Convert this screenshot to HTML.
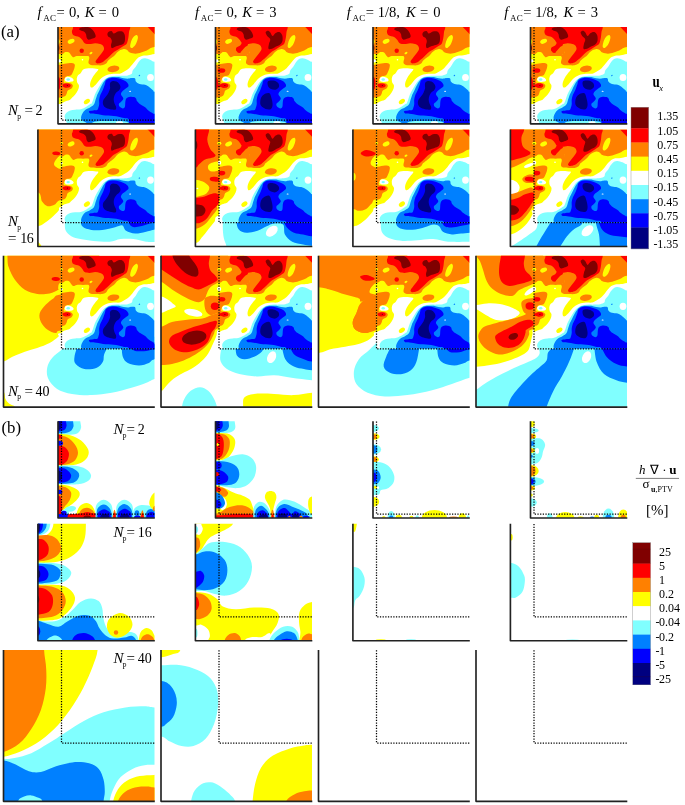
<!DOCTYPE html>
<html><head><meta charset="utf-8"><title>Figure</title>
<style>html,body{margin:0;padding:0;background:#fff}svg{display:block}text{font-family:"Liberation Serif",serif;fill:#000}</style>
</head><body>
<svg width="685" height="805" viewBox="0 0 685 805">
<rect width="685" height="805" fill="#fff"/>
<defs>
<clipPath id="cp0"><rect x="-3.5" y="0" width="96.5" height="96.5"/></clipPath>
<clipPath id="cp1"><rect x="-23.6" y="0" width="116.6" height="116.6"/></clipPath>
<clipPath id="cp2"><rect x="-58.0" y="0" width="151.0" height="151.0"/></clipPath>
<clipPath id="ci"><rect x="0" y="0" width="93.0" height="93.0"/></clipPath>
</defs>
<g transform="translate(61.5,27.0)">
<g clip-path="url(#cp0)">
<rect x="-60" y="0" width="160" height="160" fill="#fff"/>
<path fill="#ffff00" d="M120.0,-20.0L104.5,26.7C104.5,26.7 96.0,26.8 93.0,27.1C90.1,27.4 88.8,28.1 86.9,28.3C84.9,28.6 82.8,28.4 81.2,28.7C79.6,29.1 78.4,29.5 77.2,30.3C76.0,31.1 75.1,32.3 74.0,33.5C72.9,34.7 71.9,36.3 70.8,37.6C69.7,38.8 68.8,40.1 67.6,41.2C66.4,42.2 65.1,43.1 63.6,44.0C62.0,44.9 60.2,46.2 58.3,46.7C56.3,47.1 54.0,46.5 51.9,46.7C49.7,46.9 47.2,47.4 45.4,47.9C43.7,48.4 42.6,49.1 41.4,49.9C40.2,50.7 39.3,51.6 38.2,52.7C37.1,53.8 36.1,55.5 35.0,56.7C33.9,57.9 32.7,59.3 31.8,59.9C30.8,60.5 29.8,60.9 29.2,60.3C28.7,59.8 28.4,58.1 28.6,56.7C28.7,55.3 29.4,53.5 30.2,51.9C31.0,50.3 32.3,48.6 33.4,47.1C34.5,45.6 36.2,43.9 36.6,43.1C37.0,42.2 37.1,42.2 35.8,41.9C34.5,41.6 30.8,41.2 28.6,41.3C26.3,41.4 23.7,41.5 22.1,42.3C20.6,43.0 20.3,44.9 19.3,45.9C18.4,46.9 17.2,47.4 16.5,48.3C15.9,49.2 15.5,50.3 15.3,51.5C15.2,52.7 15.4,54.3 15.7,55.5C16.1,56.7 17.4,57.5 17.5,58.7C17.6,60.0 17.2,61.7 16.5,63.1C15.9,64.6 14.8,66.2 13.7,67.6C12.6,68.9 11.1,70.3 10.1,71.2C9.1,72.1 9.1,72.5 8.0,73.1C6.8,73.7 4.5,74.1 3.1,74.7C1.8,75.3 0.9,76.3 -0.1,76.7C-1.1,77.1 -1.8,77.0 -2.9,77.1C-4.0,77.3 -4.3,77.5 -6.5,77.5C-8.7,77.6 -16.1,77.5 -16.1,77.5L-20.0,-20.0L120.0,-20.0Z"/>
<path fill="#ffffff" d="M3.8,50.5C4.4,50.0 5.8,49.7 6.7,49.7C7.7,49.7 8.8,50.1 9.6,50.5C10.4,50.8 11.1,51.4 11.6,51.9C12.0,52.4 12.3,52.9 12.1,53.4C11.9,53.8 11.2,54.4 10.4,54.6C9.5,54.9 8.2,55.0 7.1,55.0C6.1,55.0 5.0,55.0 4.3,54.6C3.7,54.2 3.2,53.3 3.1,52.6C3.0,51.9 3.2,51.0 3.8,50.5Z"/>
<ellipse fill="#80ffff" cx="6.7" cy="52.5" rx="1.7" ry="1.2"/>
<path fill="#ff8000" d="M120.0,-20.0L104.5,19.5C104.5,19.5 95.6,19.6 93.0,19.9C90.5,20.2 90.6,20.5 89.3,21.1C88.0,21.7 86.9,22.8 85.3,23.5C83.6,24.2 81.5,25.0 79.6,25.5C77.8,26.0 75.9,26.7 74.0,26.7C72.1,26.7 69.9,26.2 68.4,25.5C66.9,24.8 66.2,23.3 65.2,22.7C64.2,22.1 63.4,21.8 62.4,21.9C61.3,22.0 59.9,22.5 58.8,23.1C57.6,23.7 56.4,24.7 55.5,25.5C54.7,26.3 54.3,27.1 53.5,27.9C52.7,28.7 51.9,29.4 50.7,30.3C49.6,31.3 47.7,32.5 46.7,33.5C45.7,34.6 45.6,35.9 44.6,36.6C43.6,37.4 42.2,38.0 40.6,38.3C39.0,38.5 36.9,38.3 35.0,38.3C33.1,38.2 30.7,38.3 29.4,37.9C28.0,37.5 27.2,37.0 27.0,35.8C26.7,34.7 27.8,32.2 27.8,31.0C27.7,29.9 27.6,29.3 26.6,29.0C25.5,28.7 23.5,29.1 21.6,29.1C19.7,29.1 16.8,28.9 15.2,29.1C13.6,29.3 12.8,30.4 12.0,30.3C11.1,30.3 10.7,29.5 10.0,28.7C9.2,27.9 8.6,26.1 7.6,25.5C6.5,24.9 4.9,24.9 3.9,25.1C2.9,25.3 2.7,26.4 1.5,26.7C0.4,27.0 -1.5,26.9 -2.9,27.0C-4.2,27.0 -4.3,27.0 -6.5,27.0C-8.7,27.0 -16.1,27.0 -16.1,27.0L-20.0,-20.0L120.0,-20.0Z"/>
<path fill="#ff8000" d="M-16.1,38.0C-16.1,38.0 -8.7,38.0 -6.5,38.0C-4.3,38.0 -4.5,38.2 -2.9,38.0C-1.3,37.8 0.9,37.1 3.1,36.8C5.3,36.4 8.7,35.8 10.4,35.9C12.0,36.1 12.8,36.6 13.2,37.6C13.6,38.5 13.1,40.2 12.8,41.6C12.4,42.9 11.8,44.4 11.2,45.6C10.6,46.8 10.2,48.0 9.2,48.6C8.1,49.3 5.8,48.8 4.7,49.4C3.7,50.0 3.1,51.2 2.7,52.2C2.3,53.2 1.9,54.8 2.3,55.4C2.8,56.0 4.3,55.6 5.5,55.8C6.7,56.0 8.6,56.2 9.6,56.6C10.5,57.1 11.3,57.8 11.3,58.6C11.4,59.5 10.8,60.7 10.0,61.5C9.1,62.3 7.1,62.6 6.3,63.5C5.5,64.3 5.6,65.7 5.1,66.7C4.7,67.6 4.4,68.5 3.5,69.1C2.7,69.7 1.0,70.0 -0.1,70.3C-1.1,70.6 -1.8,70.6 -2.9,70.7C-4.0,70.8 -4.3,70.7 -6.5,70.7C-8.7,70.7 -16.1,70.7 -16.1,70.7L-16.1,38.0Z"/>
<ellipse fill="#ff8000" cx="51.9" cy="41.9" rx="6.0" ry="3.2" transform="rotate(-8 51.9 41.9)"/>
<path fill="#ff0000" d="M11.6,-0.2C11.4,2.8 10.3,3.2 10.4,4.6C10.4,6.0 10.8,7.4 12.0,8.2C13.2,9.1 16.1,9.1 17.6,9.9C19.1,10.7 19.9,12.0 20.8,13.1C21.7,14.1 22.0,15.6 23.2,16.3C24.4,16.9 26.3,17.1 28.0,17.1C29.8,17.1 31.9,16.3 33.6,16.3C35.4,16.3 37.1,16.6 38.5,17.1C39.8,17.5 41.0,18.2 41.7,19.1C42.3,20.0 42.7,21.1 42.5,22.3C42.2,23.5 41.0,25.0 40.1,26.3C39.1,27.7 37.9,28.9 36.9,30.3C35.9,31.7 34.2,33.7 34.0,34.7C33.9,35.7 35.0,36.2 36.1,36.4C37.1,36.5 39.2,36.1 40.5,35.5C41.7,35.0 42.5,34.2 43.7,33.1C44.9,32.1 46.5,30.7 47.8,29.4C49.2,28.2 50.3,26.6 51.9,25.4C53.4,24.2 55.5,23.4 57.1,22.3C58.8,21.2 60.6,20.0 62.0,19.1C63.3,18.2 64.4,18.0 65.2,16.7C66.0,15.3 66.4,13.1 66.8,11.1C67.2,9.1 67.3,6.5 67.6,4.6C67.9,2.8 68.6,2.8 68.8,-0.2C69.0,-3.1 68.8,-13.0 68.8,-13.0L11.6,-13.0C11.6,-13.0 11.8,-3.1 11.6,-0.2Z"/>
<path fill="#ff0000" d="M85.7,-0.6L94.1,8.2L94.1,-0.6L85.7,-0.6Z"/>
<ellipse fill="#ff0000" cx="20.2" cy="23.7" rx="2.2" ry="2.2"/>
<path fill="#ff0000" d="M1.1,57.8C1.5,57.3 2.8,56.8 3.9,56.6C5.1,56.5 7.1,56.7 8.0,57.0C8.8,57.4 9.2,58.1 9.2,58.6C9.2,59.2 8.7,59.9 8.0,60.3C7.2,60.6 5.7,60.7 4.7,60.7C3.7,60.6 2.5,60.3 1.9,59.9C1.3,59.4 0.8,58.4 1.1,57.8Z"/>
<ellipse fill="#800000" cx="5.9" cy="58.5" rx="0.7" ry="0.6"/>
<path fill="#800000" d="M17.6,2.2C17.7,1.7 18.4,0.8 20.0,0.5C21.6,0.1 25.3,-0.2 27.2,0.2C29.1,0.6 30.2,1.9 31.2,3.0C32.3,4.2 33.2,5.9 33.6,7.0C34.1,8.2 34.4,9.1 34.0,9.9C33.6,10.6 32.4,11.0 31.2,11.5C30.1,11.9 28.2,12.8 27.2,12.7C26.2,12.5 25.7,11.6 25.2,10.7C24.7,9.7 24.9,8.0 24.4,7.0C23.9,6.0 23.3,5.2 22.4,4.6C21.5,4.0 20.0,3.8 19.2,3.4C18.4,3.0 17.5,2.7 17.6,2.2Z"/>
<path fill="#800000" d="M45.9,7.0C46.0,6.2 46.8,5.1 47.5,4.6C48.3,4.2 49.5,3.9 50.3,4.2C51.1,4.6 51.3,6.6 52.3,6.6C53.3,6.7 54.9,5.0 56.3,4.6C57.8,4.3 59.6,4.1 60.8,4.6C61.9,5.2 62.7,6.4 63.2,7.8C63.6,9.3 63.6,12.0 63.4,13.5C63.2,14.9 62.9,15.9 62.0,16.7C61.1,17.5 59.4,17.7 58.0,18.3C56.5,18.8 54.4,19.4 53.1,19.9C51.9,20.4 50.9,21.4 50.3,21.1C49.7,20.8 49.5,19.4 49.5,18.3C49.5,17.1 50.4,15.5 50.3,14.3C50.3,13.1 49.7,11.9 49.1,11.1C48.5,10.3 47.2,10.1 46.7,9.5C46.2,8.8 45.8,7.8 45.9,7.0Z"/>
<ellipse fill="#ffff00" cx="9.6" cy="14.3" rx="3.6" ry="2.2" transform="rotate(-25 9.6 14.3)"/>
<ellipse fill="#ffff00" cx="29.5" cy="26.1" rx="1.6" ry="1.0" transform="rotate(-30 29.5 26.1)"/>
<path fill="#ffff00" d="M75.6,8.2C76.1,8.6 76.6,9.6 76.4,11.1C76.2,12.5 75.3,15.5 74.4,17.1C73.5,18.7 72.1,20.2 71.2,20.7C70.3,21.2 69.1,20.7 68.8,19.9C68.5,19.1 68.8,17.3 69.2,15.9C69.6,14.4 70.5,12.3 71.2,11.1C71.9,9.9 72.9,9.1 73.6,8.6C74.3,8.2 75.1,7.8 75.6,8.2Z"/>
<ellipse fill="#ffff00" cx="25.4" cy="74.5" rx="3.4" ry="2.2" transform="rotate(-35 25.4 74.5)"/>
<ellipse fill="#ffffff" cx="21.0" cy="32.7" rx="0.8" ry="0.8"/>
<path fill="#80ffff" d="M104.5,34.7C104.5,34.7 95.7,35.1 93.0,34.7C90.4,34.4 90.0,33.3 88.5,32.7C86.9,32.2 85.1,31.4 83.6,31.3C82.2,31.2 81.2,31.4 80.0,32.1C78.9,32.8 77.8,34.3 76.8,35.5C75.9,36.8 75.3,38.2 74.4,39.6C73.5,40.9 71.9,42.4 71.2,43.6C70.5,44.8 71.1,46.0 70.3,46.8C69.4,47.6 67.8,48.1 66.2,48.4C64.6,48.8 62.5,48.8 60.6,48.8C58.7,48.9 56.7,48.8 55.0,48.8C53.3,48.9 51.7,49.0 50.2,49.2C48.7,49.5 47.4,49.9 46.2,50.4C45.0,51.0 43.9,51.6 43.0,52.5C42.0,53.3 41.3,54.2 40.5,55.3C39.7,56.3 38.9,57.6 38.1,58.9C37.3,60.1 36.5,61.4 35.7,62.9C34.9,64.4 34.0,66.1 33.3,67.7C32.6,69.3 32.2,71.1 31.7,72.5C31.2,74.0 30.6,75.8 30.1,76.5C29.6,77.3 29.8,76.5 28.8,77.1C27.8,77.7 25.6,79.5 24.0,80.3C22.4,81.2 20.9,81.9 19.2,82.3C17.5,82.7 15.3,82.5 13.6,82.7C11.8,82.9 10.2,83.0 8.8,83.5C7.3,84.1 5.7,85.0 4.7,85.9C3.8,86.9 3.3,88.1 3.1,89.2C3.0,90.2 3.5,91.2 3.9,92.4C4.3,93.6 5.3,94.9 5.5,96.4C5.8,97.9 5.5,101.2 5.5,101.2L120.0,110.0L104.5,34.7Z"/>
<path fill="#0080ff" d="M104.5,65.1C104.5,65.1 95.2,64.9 93.0,64.7C90.9,64.4 92.4,64.1 91.7,63.5C90.9,62.8 89.8,61.6 88.5,60.7C87.1,59.7 85.4,58.4 83.6,57.8C81.9,57.2 79.6,57.6 78.0,57.0C76.5,56.5 75.1,55.6 74.4,54.6C73.7,53.7 74.3,52.0 73.6,51.4C72.9,50.8 71.1,51.0 70.0,51.0C68.9,51.1 68.3,51.6 67.0,51.6C65.7,51.7 63.8,51.5 62.2,51.2C60.6,51.0 59.0,50.3 57.4,50.0C55.8,49.8 54.1,49.9 52.6,49.9C51.1,49.9 49.8,49.9 48.6,50.2C47.4,50.5 46.3,51.0 45.4,51.6C44.4,52.3 43.8,53.0 43.0,54.1C42.1,55.1 41.3,56.6 40.5,58.1C39.7,59.5 38.9,61.3 38.1,62.9C37.3,64.5 36.4,66.1 35.7,67.7C35.1,69.3 34.7,70.9 34.1,72.5C33.6,74.1 33.4,76.0 32.5,77.3C31.6,78.6 30.2,79.4 28.8,80.3C27.4,81.2 25.3,81.8 24.0,82.7C22.7,83.7 21.9,84.7 21.2,85.9C20.5,87.2 19.7,88.8 19.6,90.0C19.5,91.2 19.4,92.1 20.4,93.2C21.4,94.2 24.7,95.0 25.6,96.4C26.5,97.7 25.6,101.2 25.6,101.2L120.0,110.0L104.5,65.1Z"/>
<path fill="#0000ff" d="M44.6,53.3C45.4,52.3 47.2,51.6 48.6,51.2C49.9,50.8 51.1,50.8 52.6,50.8C54.1,50.9 55.8,51.2 57.4,51.6C59.0,52.1 60.8,52.6 62.2,53.3C63.6,53.9 65.0,54.7 65.8,55.7C66.6,56.6 67.2,57.9 67.0,58.9C66.8,59.8 65.6,60.5 64.6,61.3C63.7,62.1 62.3,62.8 61.4,63.7C60.5,64.6 59.5,66.0 59.4,66.9C59.3,67.8 60.2,68.5 60.6,69.3C61.0,70.1 62.0,70.9 61.8,71.7C61.7,72.6 60.5,73.7 59.8,74.5C59.1,75.4 57.7,76.1 57.4,76.9C57.1,77.8 57.5,79.0 58.2,79.8C58.9,80.5 60.5,81.4 61.4,81.4C62.3,81.4 63.0,80.8 63.4,79.8C63.8,78.7 63.6,76.3 63.8,74.9C64.1,73.5 64.2,72.2 65.0,71.3C65.8,70.5 67.4,69.9 68.6,69.7C69.9,69.5 71.7,69.8 72.7,70.1C73.7,70.5 74.2,71.1 74.7,71.7C75.1,72.4 74.8,73.2 75.5,74.1C76.1,75.1 77.3,76.3 78.7,77.3C80.0,78.4 82.3,79.3 83.6,80.3C85.0,81.4 85.7,82.6 86.9,83.5C88.1,84.5 89.8,85.4 90.9,85.9C91.9,86.5 90.8,86.6 93.0,86.8C95.3,87.0 104.5,87.2 104.5,87.2L104.5,101.2L67.1,101.5C67.1,101.5 67.8,94.0 67.1,92.3C66.3,90.6 64.5,91.6 62.5,91.1C60.4,90.6 57.9,89.7 54.8,89.2C51.7,88.8 47.4,88.9 44.1,88.5C40.8,88.1 37.4,87.3 34.9,86.9C32.3,86.6 30.0,86.8 28.8,86.4C27.6,85.9 27.1,84.8 27.6,84.3C28.1,83.8 30.4,83.6 31.7,83.4C33.1,83.1 34.9,83.4 35.7,83.0C36.6,82.5 36.6,81.5 36.9,80.6C37.3,79.6 37.6,78.7 37.7,77.3C37.9,76.0 37.5,74.1 37.7,72.5C37.9,70.9 38.3,69.3 38.9,67.7C39.5,66.1 40.6,64.6 41.3,62.9C42.1,61.2 42.8,58.9 43.4,57.3C43.9,55.7 43.7,54.3 44.6,53.3Z"/>
<path fill="#000080" d="M49.0,55.3C49.5,54.6 50.4,54.0 51.4,53.9C52.4,53.8 53.9,54.0 55.0,54.5C56.1,55.0 57.1,55.9 57.8,56.9C58.5,57.8 59.0,59.1 59.0,60.1C59.0,61.1 58.5,62.0 57.8,62.9C57.1,63.8 55.8,64.4 55.0,65.3C54.2,66.2 53.5,67.3 53.0,68.5C52.5,69.7 52.2,71.2 52.2,72.5C52.2,73.9 52.6,75.3 53.0,76.5C53.4,77.7 54.4,78.7 54.6,79.8C54.8,80.8 54.8,82.1 54.2,82.6C53.6,83.0 52.4,82.8 51.0,82.6C49.6,82.4 47.2,81.9 45.8,81.4C44.4,80.8 43.3,80.3 42.6,79.4C41.8,78.4 41.4,76.9 41.3,75.7C41.3,74.6 41.6,73.6 42.1,72.5C42.7,71.5 43.8,70.5 44.6,69.3C45.4,68.2 46.3,67.0 47.0,65.7C47.6,64.4 48.3,62.6 48.6,61.3C48.8,59.9 48.3,58.7 48.4,57.7C48.5,56.7 48.5,55.9 49.0,55.3Z"/>
<ellipse fill="#ffffff" cx="89.0" cy="50.5" rx="3.4" ry="3.6"/>
<ellipse fill="#0080ff" cx="77.9" cy="48.5" rx="0.8" ry="0.6" transform="rotate(-30 77.9 48.5)"/>
<ellipse fill="#ffffff" cx="68.6" cy="64.3" rx="1.0" ry="0.5"/>
<ellipse fill="#ff0000" cx="-3.6" cy="56.5" rx="2.6" ry="7.0"/>
<ellipse fill="#800000" cx="-3.6" cy="21.0" rx="1.5" ry="3.0"/>
<ellipse fill="#ffff00" cx="-3.3" cy="14.5" rx="1.5" ry="2.5"/>
<ellipse fill="#ffffff" cx="-2.2" cy="33.8" rx="1.8" ry="1.6"/>
<path fill="#80ffff" d="M30.0,98.0C30.0,98.0 30.0,96.1 31.0,95.5C32.0,94.9 32.8,94.5 36.0,94.2C39.2,94.0 45.7,94.0 50.0,94.0C54.3,94.0 59.2,94.0 62.0,94.2C64.8,94.5 66.0,94.9 67.0,95.5C68.0,96.1 68.0,98.0 68.0,98.0L30.0,98.0Z"/>
<ellipse fill="#ffffff" cx="58.0" cy="95.6" rx="3.5" ry="1.4"/>
</g>
<path d="M0,0.3V93.0H93.3" fill="none" stroke="#000" stroke-width="1.25" stroke-dasharray="1.25 1.42"/><path d="M-3.50,0V96.80H93.3" fill="none" stroke="#222" stroke-width="1.65" stroke-linejoin="round"/>
</g>
<g transform="translate(219.0,27.0)">
<g clip-path="url(#cp0)">
<rect x="-60" y="0" width="160" height="160" fill="#fff"/>
<path fill="#ffff00" d="M120.0,-20.0L104.5,26.7C104.5,26.7 96.0,26.8 93.0,27.1C90.1,27.4 88.8,28.1 86.9,28.3C84.9,28.6 82.8,28.4 81.2,28.7C79.6,29.1 78.4,29.5 77.2,30.3C76.0,31.1 75.1,32.3 74.0,33.5C72.9,34.7 71.9,36.3 70.8,37.6C69.7,38.8 68.8,40.1 67.6,41.2C66.4,42.2 65.1,43.1 63.6,44.0C62.0,44.9 60.2,46.2 58.3,46.7C56.3,47.1 54.0,46.5 51.9,46.7C49.7,46.9 47.2,47.4 45.4,47.9C43.7,48.4 42.6,49.1 41.4,49.9C40.2,50.7 39.3,51.6 38.2,52.7C37.1,53.8 36.1,55.5 35.0,56.7C33.9,57.9 32.7,59.3 31.8,59.9C30.8,60.5 29.8,60.9 29.2,60.3C28.7,59.8 28.4,58.1 28.6,56.7C28.7,55.3 29.4,53.5 30.2,51.9C31.0,50.3 32.3,48.6 33.4,47.1C34.5,45.6 36.2,43.9 36.6,43.1C37.0,42.2 37.1,42.2 35.8,41.9C34.5,41.6 30.8,41.2 28.6,41.3C26.3,41.4 23.7,41.5 22.1,42.3C20.6,43.0 20.3,44.9 19.3,45.9C18.4,46.9 17.2,47.4 16.5,48.3C15.9,49.2 15.5,50.3 15.3,51.5C15.2,52.7 15.4,54.3 15.7,55.5C16.1,56.7 17.4,57.5 17.5,58.7C17.6,60.0 17.2,61.7 16.5,63.1C15.9,64.6 14.8,66.2 13.7,67.6C12.6,68.9 11.1,70.3 10.1,71.2C9.1,72.1 9.1,72.5 8.0,73.1C6.8,73.7 4.5,74.1 3.1,74.7C1.8,75.3 0.9,76.3 -0.1,76.7C-1.1,77.1 -1.8,77.0 -2.9,77.1C-4.0,77.3 -4.3,77.5 -6.5,77.5C-8.7,77.6 -16.1,77.5 -16.1,77.5L-20.0,-20.0L120.0,-20.0Z"/>
<path fill="#ffffff" d="M3.8,50.5C4.4,50.0 5.8,49.7 6.7,49.7C7.7,49.7 8.8,50.1 9.6,50.5C10.4,50.8 11.1,51.4 11.6,51.9C12.0,52.4 12.3,52.9 12.1,53.4C11.9,53.8 11.2,54.4 10.4,54.6C9.5,54.9 8.2,55.0 7.1,55.0C6.1,55.0 5.0,55.0 4.3,54.6C3.7,54.2 3.2,53.3 3.1,52.6C3.0,51.9 3.2,51.0 3.8,50.5Z"/>
<ellipse fill="#80ffff" cx="6.7" cy="52.5" rx="1.7" ry="1.2"/>
<path fill="#ff8000" d="M120.0,-20.0L104.5,19.5C104.5,19.5 95.6,19.6 93.0,19.9C90.5,20.2 90.6,20.5 89.3,21.1C88.0,21.7 86.9,22.8 85.3,23.5C83.6,24.2 81.5,25.0 79.6,25.5C77.8,26.0 75.9,26.7 74.0,26.7C72.1,26.7 69.9,26.2 68.4,25.5C66.9,24.8 66.2,23.3 65.2,22.7C64.2,22.1 63.4,21.8 62.4,21.9C61.3,22.0 59.9,22.5 58.8,23.1C57.6,23.7 56.4,24.7 55.5,25.5C54.7,26.3 54.3,27.1 53.5,27.9C52.7,28.7 51.9,29.4 50.7,30.3C49.6,31.3 47.7,32.5 46.7,33.5C45.7,34.6 45.6,35.9 44.6,36.6C43.6,37.4 42.2,38.0 40.6,38.3C39.0,38.5 36.9,38.3 35.0,38.3C33.1,38.2 30.7,38.3 29.4,37.9C28.0,37.5 27.2,37.0 27.0,35.8C26.7,34.7 27.8,32.2 27.8,31.0C27.7,29.9 27.6,29.3 26.6,29.0C25.5,28.7 23.5,29.1 21.6,29.1C19.7,29.1 16.8,28.9 15.2,29.1C13.6,29.3 12.8,30.4 12.0,30.3C11.1,30.3 10.7,29.5 10.0,28.7C9.2,27.9 8.6,26.1 7.6,25.5C6.5,24.9 4.9,24.9 3.9,25.1C2.9,25.3 2.7,26.4 1.5,26.7C0.4,27.0 -1.5,26.9 -2.9,27.0C-4.2,27.0 -4.3,27.0 -6.5,27.0C-8.7,27.0 -16.1,27.0 -16.1,27.0L-20.0,-20.0L120.0,-20.0Z"/>
<path fill="#ff8000" d="M-16.1,38.0C-16.1,38.0 -8.7,38.0 -6.5,38.0C-4.3,38.0 -4.5,38.2 -2.9,38.0C-1.3,37.8 0.9,37.1 3.1,36.8C5.3,36.4 8.7,35.8 10.4,35.9C12.0,36.1 12.8,36.6 13.2,37.6C13.6,38.5 13.1,40.2 12.8,41.6C12.4,42.9 11.8,44.4 11.2,45.6C10.6,46.8 10.2,48.0 9.2,48.6C8.1,49.3 5.8,48.8 4.7,49.4C3.7,50.0 3.1,51.2 2.7,52.2C2.3,53.2 1.9,54.8 2.3,55.4C2.8,56.0 4.3,55.6 5.5,55.8C6.7,56.0 8.6,56.2 9.6,56.6C10.5,57.1 11.3,57.8 11.3,58.6C11.4,59.5 10.8,60.7 10.0,61.5C9.1,62.3 7.1,62.6 6.3,63.5C5.5,64.3 5.6,65.7 5.1,66.7C4.7,67.6 4.4,68.5 3.5,69.1C2.7,69.7 1.0,70.0 -0.1,70.3C-1.1,70.6 -1.8,70.6 -2.9,70.7C-4.0,70.8 -4.3,70.7 -6.5,70.7C-8.7,70.7 -16.1,70.7 -16.1,70.7L-16.1,38.0Z"/>
<ellipse fill="#ff8000" cx="51.9" cy="41.9" rx="6.0" ry="3.2" transform="rotate(-8 51.9 41.9)"/>
<path fill="#ff0000" d="M11.6,-0.2C11.4,2.8 10.3,3.2 10.4,4.6C10.4,6.0 10.8,7.4 12.0,8.2C13.2,9.1 16.1,9.1 17.6,9.9C19.1,10.7 19.9,12.0 20.8,13.1C21.7,14.1 22.0,15.6 23.2,16.3C24.4,16.9 26.3,17.1 28.0,17.1C29.8,17.1 31.9,16.3 33.6,16.3C35.4,16.3 37.1,16.6 38.5,17.1C39.8,17.5 41.0,18.2 41.7,19.1C42.3,20.0 42.7,21.1 42.5,22.3C42.2,23.5 41.0,25.0 40.1,26.3C39.1,27.7 37.9,28.9 36.9,30.3C35.9,31.7 34.2,33.7 34.0,34.7C33.9,35.7 35.0,36.2 36.1,36.4C37.1,36.5 39.2,36.1 40.5,35.5C41.7,35.0 42.5,34.2 43.7,33.1C44.9,32.1 46.5,30.7 47.8,29.4C49.2,28.2 50.3,26.6 51.9,25.4C53.4,24.2 55.5,23.4 57.1,22.3C58.8,21.2 60.6,20.0 62.0,19.1C63.3,18.2 64.4,18.0 65.2,16.7C66.0,15.3 66.4,13.1 66.8,11.1C67.2,9.1 67.3,6.5 67.6,4.6C67.9,2.8 68.6,2.8 68.8,-0.2C69.0,-3.1 68.8,-13.0 68.8,-13.0L11.6,-13.0C11.6,-13.0 11.8,-3.1 11.6,-0.2Z"/>
<path fill="#ff0000" d="M85.7,-0.6L94.1,8.2L94.1,-0.6L85.7,-0.6Z"/>
<ellipse fill="#ff0000" cx="20.2" cy="23.7" rx="2.2" ry="2.2"/>
<path fill="#ff0000" d="M1.1,57.8C1.5,57.3 2.8,56.8 3.9,56.6C5.1,56.5 7.1,56.7 8.0,57.0C8.8,57.4 9.2,58.1 9.2,58.6C9.2,59.2 8.7,59.9 8.0,60.3C7.2,60.6 5.7,60.7 4.7,60.7C3.7,60.6 2.5,60.3 1.9,59.9C1.3,59.4 0.8,58.4 1.1,57.8Z"/>
<ellipse fill="#800000" cx="5.9" cy="58.5" rx="0.7" ry="0.6"/>
<path fill="#800000" d="M17.6,2.2C17.7,1.7 18.4,0.8 20.0,0.5C21.6,0.1 25.3,-0.2 27.2,0.2C29.1,0.6 30.2,1.9 31.2,3.0C32.3,4.2 33.2,5.9 33.6,7.0C34.1,8.2 34.4,9.1 34.0,9.9C33.6,10.6 32.4,11.0 31.2,11.5C30.1,11.9 28.2,12.8 27.2,12.7C26.2,12.5 25.7,11.6 25.2,10.7C24.7,9.7 24.9,8.0 24.4,7.0C23.9,6.0 23.3,5.2 22.4,4.6C21.5,4.0 20.0,3.8 19.2,3.4C18.4,3.0 17.5,2.7 17.6,2.2Z"/>
<path fill="#800000" d="M46.6,5.3C46.8,4.4 48.2,3.7 48.9,3.7C49.7,3.7 50.5,4.4 51.2,5.3C52.0,6.2 52.7,9.0 53.5,9.1C54.4,9.2 55.5,6.7 56.6,6.0C57.8,5.3 59.3,4.6 60.4,5.0C61.5,5.3 62.7,6.9 63.2,8.3C63.7,9.8 63.8,12.2 63.5,13.7C63.2,15.2 62.4,16.5 61.2,17.5C60.1,18.5 58.1,19.1 56.6,19.8C55.1,20.6 53.2,21.9 52.0,22.1C50.8,22.4 49.7,22.3 49.4,21.4C49.1,20.5 49.7,18.3 50.0,16.8C50.3,15.2 51.6,13.4 51.2,12.2C50.9,10.9 48.9,10.2 48.2,9.1C47.4,7.9 46.5,6.2 46.6,5.3Z"/>
<ellipse fill="#ffff00" cx="9.6" cy="14.3" rx="3.6" ry="2.2" transform="rotate(-25 9.6 14.3)"/>
<ellipse fill="#ffff00" cx="29.5" cy="26.1" rx="1.6" ry="1.0" transform="rotate(-30 29.5 26.1)"/>
<path fill="#ffff00" d="M75.6,8.2C76.1,8.6 76.6,9.6 76.4,11.1C76.2,12.5 75.3,15.5 74.4,17.1C73.5,18.7 72.1,20.2 71.2,20.7C70.3,21.2 69.1,20.7 68.8,19.9C68.5,19.1 68.8,17.3 69.2,15.9C69.6,14.4 70.5,12.3 71.2,11.1C71.9,9.9 72.9,9.1 73.6,8.6C74.3,8.2 75.1,7.8 75.6,8.2Z"/>
<ellipse fill="#ffff00" cx="25.4" cy="74.5" rx="3.4" ry="2.2" transform="rotate(-35 25.4 74.5)"/>
<ellipse fill="#ffffff" cx="21.0" cy="32.7" rx="0.8" ry="0.8"/>
<path fill="#80ffff" d="M104.5,34.7C104.5,34.7 95.7,35.1 93.0,34.7C90.4,34.4 90.0,33.3 88.5,32.7C86.9,32.2 85.1,31.4 83.6,31.3C82.2,31.2 81.2,31.4 80.0,32.1C78.9,32.8 77.8,34.3 76.8,35.5C75.9,36.8 75.3,38.2 74.4,39.6C73.5,40.9 71.9,42.4 71.2,43.6C70.5,44.8 71.1,46.0 70.3,46.8C69.4,47.6 67.8,48.1 66.2,48.4C64.6,48.8 62.5,48.8 60.6,48.8C58.7,48.9 56.7,48.8 55.0,48.8C53.3,48.9 51.7,49.0 50.2,49.2C48.7,49.5 47.4,49.9 46.2,50.4C45.0,51.0 43.9,51.6 43.0,52.5C42.0,53.3 41.3,54.2 40.5,55.3C39.7,56.3 38.9,57.6 38.1,58.9C37.3,60.1 36.5,61.4 35.7,62.9C34.9,64.4 34.0,66.1 33.3,67.7C32.6,69.3 32.2,71.1 31.7,72.5C31.2,74.0 30.6,75.8 30.1,76.5C29.6,77.3 29.8,76.5 28.8,77.1C27.8,77.7 25.6,79.5 24.0,80.3C22.4,81.2 20.9,81.9 19.2,82.3C17.5,82.7 15.3,82.5 13.6,82.7C11.8,82.9 10.2,83.0 8.8,83.5C7.3,84.1 5.7,85.0 4.7,85.9C3.8,86.9 3.3,88.1 3.1,89.2C3.0,90.2 3.5,91.2 3.9,92.4C4.3,93.6 5.3,94.9 5.5,96.4C5.8,97.9 5.5,101.2 5.5,101.2L120.0,110.0L104.5,34.7Z"/>
<path fill="#0080ff" d="M104.5,65.1C104.5,65.1 95.2,64.9 93.0,64.7C90.9,64.4 92.4,64.1 91.7,63.5C90.9,62.8 89.8,61.6 88.5,60.7C87.1,59.7 85.4,58.4 83.6,57.8C81.9,57.2 79.6,57.6 78.0,57.0C76.5,56.5 75.1,55.6 74.4,54.6C73.7,53.7 74.3,52.0 73.6,51.4C72.9,50.8 71.1,51.0 70.0,51.0C68.9,51.1 68.3,51.6 67.0,51.6C65.7,51.7 63.8,51.5 62.2,51.2C60.6,51.0 59.0,50.3 57.4,50.0C55.8,49.8 54.1,49.9 52.6,49.9C51.1,49.9 49.8,49.9 48.6,50.2C47.4,50.5 46.3,51.0 45.4,51.6C44.4,52.3 43.8,53.0 43.0,54.1C42.1,55.1 41.3,56.6 40.5,58.1C39.7,59.5 38.9,61.3 38.1,62.9C37.3,64.5 36.4,66.1 35.7,67.7C35.1,69.3 34.7,70.9 34.1,72.5C33.6,74.1 33.4,76.0 32.5,77.3C31.6,78.6 30.2,79.4 28.8,80.3C27.4,81.2 25.3,81.8 24.0,82.7C22.7,83.7 21.9,84.7 21.2,85.9C20.5,87.2 19.7,88.8 19.6,90.0C19.5,91.2 19.4,92.1 20.4,93.2C21.4,94.2 24.7,95.0 25.6,96.4C26.5,97.7 25.6,101.2 25.6,101.2L120.0,110.0L104.5,65.1Z"/>
<path fill="#0000ff" d="M44.6,53.3C45.4,52.3 47.2,51.6 48.6,51.2C49.9,50.8 51.1,50.8 52.6,50.8C54.1,50.9 55.8,51.2 57.4,51.6C59.0,52.1 60.8,52.6 62.2,53.3C63.6,53.9 65.0,54.7 65.8,55.7C66.6,56.6 67.2,57.9 67.0,58.9C66.8,59.8 65.6,60.5 64.6,61.3C63.7,62.1 62.3,62.8 61.4,63.7C60.5,64.6 59.5,66.0 59.4,66.9C59.3,67.8 60.2,68.5 60.6,69.3C61.0,70.1 62.0,70.9 61.8,71.7C61.7,72.6 60.5,73.7 59.8,74.5C59.1,75.4 57.7,76.1 57.4,76.9C57.1,77.8 57.5,79.0 58.2,79.8C58.9,80.5 60.5,81.4 61.4,81.4C62.3,81.4 63.0,80.8 63.4,79.8C63.8,78.7 63.6,76.3 63.8,74.9C64.1,73.5 64.2,72.2 65.0,71.3C65.8,70.5 67.4,69.9 68.6,69.7C69.9,69.5 71.7,69.8 72.7,70.1C73.7,70.5 74.2,71.1 74.7,71.7C75.1,72.4 74.8,73.2 75.5,74.1C76.1,75.1 77.3,76.3 78.7,77.3C80.0,78.4 82.3,79.3 83.6,80.3C85.0,81.4 85.7,82.6 86.9,83.5C88.1,84.5 89.8,85.4 90.9,85.9C91.9,86.5 90.8,86.6 93.0,86.8C95.3,87.0 104.5,87.2 104.5,87.2L104.5,101.2L67.1,101.5C67.1,101.5 67.8,94.0 67.1,92.3C66.3,90.6 64.5,91.6 62.5,91.1C60.4,90.6 57.9,89.7 54.8,89.2C51.7,88.8 47.4,88.9 44.1,88.5C40.8,88.1 37.4,87.3 34.9,86.9C32.3,86.6 30.0,86.8 28.8,86.4C27.6,85.9 27.1,84.8 27.6,84.3C28.1,83.8 30.4,83.6 31.7,83.4C33.1,83.1 34.9,83.4 35.7,83.0C36.6,82.5 36.6,81.5 36.9,80.6C37.3,79.6 37.6,78.7 37.7,77.3C37.9,76.0 37.5,74.1 37.7,72.5C37.9,70.9 38.3,69.3 38.9,67.7C39.5,66.1 40.6,64.6 41.3,62.9C42.1,61.2 42.8,58.9 43.4,57.3C43.9,55.7 43.7,54.3 44.6,53.3Z"/>
<path fill="#000080" d="M49.0,54.3C49.9,53.4 52.6,53.3 54.3,53.6C55.9,53.8 58.0,54.8 58.9,55.8C59.9,56.8 60.4,58.5 60.0,59.7C59.6,60.8 57.9,62.3 56.6,62.7C55.3,63.1 53.3,62.6 52.0,62.0C50.8,61.4 49.5,60.2 49.0,58.9C48.5,57.6 48.1,55.2 49.0,54.3Z"/>
<path fill="#000080" d="M46.6,66.6C47.9,66.0 49.5,65.5 50.5,66.3C51.5,67.0 52.0,69.3 52.5,71.2C53.0,73.0 53.6,75.5 53.6,77.3C53.5,79.1 53.2,81.2 52.0,81.9C50.9,82.7 48.3,82.4 46.6,81.9C45.0,81.4 43.0,80.1 42.1,78.8C41.2,77.5 41.1,75.7 41.3,74.2C41.4,72.7 41.9,70.9 42.8,69.6C43.7,68.4 45.4,67.1 46.6,66.6Z"/>
<path fill="#ff0000" d="M24.4,13.7C23.1,13.8 22.5,17.1 21.4,18.3C20.2,19.4 18.2,19.7 17.5,20.6C16.8,21.5 16.8,22.9 17.2,23.7C17.6,24.4 18.9,25.2 19.8,25.2C20.8,25.2 21.9,24.5 22.9,23.7C23.9,22.8 24.9,21.3 26.0,20.3C27.0,19.3 29.3,18.6 29.0,17.5C28.8,16.4 25.7,13.6 24.4,13.7Z"/>
<path fill="#ff8000" d="M27.5,24.4C27.8,23.9 28.9,23.4 29.5,23.7C30.1,23.9 31.0,25.2 31.0,26.0C31.1,26.7 30.4,27.8 29.8,27.9C29.2,28.1 28.0,27.6 27.6,27.0C27.3,26.4 27.2,25.0 27.5,24.4Z"/>
<ellipse fill="#ff0000" cx="2.5" cy="43.5" rx="3.8" ry="2.3"/>
<path fill="#ff0000" d="M-6.5,57.0C-5.2,56.6 -0.6,57.9 1.1,57.8C2.9,57.8 2.8,56.8 3.9,56.6C5.1,56.5 7.1,56.7 8.0,57.0C8.8,57.4 9.2,58.1 9.2,58.6C9.2,59.2 8.7,59.9 8.0,60.3C7.2,60.6 5.7,60.7 4.7,60.7C3.7,60.6 3.8,59.9 1.9,59.9C0.1,59.8 -5.1,60.7 -6.5,60.3C-7.9,59.8 -7.8,57.4 -6.5,57.0Z"/>
<ellipse fill="#800000" cx="5.9" cy="58.5" rx="0.7" ry="0.6"/>
<ellipse fill="#ffffff" cx="89.0" cy="50.5" rx="3.4" ry="3.6"/>
<ellipse fill="#0080ff" cx="77.9" cy="48.5" rx="0.8" ry="0.6" transform="rotate(-30 77.9 48.5)"/>
<ellipse fill="#ffffff" cx="68.6" cy="64.3" rx="1.0" ry="0.5"/>
<ellipse fill="#ff0000" cx="-3.6" cy="56.5" rx="2.6" ry="7.0"/>
<ellipse fill="#800000" cx="-3.6" cy="21.0" rx="1.5" ry="3.0"/>
<ellipse fill="#ffff00" cx="-3.3" cy="14.5" rx="1.5" ry="2.5"/>
<ellipse fill="#ffffff" cx="-2.2" cy="33.8" rx="1.8" ry="1.6"/>
<path fill="#80ffff" d="M30.0,98.0C30.0,98.0 30.0,96.1 31.0,95.5C32.0,94.9 32.8,94.5 36.0,94.2C39.2,94.0 45.7,94.0 50.0,94.0C54.3,94.0 59.2,94.0 62.0,94.2C64.8,94.5 66.0,94.9 67.0,95.5C68.0,96.1 68.0,98.0 68.0,98.0L30.0,98.0Z"/>
<ellipse fill="#ffffff" cx="58.0" cy="95.6" rx="3.5" ry="1.4"/>
</g>
<path d="M0,0.3V93.0H93.3" fill="none" stroke="#000" stroke-width="1.25" stroke-dasharray="1.25 1.42"/><path d="M-3.50,0V96.80H93.3" fill="none" stroke="#222" stroke-width="1.65" stroke-linejoin="round"/>
</g>
<g transform="translate(376.5,27.0)">
<g clip-path="url(#cp0)">
<rect x="-60" y="0" width="160" height="160" fill="#fff"/>
<path fill="#ffff00" d="M120.0,-20.0L104.5,26.7C104.5,26.7 96.0,26.8 93.0,27.1C90.1,27.4 88.8,28.1 86.9,28.3C84.9,28.6 82.8,28.4 81.2,28.7C79.6,29.1 78.4,29.5 77.2,30.3C76.0,31.1 75.1,32.3 74.0,33.5C72.9,34.7 71.9,36.3 70.8,37.6C69.7,38.8 68.8,40.1 67.6,41.2C66.4,42.2 65.1,43.1 63.6,44.0C62.0,44.9 60.2,46.2 58.3,46.7C56.3,47.1 54.0,46.5 51.9,46.7C49.7,46.9 47.2,47.4 45.4,47.9C43.7,48.4 42.6,49.1 41.4,49.9C40.2,50.7 39.3,51.6 38.2,52.7C37.1,53.8 36.1,55.5 35.0,56.7C33.9,57.9 32.7,59.3 31.8,59.9C30.8,60.5 29.8,60.9 29.2,60.3C28.7,59.8 28.4,58.1 28.6,56.7C28.7,55.3 29.4,53.5 30.2,51.9C31.0,50.3 32.3,48.6 33.4,47.1C34.5,45.6 36.2,43.9 36.6,43.1C37.0,42.2 37.1,42.2 35.8,41.9C34.5,41.6 30.8,41.2 28.6,41.3C26.3,41.4 23.7,41.5 22.1,42.3C20.6,43.0 20.3,44.9 19.3,45.9C18.4,46.9 17.2,47.4 16.5,48.3C15.9,49.2 15.5,50.3 15.3,51.5C15.2,52.7 15.4,54.3 15.7,55.5C16.1,56.7 17.4,57.5 17.5,58.7C17.6,60.0 17.2,61.7 16.5,63.1C15.9,64.6 14.8,66.2 13.7,67.6C12.6,68.9 11.1,70.3 10.1,71.2C9.1,72.1 9.1,72.5 8.0,73.1C6.8,73.7 4.5,74.1 3.1,74.7C1.8,75.3 0.9,76.3 -0.1,76.7C-1.1,77.1 -1.8,77.0 -2.9,77.1C-4.0,77.3 -4.3,77.5 -6.5,77.5C-8.7,77.6 -16.1,77.5 -16.1,77.5L-20.0,-20.0L120.0,-20.0Z"/>
<path fill="#ffffff" d="M3.8,50.5C4.4,50.0 5.8,49.7 6.7,49.7C7.7,49.7 8.8,50.1 9.6,50.5C10.4,50.8 11.1,51.4 11.6,51.9C12.0,52.4 12.3,52.9 12.1,53.4C11.9,53.8 11.2,54.4 10.4,54.6C9.5,54.9 8.2,55.0 7.1,55.0C6.1,55.0 5.0,55.0 4.3,54.6C3.7,54.2 3.2,53.3 3.1,52.6C3.0,51.9 3.2,51.0 3.8,50.5Z"/>
<ellipse fill="#80ffff" cx="6.7" cy="52.5" rx="1.7" ry="1.2"/>
<path fill="#ff8000" d="M120.0,-20.0L104.5,19.5C104.5,19.5 95.6,19.6 93.0,19.9C90.5,20.2 90.6,20.5 89.3,21.1C88.0,21.7 86.9,22.8 85.3,23.5C83.6,24.2 81.5,25.0 79.6,25.5C77.8,26.0 75.9,26.7 74.0,26.7C72.1,26.7 69.9,26.2 68.4,25.5C66.9,24.8 66.2,23.3 65.2,22.7C64.2,22.1 63.4,21.8 62.4,21.9C61.3,22.0 59.9,22.5 58.8,23.1C57.6,23.7 56.4,24.7 55.5,25.5C54.7,26.3 54.3,27.1 53.5,27.9C52.7,28.7 51.9,29.4 50.7,30.3C49.6,31.3 47.7,32.5 46.7,33.5C45.7,34.6 45.6,35.9 44.6,36.6C43.6,37.4 42.2,38.0 40.6,38.3C39.0,38.5 36.9,38.3 35.0,38.3C33.1,38.2 30.7,38.3 29.4,37.9C28.0,37.5 27.2,37.0 27.0,35.8C26.7,34.7 27.8,32.2 27.8,31.0C27.7,29.9 27.6,29.3 26.6,29.0C25.5,28.7 23.5,29.1 21.6,29.1C19.7,29.1 16.8,28.9 15.2,29.1C13.6,29.3 12.8,30.4 12.0,30.3C11.1,30.3 10.7,29.5 10.0,28.7C9.2,27.9 8.6,26.1 7.6,25.5C6.5,24.9 4.9,24.9 3.9,25.1C2.9,25.3 2.7,26.4 1.5,26.7C0.4,27.0 -1.5,26.9 -2.9,27.0C-4.2,27.0 -4.3,27.0 -6.5,27.0C-8.7,27.0 -16.1,27.0 -16.1,27.0L-20.0,-20.0L120.0,-20.0Z"/>
<path fill="#ff8000" d="M-16.1,38.0C-16.1,38.0 -8.7,38.0 -6.5,38.0C-4.3,38.0 -4.5,38.2 -2.9,38.0C-1.3,37.8 0.9,37.1 3.1,36.8C5.3,36.4 8.7,35.8 10.4,35.9C12.0,36.1 12.8,36.6 13.2,37.6C13.6,38.5 13.1,40.2 12.8,41.6C12.4,42.9 11.8,44.4 11.2,45.6C10.6,46.8 10.2,48.0 9.2,48.6C8.1,49.3 5.8,48.8 4.7,49.4C3.7,50.0 3.1,51.2 2.7,52.2C2.3,53.2 1.9,54.8 2.3,55.4C2.8,56.0 4.3,55.6 5.5,55.8C6.7,56.0 8.6,56.2 9.6,56.6C10.5,57.1 11.3,57.8 11.3,58.6C11.4,59.5 10.8,60.7 10.0,61.5C9.1,62.3 7.1,62.6 6.3,63.5C5.5,64.3 5.6,65.7 5.1,66.7C4.7,67.6 4.4,68.5 3.5,69.1C2.7,69.7 1.0,70.0 -0.1,70.3C-1.1,70.6 -1.8,70.6 -2.9,70.7C-4.0,70.8 -4.3,70.7 -6.5,70.7C-8.7,70.7 -16.1,70.7 -16.1,70.7L-16.1,38.0Z"/>
<ellipse fill="#ff8000" cx="51.9" cy="41.9" rx="6.0" ry="3.2" transform="rotate(-8 51.9 41.9)"/>
<path fill="#ff0000" d="M11.6,-0.2C11.4,2.8 10.3,3.2 10.4,4.6C10.4,6.0 10.8,7.4 12.0,8.2C13.2,9.1 16.1,9.1 17.6,9.9C19.1,10.7 19.9,12.0 20.8,13.1C21.7,14.1 22.0,15.6 23.2,16.3C24.4,16.9 26.3,17.1 28.0,17.1C29.8,17.1 31.9,16.3 33.6,16.3C35.4,16.3 37.1,16.6 38.5,17.1C39.8,17.5 41.0,18.2 41.7,19.1C42.3,20.0 42.7,21.1 42.5,22.3C42.2,23.5 41.0,25.0 40.1,26.3C39.1,27.7 37.9,28.9 36.9,30.3C35.9,31.7 34.2,33.7 34.0,34.7C33.9,35.7 35.0,36.2 36.1,36.4C37.1,36.5 39.2,36.1 40.5,35.5C41.7,35.0 42.5,34.2 43.7,33.1C44.9,32.1 46.5,30.7 47.8,29.4C49.2,28.2 50.3,26.6 51.9,25.4C53.4,24.2 55.5,23.4 57.1,22.3C58.8,21.2 60.6,20.0 62.0,19.1C63.3,18.2 64.4,18.0 65.2,16.7C66.0,15.3 66.4,13.1 66.8,11.1C67.2,9.1 67.3,6.5 67.6,4.6C67.9,2.8 68.6,2.8 68.8,-0.2C69.0,-3.1 68.8,-13.0 68.8,-13.0L11.6,-13.0C11.6,-13.0 11.8,-3.1 11.6,-0.2Z"/>
<path fill="#ff0000" d="M85.7,-0.6L94.1,8.2L94.1,-0.6L85.7,-0.6Z"/>
<ellipse fill="#ff0000" cx="20.2" cy="23.7" rx="2.2" ry="2.2"/>
<path fill="#ff0000" d="M1.1,57.8C1.5,57.3 2.8,56.8 3.9,56.6C5.1,56.5 7.1,56.7 8.0,57.0C8.8,57.4 9.2,58.1 9.2,58.6C9.2,59.2 8.7,59.9 8.0,60.3C7.2,60.6 5.7,60.7 4.7,60.7C3.7,60.6 2.5,60.3 1.9,59.9C1.3,59.4 0.8,58.4 1.1,57.8Z"/>
<ellipse fill="#800000" cx="5.9" cy="58.5" rx="0.7" ry="0.6"/>
<path fill="#800000" d="M17.6,2.2C17.7,1.7 18.4,0.8 20.0,0.5C21.6,0.1 25.3,-0.2 27.2,0.2C29.1,0.6 30.2,1.9 31.2,3.0C32.3,4.2 33.2,5.9 33.6,7.0C34.1,8.2 34.4,9.1 34.0,9.9C33.6,10.6 32.4,11.0 31.2,11.5C30.1,11.9 28.2,12.8 27.2,12.7C26.2,12.5 25.7,11.6 25.2,10.7C24.7,9.7 24.9,8.0 24.4,7.0C23.9,6.0 23.3,5.2 22.4,4.6C21.5,4.0 20.0,3.8 19.2,3.4C18.4,3.0 17.5,2.7 17.6,2.2Z"/>
<path fill="#800000" d="M45.9,7.0C46.0,6.2 46.8,5.1 47.5,4.6C48.3,4.2 49.5,3.9 50.3,4.2C51.1,4.6 51.3,6.6 52.3,6.6C53.3,6.7 54.9,5.0 56.3,4.6C57.8,4.3 59.6,4.1 60.8,4.6C61.9,5.2 62.7,6.4 63.2,7.8C63.6,9.3 63.6,12.0 63.4,13.5C63.2,14.9 62.9,15.9 62.0,16.7C61.1,17.5 59.4,17.7 58.0,18.3C56.5,18.8 54.4,19.4 53.1,19.9C51.9,20.4 50.9,21.4 50.3,21.1C49.7,20.8 49.5,19.4 49.5,18.3C49.5,17.1 50.4,15.5 50.3,14.3C50.3,13.1 49.7,11.9 49.1,11.1C48.5,10.3 47.2,10.1 46.7,9.5C46.2,8.8 45.8,7.8 45.9,7.0Z"/>
<ellipse fill="#ffff00" cx="9.6" cy="14.3" rx="3.6" ry="2.2" transform="rotate(-25 9.6 14.3)"/>
<ellipse fill="#ffff00" cx="29.5" cy="26.1" rx="1.6" ry="1.0" transform="rotate(-30 29.5 26.1)"/>
<path fill="#ffff00" d="M75.6,8.2C76.1,8.6 76.6,9.6 76.4,11.1C76.2,12.5 75.3,15.5 74.4,17.1C73.5,18.7 72.1,20.2 71.2,20.7C70.3,21.2 69.1,20.7 68.8,19.9C68.5,19.1 68.8,17.3 69.2,15.9C69.6,14.4 70.5,12.3 71.2,11.1C71.9,9.9 72.9,9.1 73.6,8.6C74.3,8.2 75.1,7.8 75.6,8.2Z"/>
<ellipse fill="#ffff00" cx="25.4" cy="74.5" rx="3.4" ry="2.2" transform="rotate(-35 25.4 74.5)"/>
<ellipse fill="#ffffff" cx="21.0" cy="32.7" rx="0.8" ry="0.8"/>
<path fill="#80ffff" d="M104.5,34.7C104.5,34.7 95.7,35.1 93.0,34.7C90.4,34.4 90.0,33.3 88.5,32.7C86.9,32.2 85.1,31.4 83.6,31.3C82.2,31.2 81.2,31.4 80.0,32.1C78.9,32.8 77.8,34.3 76.8,35.5C75.9,36.8 75.3,38.2 74.4,39.6C73.5,40.9 71.9,42.4 71.2,43.6C70.5,44.8 71.1,46.0 70.3,46.8C69.4,47.6 67.8,48.1 66.2,48.4C64.6,48.8 62.5,48.8 60.6,48.8C58.7,48.9 56.7,48.8 55.0,48.8C53.3,48.9 51.7,49.0 50.2,49.2C48.7,49.5 47.4,49.9 46.2,50.4C45.0,51.0 43.9,51.6 43.0,52.5C42.0,53.3 41.3,54.2 40.5,55.3C39.7,56.3 38.9,57.6 38.1,58.9C37.3,60.1 36.5,61.4 35.7,62.9C34.9,64.4 34.0,66.1 33.3,67.7C32.6,69.3 32.2,71.1 31.7,72.5C31.2,74.0 30.6,75.8 30.1,76.5C29.6,77.3 29.8,76.5 28.8,77.1C27.8,77.7 25.6,79.5 24.0,80.3C22.4,81.2 20.9,81.9 19.2,82.3C17.5,82.7 15.3,82.5 13.6,82.7C11.8,82.9 10.2,83.0 8.8,83.5C7.3,84.1 5.7,85.0 4.7,85.9C3.8,86.9 3.3,88.1 3.1,89.2C3.0,90.2 3.5,91.2 3.9,92.4C4.3,93.6 5.3,94.9 5.5,96.4C5.8,97.9 5.5,101.2 5.5,101.2L120.0,110.0L104.5,34.7Z"/>
<path fill="#0080ff" d="M104.5,65.1C104.5,65.1 95.2,64.9 93.0,64.7C90.9,64.4 92.4,64.1 91.7,63.5C90.9,62.8 89.8,61.6 88.5,60.7C87.1,59.7 85.4,58.4 83.6,57.8C81.9,57.2 79.6,57.6 78.0,57.0C76.5,56.5 75.1,55.6 74.4,54.6C73.7,53.7 74.3,52.0 73.6,51.4C72.9,50.8 71.1,51.0 70.0,51.0C68.9,51.1 68.3,51.6 67.0,51.6C65.7,51.7 63.8,51.5 62.2,51.2C60.6,51.0 59.0,50.3 57.4,50.0C55.8,49.8 54.1,49.9 52.6,49.9C51.1,49.9 49.8,49.9 48.6,50.2C47.4,50.5 46.3,51.0 45.4,51.6C44.4,52.3 43.8,53.0 43.0,54.1C42.1,55.1 41.3,56.6 40.5,58.1C39.7,59.5 38.9,61.3 38.1,62.9C37.3,64.5 36.4,66.1 35.7,67.7C35.1,69.3 34.7,70.9 34.1,72.5C33.6,74.1 33.4,76.0 32.5,77.3C31.6,78.6 30.2,79.4 28.8,80.3C27.4,81.2 25.3,81.8 24.0,82.7C22.7,83.7 21.9,84.7 21.2,85.9C20.5,87.2 19.7,88.8 19.6,90.0C19.5,91.2 19.4,92.1 20.4,93.2C21.4,94.2 24.7,95.0 25.6,96.4C26.5,97.7 25.6,101.2 25.6,101.2L120.0,110.0L104.5,65.1Z"/>
<path fill="#0000ff" d="M44.6,53.3C45.4,52.3 47.2,51.6 48.6,51.2C49.9,50.8 51.1,50.8 52.6,50.8C54.1,50.9 55.8,51.2 57.4,51.6C59.0,52.1 60.8,52.6 62.2,53.3C63.6,53.9 65.0,54.7 65.8,55.7C66.6,56.6 67.2,57.9 67.0,58.9C66.8,59.8 65.6,60.5 64.6,61.3C63.7,62.1 62.3,62.8 61.4,63.7C60.5,64.6 59.5,66.0 59.4,66.9C59.3,67.8 60.2,68.5 60.6,69.3C61.0,70.1 62.0,70.9 61.8,71.7C61.7,72.6 60.5,73.7 59.8,74.5C59.1,75.4 57.7,76.1 57.4,76.9C57.1,77.8 57.5,79.0 58.2,79.8C58.9,80.5 60.5,81.4 61.4,81.4C62.3,81.4 63.0,80.8 63.4,79.8C63.8,78.7 63.6,76.3 63.8,74.9C64.1,73.5 64.2,72.2 65.0,71.3C65.8,70.5 67.4,69.9 68.6,69.7C69.9,69.5 71.7,69.8 72.7,70.1C73.7,70.5 74.2,71.1 74.7,71.7C75.1,72.4 74.8,73.2 75.5,74.1C76.1,75.1 77.3,76.3 78.7,77.3C80.0,78.4 82.3,79.3 83.6,80.3C85.0,81.4 85.7,82.6 86.9,83.5C88.1,84.5 89.8,85.4 90.9,85.9C91.9,86.5 90.8,86.6 93.0,86.8C95.3,87.0 104.5,87.2 104.5,87.2L104.5,101.2L67.1,101.5C67.1,101.5 67.8,94.0 67.1,92.3C66.3,90.6 64.5,91.6 62.5,91.1C60.4,90.6 57.9,89.7 54.8,89.2C51.7,88.8 47.4,88.9 44.1,88.5C40.8,88.1 37.4,87.3 34.9,86.9C32.3,86.6 30.0,86.8 28.8,86.4C27.6,85.9 27.1,84.8 27.6,84.3C28.1,83.8 30.4,83.6 31.7,83.4C33.1,83.1 34.9,83.4 35.7,83.0C36.6,82.5 36.6,81.5 36.9,80.6C37.3,79.6 37.6,78.7 37.7,77.3C37.9,76.0 37.5,74.1 37.7,72.5C37.9,70.9 38.3,69.3 38.9,67.7C39.5,66.1 40.6,64.6 41.3,62.9C42.1,61.2 42.8,58.9 43.4,57.3C43.9,55.7 43.7,54.3 44.6,53.3Z"/>
<path fill="#000080" d="M49.0,55.3C49.5,54.6 50.4,54.0 51.4,53.9C52.4,53.8 53.9,54.0 55.0,54.5C56.1,55.0 57.1,55.9 57.8,56.9C58.5,57.8 59.0,59.1 59.0,60.1C59.0,61.1 58.5,62.0 57.8,62.9C57.1,63.8 55.8,64.4 55.0,65.3C54.2,66.2 53.5,67.3 53.0,68.5C52.5,69.7 52.2,71.2 52.2,72.5C52.2,73.9 52.6,75.3 53.0,76.5C53.4,77.7 54.4,78.7 54.6,79.8C54.8,80.8 54.8,82.1 54.2,82.6C53.6,83.0 52.4,82.8 51.0,82.6C49.6,82.4 47.2,81.9 45.8,81.4C44.4,80.8 43.3,80.3 42.6,79.4C41.8,78.4 41.4,76.9 41.3,75.7C41.3,74.6 41.6,73.6 42.1,72.5C42.7,71.5 43.8,70.5 44.6,69.3C45.4,68.2 46.3,67.0 47.0,65.7C47.6,64.4 48.3,62.6 48.6,61.3C48.8,59.9 48.3,58.7 48.4,57.7C48.5,56.7 48.5,55.9 49.0,55.3Z"/>
<ellipse fill="#ffffff" cx="89.0" cy="50.5" rx="3.4" ry="3.6"/>
<ellipse fill="#0080ff" cx="77.9" cy="48.5" rx="0.8" ry="0.6" transform="rotate(-30 77.9 48.5)"/>
<ellipse fill="#ffffff" cx="68.6" cy="64.3" rx="1.0" ry="0.5"/>
<ellipse fill="#ff0000" cx="-3.6" cy="56.5" rx="2.6" ry="7.0"/>
<ellipse fill="#800000" cx="-3.6" cy="21.0" rx="1.5" ry="3.0"/>
<ellipse fill="#ffff00" cx="-3.3" cy="14.5" rx="1.5" ry="2.5"/>
<ellipse fill="#ffffff" cx="-2.2" cy="33.8" rx="1.8" ry="1.6"/>
<path fill="#80ffff" d="M30.0,98.0C30.0,98.0 30.0,96.1 31.0,95.5C32.0,94.9 32.8,94.5 36.0,94.2C39.2,94.0 45.7,94.0 50.0,94.0C54.3,94.0 59.2,94.0 62.0,94.2C64.8,94.5 66.0,94.9 67.0,95.5C68.0,96.1 68.0,98.0 68.0,98.0L30.0,98.0Z"/>
<ellipse fill="#ffffff" cx="58.0" cy="95.6" rx="3.5" ry="1.4"/>
</g>
<path d="M0,0.3V93.0H93.3" fill="none" stroke="#000" stroke-width="1.25" stroke-dasharray="1.25 1.42"/><path d="M-3.50,0V96.80H93.3" fill="none" stroke="#222" stroke-width="1.65" stroke-linejoin="round"/>
</g>
<g transform="translate(534.0,27.0)">
<g clip-path="url(#cp0)">
<rect x="-60" y="0" width="160" height="160" fill="#fff"/>
<path fill="#ffff00" d="M120.0,-20.0L104.5,26.7C104.5,26.7 96.0,26.8 93.0,27.1C90.1,27.4 88.8,28.1 86.9,28.3C84.9,28.6 82.8,28.4 81.2,28.7C79.6,29.1 78.4,29.5 77.2,30.3C76.0,31.1 75.1,32.3 74.0,33.5C72.9,34.7 71.9,36.3 70.8,37.6C69.7,38.8 68.8,40.1 67.6,41.2C66.4,42.2 65.1,43.1 63.6,44.0C62.0,44.9 60.2,46.2 58.3,46.7C56.3,47.1 54.0,46.5 51.9,46.7C49.7,46.9 47.2,47.4 45.4,47.9C43.7,48.4 42.6,49.1 41.4,49.9C40.2,50.7 39.3,51.6 38.2,52.7C37.1,53.8 36.1,55.5 35.0,56.7C33.9,57.9 32.7,59.3 31.8,59.9C30.8,60.5 29.8,60.9 29.2,60.3C28.7,59.8 28.4,58.1 28.6,56.7C28.7,55.3 29.4,53.5 30.2,51.9C31.0,50.3 32.3,48.6 33.4,47.1C34.5,45.6 36.2,43.9 36.6,43.1C37.0,42.2 37.1,42.2 35.8,41.9C34.5,41.6 30.8,41.2 28.6,41.3C26.3,41.4 23.7,41.5 22.1,42.3C20.6,43.0 20.3,44.9 19.3,45.9C18.4,46.9 17.2,47.4 16.5,48.3C15.9,49.2 15.5,50.3 15.3,51.5C15.2,52.7 15.4,54.3 15.7,55.5C16.1,56.7 17.4,57.5 17.5,58.7C17.6,60.0 17.2,61.7 16.5,63.1C15.9,64.6 14.8,66.2 13.7,67.6C12.6,68.9 11.1,70.3 10.1,71.2C9.1,72.1 9.1,72.5 8.0,73.1C6.8,73.7 4.5,74.1 3.1,74.7C1.8,75.3 0.9,76.3 -0.1,76.7C-1.1,77.1 -1.8,77.0 -2.9,77.1C-4.0,77.3 -4.3,77.5 -6.5,77.5C-8.7,77.6 -16.1,77.5 -16.1,77.5L-20.0,-20.0L120.0,-20.0Z"/>
<path fill="#ffffff" d="M3.8,50.5C4.4,50.0 5.8,49.7 6.7,49.7C7.7,49.7 8.8,50.1 9.6,50.5C10.4,50.8 11.1,51.4 11.6,51.9C12.0,52.4 12.3,52.9 12.1,53.4C11.9,53.8 11.2,54.4 10.4,54.6C9.5,54.9 8.2,55.0 7.1,55.0C6.1,55.0 5.0,55.0 4.3,54.6C3.7,54.2 3.2,53.3 3.1,52.6C3.0,51.9 3.2,51.0 3.8,50.5Z"/>
<ellipse fill="#80ffff" cx="6.7" cy="52.5" rx="1.7" ry="1.2"/>
<path fill="#ff8000" d="M120.0,-20.0L104.5,19.5C104.5,19.5 95.6,19.6 93.0,19.9C90.5,20.2 90.6,20.5 89.3,21.1C88.0,21.7 86.9,22.8 85.3,23.5C83.6,24.2 81.5,25.0 79.6,25.5C77.8,26.0 75.9,26.7 74.0,26.7C72.1,26.7 69.9,26.2 68.4,25.5C66.9,24.8 66.2,23.3 65.2,22.7C64.2,22.1 63.4,21.8 62.4,21.9C61.3,22.0 59.9,22.5 58.8,23.1C57.6,23.7 56.4,24.7 55.5,25.5C54.7,26.3 54.3,27.1 53.5,27.9C52.7,28.7 51.9,29.4 50.7,30.3C49.6,31.3 47.7,32.5 46.7,33.5C45.7,34.6 45.6,35.9 44.6,36.6C43.6,37.4 42.2,38.0 40.6,38.3C39.0,38.5 36.9,38.3 35.0,38.3C33.1,38.2 30.7,38.3 29.4,37.9C28.0,37.5 27.2,37.0 27.0,35.8C26.7,34.7 27.8,32.2 27.8,31.0C27.7,29.9 27.6,29.3 26.6,29.0C25.5,28.7 23.5,29.1 21.6,29.1C19.7,29.1 16.8,28.9 15.2,29.1C13.6,29.3 12.8,30.4 12.0,30.3C11.1,30.3 10.7,29.5 10.0,28.7C9.2,27.9 8.6,26.1 7.6,25.5C6.5,24.9 4.9,24.9 3.9,25.1C2.9,25.3 2.7,26.4 1.5,26.7C0.4,27.0 -1.5,26.9 -2.9,27.0C-4.2,27.0 -4.3,27.0 -6.5,27.0C-8.7,27.0 -16.1,27.0 -16.1,27.0L-20.0,-20.0L120.0,-20.0Z"/>
<path fill="#ff8000" d="M-16.1,38.0C-16.1,38.0 -8.7,38.0 -6.5,38.0C-4.3,38.0 -4.5,38.2 -2.9,38.0C-1.3,37.8 0.9,37.1 3.1,36.8C5.3,36.4 8.7,35.8 10.4,35.9C12.0,36.1 12.8,36.6 13.2,37.6C13.6,38.5 13.1,40.2 12.8,41.6C12.4,42.9 11.8,44.4 11.2,45.6C10.6,46.8 10.2,48.0 9.2,48.6C8.1,49.3 5.8,48.8 4.7,49.4C3.7,50.0 3.1,51.2 2.7,52.2C2.3,53.2 1.9,54.8 2.3,55.4C2.8,56.0 4.3,55.6 5.5,55.8C6.7,56.0 8.6,56.2 9.6,56.6C10.5,57.1 11.3,57.8 11.3,58.6C11.4,59.5 10.8,60.7 10.0,61.5C9.1,62.3 7.1,62.6 6.3,63.5C5.5,64.3 5.6,65.7 5.1,66.7C4.7,67.6 4.4,68.5 3.5,69.1C2.7,69.7 1.0,70.0 -0.1,70.3C-1.1,70.6 -1.8,70.6 -2.9,70.7C-4.0,70.8 -4.3,70.7 -6.5,70.7C-8.7,70.7 -16.1,70.7 -16.1,70.7L-16.1,38.0Z"/>
<ellipse fill="#ff8000" cx="51.9" cy="41.9" rx="6.0" ry="3.2" transform="rotate(-8 51.9 41.9)"/>
<path fill="#ff0000" d="M11.6,-0.2C11.4,2.8 10.3,3.2 10.4,4.6C10.4,6.0 10.8,7.4 12.0,8.2C13.2,9.1 16.1,9.1 17.6,9.9C19.1,10.7 19.9,12.0 20.8,13.1C21.7,14.1 22.0,15.6 23.2,16.3C24.4,16.9 26.3,17.1 28.0,17.1C29.8,17.1 31.9,16.3 33.6,16.3C35.4,16.3 37.1,16.6 38.5,17.1C39.8,17.5 41.0,18.2 41.7,19.1C42.3,20.0 42.7,21.1 42.5,22.3C42.2,23.5 41.0,25.0 40.1,26.3C39.1,27.7 37.9,28.9 36.9,30.3C35.9,31.7 34.2,33.7 34.0,34.7C33.9,35.7 35.0,36.2 36.1,36.4C37.1,36.5 39.2,36.1 40.5,35.5C41.7,35.0 42.5,34.2 43.7,33.1C44.9,32.1 46.5,30.7 47.8,29.4C49.2,28.2 50.3,26.6 51.9,25.4C53.4,24.2 55.5,23.4 57.1,22.3C58.8,21.2 60.6,20.0 62.0,19.1C63.3,18.2 64.4,18.0 65.2,16.7C66.0,15.3 66.4,13.1 66.8,11.1C67.2,9.1 67.3,6.5 67.6,4.6C67.9,2.8 68.6,2.8 68.8,-0.2C69.0,-3.1 68.8,-13.0 68.8,-13.0L11.6,-13.0C11.6,-13.0 11.8,-3.1 11.6,-0.2Z"/>
<path fill="#ff0000" d="M85.7,-0.6L94.1,8.2L94.1,-0.6L85.7,-0.6Z"/>
<ellipse fill="#ff0000" cx="20.2" cy="23.7" rx="2.2" ry="2.2"/>
<path fill="#ff0000" d="M1.1,57.8C1.5,57.3 2.8,56.8 3.9,56.6C5.1,56.5 7.1,56.7 8.0,57.0C8.8,57.4 9.2,58.1 9.2,58.6C9.2,59.2 8.7,59.9 8.0,60.3C7.2,60.6 5.7,60.7 4.7,60.7C3.7,60.6 2.5,60.3 1.9,59.9C1.3,59.4 0.8,58.4 1.1,57.8Z"/>
<ellipse fill="#800000" cx="5.9" cy="58.5" rx="0.7" ry="0.6"/>
<path fill="#800000" d="M17.6,2.2C17.7,1.7 18.4,0.8 20.0,0.5C21.6,0.1 25.3,-0.2 27.2,0.2C29.1,0.6 30.2,1.9 31.2,3.0C32.3,4.2 33.2,5.9 33.6,7.0C34.1,8.2 34.4,9.1 34.0,9.9C33.6,10.6 32.4,11.0 31.2,11.5C30.1,11.9 28.2,12.8 27.2,12.7C26.2,12.5 25.7,11.6 25.2,10.7C24.7,9.7 24.9,8.0 24.4,7.0C23.9,6.0 23.3,5.2 22.4,4.6C21.5,4.0 20.0,3.8 19.2,3.4C18.4,3.0 17.5,2.7 17.6,2.2Z"/>
<path fill="#800000" d="M46.6,5.3C46.8,4.4 48.2,3.7 48.9,3.7C49.7,3.7 50.5,4.4 51.2,5.3C52.0,6.2 52.7,9.0 53.5,9.1C54.4,9.2 55.5,6.7 56.6,6.0C57.8,5.3 59.3,4.6 60.4,5.0C61.5,5.3 62.7,6.9 63.2,8.3C63.7,9.8 63.8,12.2 63.5,13.7C63.2,15.2 62.4,16.5 61.2,17.5C60.1,18.5 58.1,19.1 56.6,19.8C55.1,20.6 53.2,21.9 52.0,22.1C50.8,22.4 49.7,22.3 49.4,21.4C49.1,20.5 49.7,18.3 50.0,16.8C50.3,15.2 51.6,13.4 51.2,12.2C50.9,10.9 48.9,10.2 48.2,9.1C47.4,7.9 46.5,6.2 46.6,5.3Z"/>
<ellipse fill="#ffff00" cx="9.6" cy="14.3" rx="3.6" ry="2.2" transform="rotate(-25 9.6 14.3)"/>
<ellipse fill="#ffff00" cx="29.5" cy="26.1" rx="1.6" ry="1.0" transform="rotate(-30 29.5 26.1)"/>
<path fill="#ffff00" d="M75.6,8.2C76.1,8.6 76.6,9.6 76.4,11.1C76.2,12.5 75.3,15.5 74.4,17.1C73.5,18.7 72.1,20.2 71.2,20.7C70.3,21.2 69.1,20.7 68.8,19.9C68.5,19.1 68.8,17.3 69.2,15.9C69.6,14.4 70.5,12.3 71.2,11.1C71.9,9.9 72.9,9.1 73.6,8.6C74.3,8.2 75.1,7.8 75.6,8.2Z"/>
<ellipse fill="#ffff00" cx="25.4" cy="74.5" rx="3.4" ry="2.2" transform="rotate(-35 25.4 74.5)"/>
<ellipse fill="#ffffff" cx="21.0" cy="32.7" rx="0.8" ry="0.8"/>
<path fill="#80ffff" d="M104.5,34.7C104.5,34.7 95.7,35.1 93.0,34.7C90.4,34.4 90.0,33.3 88.5,32.7C86.9,32.2 85.1,31.4 83.6,31.3C82.2,31.2 81.2,31.4 80.0,32.1C78.9,32.8 77.8,34.3 76.8,35.5C75.9,36.8 75.3,38.2 74.4,39.6C73.5,40.9 71.9,42.4 71.2,43.6C70.5,44.8 71.1,46.0 70.3,46.8C69.4,47.6 67.8,48.1 66.2,48.4C64.6,48.8 62.5,48.8 60.6,48.8C58.7,48.9 56.7,48.8 55.0,48.8C53.3,48.9 51.7,49.0 50.2,49.2C48.7,49.5 47.4,49.9 46.2,50.4C45.0,51.0 43.9,51.6 43.0,52.5C42.0,53.3 41.3,54.2 40.5,55.3C39.7,56.3 38.9,57.6 38.1,58.9C37.3,60.1 36.5,61.4 35.7,62.9C34.9,64.4 34.0,66.1 33.3,67.7C32.6,69.3 32.2,71.1 31.7,72.5C31.2,74.0 30.6,75.8 30.1,76.5C29.6,77.3 29.8,76.5 28.8,77.1C27.8,77.7 25.6,79.5 24.0,80.3C22.4,81.2 20.9,81.9 19.2,82.3C17.5,82.7 15.3,82.5 13.6,82.7C11.8,82.9 10.2,83.0 8.8,83.5C7.3,84.1 5.7,85.0 4.7,85.9C3.8,86.9 3.3,88.1 3.1,89.2C3.0,90.2 3.5,91.2 3.9,92.4C4.3,93.6 5.3,94.9 5.5,96.4C5.8,97.9 5.5,101.2 5.5,101.2L120.0,110.0L104.5,34.7Z"/>
<path fill="#0080ff" d="M104.5,65.1C104.5,65.1 95.2,64.9 93.0,64.7C90.9,64.4 92.4,64.1 91.7,63.5C90.9,62.8 89.8,61.6 88.5,60.7C87.1,59.7 85.4,58.4 83.6,57.8C81.9,57.2 79.6,57.6 78.0,57.0C76.5,56.5 75.1,55.6 74.4,54.6C73.7,53.7 74.3,52.0 73.6,51.4C72.9,50.8 71.1,51.0 70.0,51.0C68.9,51.1 68.3,51.6 67.0,51.6C65.7,51.7 63.8,51.5 62.2,51.2C60.6,51.0 59.0,50.3 57.4,50.0C55.8,49.8 54.1,49.9 52.6,49.9C51.1,49.9 49.8,49.9 48.6,50.2C47.4,50.5 46.3,51.0 45.4,51.6C44.4,52.3 43.8,53.0 43.0,54.1C42.1,55.1 41.3,56.6 40.5,58.1C39.7,59.5 38.9,61.3 38.1,62.9C37.3,64.5 36.4,66.1 35.7,67.7C35.1,69.3 34.7,70.9 34.1,72.5C33.6,74.1 33.4,76.0 32.5,77.3C31.6,78.6 30.2,79.4 28.8,80.3C27.4,81.2 25.3,81.8 24.0,82.7C22.7,83.7 21.9,84.7 21.2,85.9C20.5,87.2 19.7,88.8 19.6,90.0C19.5,91.2 19.4,92.1 20.4,93.2C21.4,94.2 24.7,95.0 25.6,96.4C26.5,97.7 25.6,101.2 25.6,101.2L120.0,110.0L104.5,65.1Z"/>
<path fill="#0000ff" d="M44.6,53.3C45.4,52.3 47.2,51.6 48.6,51.2C49.9,50.8 51.1,50.8 52.6,50.8C54.1,50.9 55.8,51.2 57.4,51.6C59.0,52.1 60.8,52.6 62.2,53.3C63.6,53.9 65.0,54.7 65.8,55.7C66.6,56.6 67.2,57.9 67.0,58.9C66.8,59.8 65.6,60.5 64.6,61.3C63.7,62.1 62.3,62.8 61.4,63.7C60.5,64.6 59.5,66.0 59.4,66.9C59.3,67.8 60.2,68.5 60.6,69.3C61.0,70.1 62.0,70.9 61.8,71.7C61.7,72.6 60.5,73.7 59.8,74.5C59.1,75.4 57.7,76.1 57.4,76.9C57.1,77.8 57.5,79.0 58.2,79.8C58.9,80.5 60.5,81.4 61.4,81.4C62.3,81.4 63.0,80.8 63.4,79.8C63.8,78.7 63.6,76.3 63.8,74.9C64.1,73.5 64.2,72.2 65.0,71.3C65.8,70.5 67.4,69.9 68.6,69.7C69.9,69.5 71.7,69.8 72.7,70.1C73.7,70.5 74.2,71.1 74.7,71.7C75.1,72.4 74.8,73.2 75.5,74.1C76.1,75.1 77.3,76.3 78.7,77.3C80.0,78.4 82.3,79.3 83.6,80.3C85.0,81.4 85.7,82.6 86.9,83.5C88.1,84.5 89.8,85.4 90.9,85.9C91.9,86.5 90.8,86.6 93.0,86.8C95.3,87.0 104.5,87.2 104.5,87.2L104.5,101.2L67.1,101.5C67.1,101.5 67.8,94.0 67.1,92.3C66.3,90.6 64.5,91.6 62.5,91.1C60.4,90.6 57.9,89.7 54.8,89.2C51.7,88.8 47.4,88.9 44.1,88.5C40.8,88.1 37.4,87.3 34.9,86.9C32.3,86.6 30.0,86.8 28.8,86.4C27.6,85.9 27.1,84.8 27.6,84.3C28.1,83.8 30.4,83.6 31.7,83.4C33.1,83.1 34.9,83.4 35.7,83.0C36.6,82.5 36.6,81.5 36.9,80.6C37.3,79.6 37.6,78.7 37.7,77.3C37.9,76.0 37.5,74.1 37.7,72.5C37.9,70.9 38.3,69.3 38.9,67.7C39.5,66.1 40.6,64.6 41.3,62.9C42.1,61.2 42.8,58.9 43.4,57.3C43.9,55.7 43.7,54.3 44.6,53.3Z"/>
<path fill="#000080" d="M49.0,54.3C49.9,53.4 52.6,53.3 54.3,53.6C55.9,53.8 58.0,54.8 58.9,55.8C59.9,56.8 60.4,58.5 60.0,59.7C59.6,60.8 57.9,62.3 56.6,62.7C55.3,63.1 53.3,62.6 52.0,62.0C50.8,61.4 49.5,60.2 49.0,58.9C48.5,57.6 48.1,55.2 49.0,54.3Z"/>
<path fill="#000080" d="M46.6,66.6C47.9,66.0 49.5,65.5 50.5,66.3C51.5,67.0 52.0,69.3 52.5,71.2C53.0,73.0 53.6,75.5 53.6,77.3C53.5,79.1 53.2,81.2 52.0,81.9C50.9,82.7 48.3,82.4 46.6,81.9C45.0,81.4 43.0,80.1 42.1,78.8C41.2,77.5 41.1,75.7 41.3,74.2C41.4,72.7 41.9,70.9 42.8,69.6C43.7,68.4 45.4,67.1 46.6,66.6Z"/>
<path fill="#ff0000" d="M24.4,13.7C23.1,13.8 22.5,17.1 21.4,18.3C20.2,19.4 18.2,19.7 17.5,20.6C16.8,21.5 16.8,22.9 17.2,23.7C17.6,24.4 18.9,25.2 19.8,25.2C20.8,25.2 21.9,24.5 22.9,23.7C23.9,22.8 24.9,21.3 26.0,20.3C27.0,19.3 29.3,18.6 29.0,17.5C28.8,16.4 25.7,13.6 24.4,13.7Z"/>
<path fill="#ff8000" d="M27.5,24.4C27.8,23.9 28.9,23.4 29.5,23.7C30.1,23.9 31.0,25.2 31.0,26.0C31.1,26.7 30.4,27.8 29.8,27.9C29.2,28.1 28.0,27.6 27.6,27.0C27.3,26.4 27.2,25.0 27.5,24.4Z"/>
<ellipse fill="#ff0000" cx="2.5" cy="43.5" rx="3.8" ry="2.3"/>
<path fill="#ff0000" d="M-6.5,57.0C-5.2,56.6 -0.6,57.9 1.1,57.8C2.9,57.8 2.8,56.8 3.9,56.6C5.1,56.5 7.1,56.7 8.0,57.0C8.8,57.4 9.2,58.1 9.2,58.6C9.2,59.2 8.7,59.9 8.0,60.3C7.2,60.6 5.7,60.7 4.7,60.7C3.7,60.6 3.8,59.9 1.9,59.9C0.1,59.8 -5.1,60.7 -6.5,60.3C-7.9,59.8 -7.8,57.4 -6.5,57.0Z"/>
<ellipse fill="#800000" cx="5.9" cy="58.5" rx="0.7" ry="0.6"/>
<ellipse fill="#ffffff" cx="89.0" cy="50.5" rx="3.4" ry="3.6"/>
<ellipse fill="#0080ff" cx="77.9" cy="48.5" rx="0.8" ry="0.6" transform="rotate(-30 77.9 48.5)"/>
<ellipse fill="#ffffff" cx="68.6" cy="64.3" rx="1.0" ry="0.5"/>
<ellipse fill="#ff0000" cx="-3.6" cy="56.5" rx="2.6" ry="7.0"/>
<ellipse fill="#800000" cx="-3.6" cy="21.0" rx="1.5" ry="3.0"/>
<ellipse fill="#ffff00" cx="-3.3" cy="14.5" rx="1.5" ry="2.5"/>
<ellipse fill="#ffffff" cx="-2.2" cy="33.8" rx="1.8" ry="1.6"/>
<path fill="#80ffff" d="M30.0,98.0C30.0,98.0 30.0,96.1 31.0,95.5C32.0,94.9 32.8,94.5 36.0,94.2C39.2,94.0 45.7,94.0 50.0,94.0C54.3,94.0 59.2,94.0 62.0,94.2C64.8,94.5 66.0,94.9 67.0,95.5C68.0,96.1 68.0,98.0 68.0,98.0L30.0,98.0Z"/>
<ellipse fill="#ffffff" cx="58.0" cy="95.6" rx="3.5" ry="1.4"/>
</g>
<path d="M0,0.3V93.0H93.3" fill="none" stroke="#000" stroke-width="1.25" stroke-dasharray="1.25 1.42"/><path d="M-3.50,0V96.80H93.3" fill="none" stroke="#222" stroke-width="1.65" stroke-linejoin="round"/>
</g>
<g transform="translate(61.5,129.6)">
<g clip-path="url(#cp1)">
<rect x="-60" y="0" width="160" height="160" fill="#fff"/>
<path fill="#ffff00" d="M-37.6,-13.7L26.2,-13.7L26.2,75.7C26.2,75.7 5.0,76.2 0.1,77.2C-4.7,78.1 -1.2,79.3 -3.0,81.2C-4.7,83.1 -7.8,86.3 -10.3,88.5C-12.7,90.6 -15.3,92.6 -17.6,93.9C-19.8,95.3 -20.6,96.1 -23.9,96.7C-27.3,97.3 -37.6,97.6 -37.6,97.6L-37.6,-13.7Z"/>
<path fill="#ff8000" d="M-37.6,-13.7L26.2,-13.7L26.2,68.4C26.2,68.4 5.6,69.2 0.1,70.2C-5.3,71.3 -4.3,73.7 -6.6,74.8C-8.9,75.8 -11.8,77.1 -13.9,76.6C-16.0,76.1 -17.9,74.3 -19.4,72.0C-20.9,69.8 -20.0,64.6 -23.0,62.9C-26.1,61.2 -37.6,62.0 -37.6,62.0L-37.6,-13.7Z"/>
<path fill="#ffff00" d="M8.0,25.5C8.0,25.5 2.3,24.9 0.1,25.5C-2.0,26.1 -3.5,27.6 -4.8,29.2C-6.1,30.7 -7.7,33.1 -7.5,34.6C-7.4,36.2 -5.1,37.5 -3.9,38.3C-2.6,39.0 -1.8,39.0 0.1,39.2C2.1,39.3 8.0,39.2 8.0,39.2L8.0,25.5Z"/>
<ellipse fill="#ff0000" cx="-5.3" cy="23.7" rx="4.0" ry="1.8" transform="rotate(5 -5.3 23.7)"/>
<path fill="#ffff00" d="M-28.5,111.3C-27.7,109.4 -25.4,110.9 -23.9,111.8C-22.5,112.7 -20.6,114.9 -19.9,116.8C-19.3,118.6 -19.9,123.1 -19.9,123.1L-28.5,123.1C-28.5,123.1 -29.3,113.2 -28.5,111.3Z"/>
<path fill="#80ffff" d="M5.3,83.0C5.3,83.0 3.6,90.9 3.4,93.9C3.3,97.0 3.3,99.1 4.3,101.2C5.4,103.4 7.4,105.3 9.8,106.7C12.3,108.1 15.3,108.7 18.9,109.5C22.6,110.2 26.9,110.8 31.7,111.3C36.6,111.7 43.6,112.5 48.1,112.2C52.7,111.9 55.1,109.9 59.1,109.5C63.0,109.0 67.6,109.0 71.9,109.5C76.1,109.9 80.1,111.7 84.6,112.2C89.2,112.6 99.2,112.2 99.2,112.2L99.2,83.0L5.3,83.0Z"/>
<path fill="#0080ff" d="M18.0,86.6C18.0,86.6 18.8,94.4 20.8,96.7C22.7,99.0 26.5,99.7 29.9,100.3C33.2,100.9 36.9,100.8 40.8,100.3C44.8,99.9 50.3,98.4 53.6,97.6C57.0,96.8 59.1,95.2 60.9,95.8C62.7,96.4 62.4,99.9 64.6,101.2C66.7,102.6 70.3,103.8 73.7,104.0C77.0,104.1 80.4,103.1 84.6,102.2C88.9,101.2 99.2,98.5 99.2,98.5L99.2,86.6L18.0,86.6Z"/>
<path fill="#0000ff" d="M63.7,86.6C63.7,86.6 67.5,95.0 70.0,96.7C72.6,98.4 76.1,97.1 79.2,96.7C82.2,96.2 84.9,94.7 88.3,93.9C91.6,93.2 99.2,92.1 99.2,92.1L99.2,86.6L63.7,86.6Z"/>
<g clip-path="url(#ci)"><rect width="93" height="93" fill="#fff"/><path fill="#ffff00" d="M120.0,-20.0L104.5,26.7C104.5,26.7 96.0,26.8 93.0,27.1C90.1,27.4 88.8,28.1 86.9,28.3C84.9,28.6 82.8,28.4 81.2,28.7C79.6,29.1 78.4,29.5 77.2,30.3C76.0,31.1 75.1,32.3 74.0,33.5C72.9,34.7 71.9,36.3 70.8,37.6C69.7,38.8 68.8,40.1 67.6,41.2C66.4,42.2 65.1,43.1 63.6,44.0C62.0,44.9 60.2,46.2 58.3,46.7C56.3,47.1 54.0,46.5 51.9,46.7C49.7,46.9 47.2,47.4 45.4,47.9C43.7,48.4 42.6,49.1 41.4,49.9C40.2,50.7 39.3,51.6 38.2,52.7C37.1,53.8 36.1,55.5 35.0,56.7C33.9,57.9 32.7,59.3 31.8,59.9C30.8,60.5 29.8,60.9 29.2,60.3C28.7,59.8 28.4,58.1 28.6,56.7C28.7,55.3 29.4,53.5 30.2,51.9C31.0,50.3 32.3,48.6 33.4,47.1C34.5,45.6 36.2,43.9 36.6,43.1C37.0,42.2 37.1,42.2 35.8,41.9C34.5,41.6 30.8,41.2 28.6,41.3C26.3,41.4 23.7,41.5 22.1,42.3C20.6,43.0 20.3,44.9 19.3,45.9C18.4,46.9 17.2,47.4 16.5,48.3C15.9,49.2 15.5,50.3 15.3,51.5C15.2,52.7 15.4,54.3 15.7,55.5C16.1,56.7 17.4,57.5 17.5,58.7C17.6,60.0 17.2,61.7 16.5,63.1C15.9,64.6 14.8,66.2 13.7,67.6C12.6,68.9 11.1,70.3 10.1,71.2C9.1,72.1 9.1,72.5 8.0,73.1C6.8,73.7 4.5,74.1 3.1,74.7C1.8,75.3 0.9,76.3 -0.1,76.7C-1.1,77.1 -1.8,77.0 -2.9,77.1C-4.0,77.3 -4.3,77.5 -6.5,77.5C-8.7,77.6 -16.1,77.5 -16.1,77.5L-20.0,-20.0L120.0,-20.0Z"/>
<path fill="#ffffff" d="M3.8,50.5C4.4,50.0 5.8,49.7 6.7,49.7C7.7,49.7 8.8,50.1 9.6,50.5C10.4,50.8 11.1,51.4 11.6,51.9C12.0,52.4 12.3,52.9 12.1,53.4C11.9,53.8 11.2,54.4 10.4,54.6C9.5,54.9 8.2,55.0 7.1,55.0C6.1,55.0 5.0,55.0 4.3,54.6C3.7,54.2 3.2,53.3 3.1,52.6C3.0,51.9 3.2,51.0 3.8,50.5Z"/>
<ellipse fill="#80ffff" cx="6.7" cy="52.5" rx="1.7" ry="1.2"/>
<path fill="#ff8000" d="M120.0,-20.0L104.5,19.5C104.5,19.5 95.6,19.6 93.0,19.9C90.5,20.2 90.6,20.5 89.3,21.1C88.0,21.7 86.9,22.8 85.3,23.5C83.6,24.2 81.5,25.0 79.6,25.5C77.8,26.0 75.9,26.7 74.0,26.7C72.1,26.7 69.9,26.2 68.4,25.5C66.9,24.8 66.2,23.3 65.2,22.7C64.2,22.1 63.4,21.8 62.4,21.9C61.3,22.0 59.9,22.5 58.8,23.1C57.6,23.7 56.4,24.7 55.5,25.5C54.7,26.3 54.3,27.1 53.5,27.9C52.7,28.7 51.9,29.4 50.7,30.3C49.6,31.3 47.7,32.5 46.7,33.5C45.7,34.6 45.6,35.9 44.6,36.6C43.6,37.4 42.2,38.0 40.6,38.3C39.0,38.5 36.9,38.3 35.0,38.3C33.1,38.2 30.7,38.3 29.4,37.9C28.0,37.5 27.2,37.0 27.0,35.8C26.7,34.7 27.8,32.2 27.8,31.0C27.7,29.9 27.6,29.3 26.6,29.0C25.5,28.7 23.5,29.1 21.6,29.1C19.7,29.1 16.8,28.9 15.2,29.1C13.6,29.3 12.8,30.4 12.0,30.3C11.1,30.3 10.7,29.5 10.0,28.7C9.2,27.9 8.6,26.1 7.6,25.5C6.5,24.9 4.9,24.9 3.9,25.1C2.9,25.3 2.7,26.4 1.5,26.7C0.4,27.0 -1.5,26.9 -2.9,27.0C-4.2,27.0 -4.3,27.0 -6.5,27.0C-8.7,27.0 -16.1,27.0 -16.1,27.0L-20.0,-20.0L120.0,-20.0Z"/>
<path fill="#ff8000" d="M-16.1,38.0C-16.1,38.0 -8.7,38.0 -6.5,38.0C-4.3,38.0 -4.5,38.2 -2.9,38.0C-1.3,37.8 0.9,37.1 3.1,36.8C5.3,36.4 8.7,35.8 10.4,35.9C12.0,36.1 12.8,36.6 13.2,37.6C13.6,38.5 13.1,40.2 12.8,41.6C12.4,42.9 11.8,44.4 11.2,45.6C10.6,46.8 10.2,48.0 9.2,48.6C8.1,49.3 5.8,48.8 4.7,49.4C3.7,50.0 3.1,51.2 2.7,52.2C2.3,53.2 1.9,54.8 2.3,55.4C2.8,56.0 4.3,55.6 5.5,55.8C6.7,56.0 8.6,56.2 9.6,56.6C10.5,57.1 11.3,57.8 11.3,58.6C11.4,59.5 10.8,60.7 10.0,61.5C9.1,62.3 7.1,62.6 6.3,63.5C5.5,64.3 5.6,65.7 5.1,66.7C4.7,67.6 4.4,68.5 3.5,69.1C2.7,69.7 1.0,70.0 -0.1,70.3C-1.1,70.6 -1.8,70.6 -2.9,70.7C-4.0,70.8 -4.3,70.7 -6.5,70.7C-8.7,70.7 -16.1,70.7 -16.1,70.7L-16.1,38.0Z"/>
<ellipse fill="#ff8000" cx="51.9" cy="41.9" rx="6.0" ry="3.2" transform="rotate(-8 51.9 41.9)"/>
<path fill="#ff0000" d="M11.6,-0.2C11.4,2.8 10.3,3.2 10.4,4.6C10.4,6.0 10.8,7.4 12.0,8.2C13.2,9.1 16.1,9.1 17.6,9.9C19.1,10.7 19.9,12.0 20.8,13.1C21.7,14.1 22.0,15.6 23.2,16.3C24.4,16.9 26.3,17.1 28.0,17.1C29.8,17.1 31.9,16.3 33.6,16.3C35.4,16.3 37.1,16.6 38.5,17.1C39.8,17.5 41.0,18.2 41.7,19.1C42.3,20.0 42.7,21.1 42.5,22.3C42.2,23.5 41.0,25.0 40.1,26.3C39.1,27.7 37.9,28.9 36.9,30.3C35.9,31.7 34.2,33.7 34.0,34.7C33.9,35.7 35.0,36.2 36.1,36.4C37.1,36.5 39.2,36.1 40.5,35.5C41.7,35.0 42.5,34.2 43.7,33.1C44.9,32.1 46.5,30.7 47.8,29.4C49.2,28.2 50.3,26.6 51.9,25.4C53.4,24.2 55.5,23.4 57.1,22.3C58.8,21.2 60.6,20.0 62.0,19.1C63.3,18.2 64.4,18.0 65.2,16.7C66.0,15.3 66.4,13.1 66.8,11.1C67.2,9.1 67.3,6.5 67.6,4.6C67.9,2.8 68.6,2.8 68.8,-0.2C69.0,-3.1 68.8,-13.0 68.8,-13.0L11.6,-13.0C11.6,-13.0 11.8,-3.1 11.6,-0.2Z"/>
<path fill="#ff0000" d="M85.7,-0.6L94.1,8.2L94.1,-0.6L85.7,-0.6Z"/>
<ellipse fill="#ff0000" cx="20.2" cy="23.7" rx="2.2" ry="2.2"/>
<path fill="#ff0000" d="M1.1,57.8C1.5,57.3 2.8,56.8 3.9,56.6C5.1,56.5 7.1,56.7 8.0,57.0C8.8,57.4 9.2,58.1 9.2,58.6C9.2,59.2 8.7,59.9 8.0,60.3C7.2,60.6 5.7,60.7 4.7,60.7C3.7,60.6 2.5,60.3 1.9,59.9C1.3,59.4 0.8,58.4 1.1,57.8Z"/>
<ellipse fill="#800000" cx="5.9" cy="58.5" rx="0.7" ry="0.6"/>
<path fill="#800000" d="M17.6,2.2C17.7,1.7 18.4,0.8 20.0,0.5C21.6,0.1 25.3,-0.2 27.2,0.2C29.1,0.6 30.2,1.9 31.2,3.0C32.3,4.2 33.2,5.9 33.6,7.0C34.1,8.2 34.4,9.1 34.0,9.9C33.6,10.6 32.4,11.0 31.2,11.5C30.1,11.9 28.2,12.8 27.2,12.7C26.2,12.5 25.7,11.6 25.2,10.7C24.7,9.7 24.9,8.0 24.4,7.0C23.9,6.0 23.3,5.2 22.4,4.6C21.5,4.0 20.0,3.8 19.2,3.4C18.4,3.0 17.5,2.7 17.6,2.2Z"/>
<path fill="#800000" d="M45.9,7.0C46.0,6.2 46.8,5.1 47.5,4.6C48.3,4.2 49.5,3.9 50.3,4.2C51.1,4.6 51.3,6.6 52.3,6.6C53.3,6.7 54.9,5.0 56.3,4.6C57.8,4.3 59.6,4.1 60.8,4.6C61.9,5.2 62.7,6.4 63.2,7.8C63.6,9.3 63.6,12.0 63.4,13.5C63.2,14.9 62.9,15.9 62.0,16.7C61.1,17.5 59.4,17.7 58.0,18.3C56.5,18.8 54.4,19.4 53.1,19.9C51.9,20.4 50.9,21.4 50.3,21.1C49.7,20.8 49.5,19.4 49.5,18.3C49.5,17.1 50.4,15.5 50.3,14.3C50.3,13.1 49.7,11.9 49.1,11.1C48.5,10.3 47.2,10.1 46.7,9.5C46.2,8.8 45.8,7.8 45.9,7.0Z"/>
<ellipse fill="#ffff00" cx="9.6" cy="14.3" rx="3.6" ry="2.2" transform="rotate(-25 9.6 14.3)"/>
<ellipse fill="#ffff00" cx="29.5" cy="26.1" rx="1.6" ry="1.0" transform="rotate(-30 29.5 26.1)"/>
<path fill="#ffff00" d="M75.6,8.2C76.1,8.6 76.6,9.6 76.4,11.1C76.2,12.5 75.3,15.5 74.4,17.1C73.5,18.7 72.1,20.2 71.2,20.7C70.3,21.2 69.1,20.7 68.8,19.9C68.5,19.1 68.8,17.3 69.2,15.9C69.6,14.4 70.5,12.3 71.2,11.1C71.9,9.9 72.9,9.1 73.6,8.6C74.3,8.2 75.1,7.8 75.6,8.2Z"/>
<ellipse fill="#ffff00" cx="25.4" cy="74.5" rx="3.4" ry="2.2" transform="rotate(-35 25.4 74.5)"/>
<ellipse fill="#ffffff" cx="21.0" cy="32.7" rx="0.8" ry="0.8"/>
<path fill="#80ffff" d="M104.5,34.7C104.5,34.7 95.7,35.1 93.0,34.7C90.4,34.4 90.0,33.3 88.5,32.7C86.9,32.2 85.1,31.4 83.6,31.3C82.2,31.2 81.2,31.4 80.0,32.1C78.9,32.8 77.8,34.3 76.8,35.5C75.9,36.8 75.3,38.2 74.4,39.6C73.5,40.9 71.9,42.4 71.2,43.6C70.5,44.8 71.1,46.0 70.3,46.8C69.4,47.6 67.8,48.1 66.2,48.4C64.6,48.8 62.5,48.8 60.6,48.8C58.7,48.9 56.7,48.8 55.0,48.8C53.3,48.9 51.7,49.0 50.2,49.2C48.7,49.5 47.4,49.9 46.2,50.4C45.0,51.0 43.9,51.6 43.0,52.5C42.0,53.3 41.3,54.2 40.5,55.3C39.7,56.3 38.9,57.6 38.1,58.9C37.3,60.1 36.5,61.4 35.7,62.9C34.9,64.4 34.0,66.1 33.3,67.7C32.6,69.3 32.2,71.1 31.7,72.5C31.2,74.0 30.6,75.8 30.1,76.5C29.6,77.3 29.8,76.5 28.8,77.1C27.8,77.7 25.6,79.5 24.0,80.3C22.4,81.2 20.9,81.9 19.2,82.3C17.5,82.7 15.3,82.5 13.6,82.7C11.8,82.9 10.2,83.0 8.8,83.5C7.3,84.1 5.7,85.0 4.7,85.9C3.8,86.9 3.3,88.1 3.1,89.2C3.0,90.2 3.5,91.2 3.9,92.4C4.3,93.6 5.3,94.9 5.5,96.4C5.8,97.9 5.5,101.2 5.5,101.2L120.0,110.0L104.5,34.7Z"/>
<path fill="#0080ff" d="M104.5,65.1C104.5,65.1 95.2,64.9 93.0,64.7C90.9,64.4 92.4,64.1 91.7,63.5C90.9,62.8 89.8,61.6 88.5,60.7C87.1,59.7 85.4,58.4 83.6,57.8C81.9,57.2 79.6,57.6 78.0,57.0C76.5,56.5 75.1,55.6 74.4,54.6C73.7,53.7 74.3,52.0 73.6,51.4C72.9,50.8 71.1,51.0 70.0,51.0C68.9,51.1 68.3,51.6 67.0,51.6C65.7,51.7 63.8,51.5 62.2,51.2C60.6,51.0 59.0,50.3 57.4,50.0C55.8,49.8 54.1,49.9 52.6,49.9C51.1,49.9 49.8,49.9 48.6,50.2C47.4,50.5 46.3,51.0 45.4,51.6C44.4,52.3 43.8,53.0 43.0,54.1C42.1,55.1 41.3,56.6 40.5,58.1C39.7,59.5 38.9,61.3 38.1,62.9C37.3,64.5 36.4,66.1 35.7,67.7C35.1,69.3 34.7,70.9 34.1,72.5C33.6,74.1 33.4,76.0 32.5,77.3C31.6,78.6 30.2,79.4 28.8,80.3C27.4,81.2 25.3,81.8 24.0,82.7C22.7,83.7 21.9,84.7 21.2,85.9C20.5,87.2 19.7,88.8 19.6,90.0C19.5,91.2 19.4,92.1 20.4,93.2C21.4,94.2 24.7,95.0 25.6,96.4C26.5,97.7 25.6,101.2 25.6,101.2L120.0,110.0L104.5,65.1Z"/>
<path fill="#0000ff" d="M44.6,53.3C45.4,52.3 47.2,51.6 48.6,51.2C49.9,50.8 51.1,50.8 52.6,50.8C54.1,50.9 55.8,51.2 57.4,51.6C59.0,52.1 60.8,52.6 62.2,53.3C63.6,53.9 65.0,54.7 65.8,55.7C66.6,56.6 67.2,57.9 67.0,58.9C66.8,59.8 65.6,60.5 64.6,61.3C63.7,62.1 62.3,62.8 61.4,63.7C60.5,64.6 59.5,66.0 59.4,66.9C59.3,67.8 60.2,68.5 60.6,69.3C61.0,70.1 62.0,70.9 61.8,71.7C61.7,72.6 60.5,73.7 59.8,74.5C59.1,75.4 57.7,76.1 57.4,76.9C57.1,77.8 57.5,79.0 58.2,79.8C58.9,80.5 60.5,81.4 61.4,81.4C62.3,81.4 63.0,80.8 63.4,79.8C63.8,78.7 63.6,76.3 63.8,74.9C64.1,73.5 64.2,72.2 65.0,71.3C65.8,70.5 67.4,69.9 68.6,69.7C69.9,69.5 71.7,69.8 72.7,70.1C73.7,70.5 74.2,71.1 74.7,71.7C75.1,72.4 74.8,73.2 75.5,74.1C76.1,75.1 77.3,76.3 78.7,77.3C80.0,78.4 82.3,79.3 83.6,80.3C85.0,81.4 85.7,82.6 86.9,83.5C88.1,84.5 89.8,85.4 90.9,85.9C91.9,86.5 90.8,86.6 93.0,86.8C95.3,87.0 104.5,87.2 104.5,87.2L104.5,101.2L67.1,101.5C67.1,101.5 67.8,94.0 67.1,92.3C66.3,90.6 64.5,91.6 62.5,91.1C60.4,90.6 57.9,89.7 54.8,89.2C51.7,88.8 47.4,88.9 44.1,88.5C40.8,88.1 37.4,87.3 34.9,86.9C32.3,86.6 30.0,86.8 28.8,86.4C27.6,85.9 27.1,84.8 27.6,84.3C28.1,83.8 30.4,83.6 31.7,83.4C33.1,83.1 34.9,83.4 35.7,83.0C36.6,82.5 36.6,81.5 36.9,80.6C37.3,79.6 37.6,78.7 37.7,77.3C37.9,76.0 37.5,74.1 37.7,72.5C37.9,70.9 38.3,69.3 38.9,67.7C39.5,66.1 40.6,64.6 41.3,62.9C42.1,61.2 42.8,58.9 43.4,57.3C43.9,55.7 43.7,54.3 44.6,53.3Z"/>
<path fill="#000080" d="M49.0,55.3C49.5,54.6 50.4,54.0 51.4,53.9C52.4,53.8 53.9,54.0 55.0,54.5C56.1,55.0 57.1,55.9 57.8,56.9C58.5,57.8 59.0,59.1 59.0,60.1C59.0,61.1 58.5,62.0 57.8,62.9C57.1,63.8 55.8,64.4 55.0,65.3C54.2,66.2 53.5,67.3 53.0,68.5C52.5,69.7 52.2,71.2 52.2,72.5C52.2,73.9 52.6,75.3 53.0,76.5C53.4,77.7 54.4,78.7 54.6,79.8C54.8,80.8 54.8,82.1 54.2,82.6C53.6,83.0 52.4,82.8 51.0,82.6C49.6,82.4 47.2,81.9 45.8,81.4C44.4,80.8 43.3,80.3 42.6,79.4C41.8,78.4 41.4,76.9 41.3,75.7C41.3,74.6 41.6,73.6 42.1,72.5C42.7,71.5 43.8,70.5 44.6,69.3C45.4,68.2 46.3,67.0 47.0,65.7C47.6,64.4 48.3,62.6 48.6,61.3C48.8,59.9 48.3,58.7 48.4,57.7C48.5,56.7 48.5,55.9 49.0,55.3Z"/>
<ellipse fill="#ffffff" cx="89.0" cy="50.5" rx="3.4" ry="3.6"/>
<ellipse fill="#0080ff" cx="77.9" cy="48.5" rx="0.8" ry="0.6" transform="rotate(-30 77.9 48.5)"/>
<ellipse fill="#ffffff" cx="68.6" cy="64.3" rx="1.0" ry="0.5"/></g>
<ellipse fill="#ffff00" cx="0.2" cy="13.7" rx="1.2" ry="1.2"/>
<ellipse fill="#ffffff" cx="0.2" cy="33.5" rx="1.0" ry="1.2"/>
</g>
<path d="M0,0.3V93.0H93.3" fill="none" stroke="#000" stroke-width="1.25" stroke-dasharray="1.25 1.42"/><path d="M-23.60,0V116.90H93.3" fill="none" stroke="#222" stroke-width="1.65" stroke-linejoin="round"/>
</g>
<g transform="translate(219.0,129.6)">
<g clip-path="url(#cp1)">
<rect x="-60" y="0" width="160" height="160" fill="#fff"/>
<path fill="#ffff00" d="M-38.1,-13.7L25.7,-13.7L25.7,84.8C25.7,84.8 4.7,84.9 -0.4,86.1C-5.4,87.3 -2.8,89.8 -4.5,92.1C-6.3,94.4 -8.7,97.2 -10.8,99.8C-12.8,102.3 -14.7,105.2 -16.8,107.4C-18.8,109.7 -19.4,112.1 -23.0,113.5C-26.5,114.9 -38.1,115.8 -38.1,115.8L-38.1,-13.7Z"/>
<path fill="#ff8000" d="M-38.1,-13.7L25.7,-13.7L25.7,74.8C25.7,74.8 4.2,74.9 -0.4,75.7C-4.9,76.5 -0.5,77.5 -1.6,79.3C-2.8,81.2 -5.0,84.1 -7.1,86.6C-9.2,89.2 -11.6,92.7 -14.4,94.9C-17.2,97.0 -19.9,98.5 -23.9,99.4C-27.8,100.3 -38.1,100.3 -38.1,100.3L-38.1,-13.7Z"/>
<path fill="#ff0000" d="M-38.1,-13.7L-9.8,-13.7C-9.8,-13.7 -9.5,-4.0 -9.8,-0.0C-10.1,3.9 -11.8,6.8 -11.7,10.0C-11.5,13.2 -10.3,16.5 -8.9,19.1C-7.6,21.7 -3.8,24.0 -3.5,25.5C-3.1,27.0 -5.3,27.5 -7.1,28.2C-8.9,29.0 -12.3,29.0 -14.4,30.1C-16.5,31.1 -18.3,33.3 -19.9,34.6C-21.5,36.0 -20.8,37.5 -23.9,38.3C-26.9,39.0 -38.1,39.2 -38.1,39.2L-38.1,-13.7Z"/>
<ellipse fill="#800000" cx="-23.9" cy="15.5" rx="2.2" ry="4.4"/>
<path fill="#ffff00" d="M-9.8,34.6C-8.3,33.4 -3.8,31.9 -1.6,31.9C0.5,31.9 2.5,33.3 2.9,34.6C3.4,36.0 2.8,38.9 1.1,40.1C-0.6,41.3 -5.1,42.1 -7.1,41.9C-9.1,41.8 -10.3,40.4 -10.8,39.2C-11.2,38.0 -11.4,35.9 -9.8,34.6Z"/>
<path fill="#ffff00" d="M-32.6,50.1C-32.6,50.1 -26.6,49.8 -23.9,50.1C-21.2,50.4 -18.6,50.8 -16.2,52.0C-13.9,53.2 -10.4,55.5 -9.8,57.4C-9.2,59.4 -10.9,62.3 -12.6,63.8C-14.2,65.4 -18.0,66.0 -19.9,66.6C-21.8,67.2 -21.8,67.3 -23.9,67.5C-26.0,67.6 -32.6,67.5 -32.6,67.5L-32.6,50.1Z"/>
<ellipse fill="#ffffff" cx="-21.7" cy="58.9" rx="1.1" ry="0.7"/>
<ellipse fill="#ff0000" cx="-4.4" cy="49.6" rx="4.9" ry="2.4" transform="rotate(5 -4.4 49.6)"/>
<path fill="#ff0000" d="M-38.1,68.4C-38.1,68.4 -27.5,68.5 -23.9,68.4C-20.2,68.2 -18.7,68.1 -16.2,67.5C-13.7,66.9 -11.2,65.4 -8.9,64.7C-6.6,64.1 -4.2,63.4 -2.5,63.8C-0.9,64.3 1.0,65.5 1.1,67.5C1.3,69.5 -0.3,73.4 -1.6,75.7C-3.0,78.0 -5.4,79.0 -7.1,81.2C-8.8,83.3 -9.8,86.5 -11.7,88.5C-13.5,90.4 -16.0,92.1 -18.1,93.0C-20.1,93.9 -20.5,93.8 -23.9,93.9C-27.2,94.1 -38.1,93.9 -38.1,93.9L-38.1,68.4Z"/>
<path fill="#800000" d="M-38.1,74.8C-38.1,74.8 -27.4,74.6 -23.9,74.8C-20.4,74.9 -18.9,74.8 -17.1,75.7C-15.4,76.6 -13.6,78.6 -13.5,80.3C-13.3,81.9 -14.5,84.6 -16.2,85.7C-18.0,86.9 -20.2,86.8 -23.9,87.0C-27.5,87.2 -38.1,87.0 -38.1,87.0L-38.1,74.8Z"/>
<path fill="#80ffff" d="M4.8,83.0C4.8,83.0 3.8,93.3 3.8,97.6C3.8,101.8 4.2,105.3 4.8,108.5C5.4,111.7 7.0,113.7 7.5,116.8C8.0,119.8 7.5,126.8 7.5,126.8L102.4,126.8L102.4,83.0L4.8,83.0Z"/>
<path fill="#0080ff" d="M16.6,86.6C16.6,86.6 17.5,96.7 19.4,99.4C21.2,102.2 24.4,102.8 27.6,103.1C30.8,103.4 35.2,102.3 38.5,101.2C41.9,100.2 44.9,97.9 47.6,96.7C50.4,95.5 52.2,94.2 54.9,93.9C57.7,93.6 62.2,93.0 64.1,94.9C65.9,96.7 64.4,102.0 65.9,104.9C67.4,107.8 70.1,110.5 73.2,112.2C76.2,113.9 80.9,114.3 84.1,114.9C87.3,115.6 89.3,115.9 92.4,116.2C95.4,116.5 102.4,116.8 102.4,116.8L102.4,86.6L16.6,86.6Z"/>
<path fill="#0000ff" d="M63.2,86.6C63.2,86.6 65.7,94.9 67.7,97.6C69.7,100.3 72.3,101.8 75.0,103.1C77.8,104.3 81.2,104.3 84.1,104.9C87.0,105.5 89.3,106.3 92.4,106.7C95.4,107.1 102.4,107.1 102.4,107.1L102.4,86.6L63.2,86.6Z"/>
<ellipse fill="#ffffff" cx="52.8" cy="101.6" rx="6.8" ry="4.4" transform="rotate(-40 52.8 101.6)"/>
<g clip-path="url(#ci)"><rect width="93" height="93" fill="#fff"/><path fill="#ffff00" d="M120.0,-20.0L104.5,26.7C104.5,26.7 96.0,26.8 93.0,27.1C90.1,27.4 88.8,28.1 86.9,28.3C84.9,28.6 82.8,28.4 81.2,28.7C79.6,29.1 78.4,29.5 77.2,30.3C76.0,31.1 75.1,32.3 74.0,33.5C72.9,34.7 71.9,36.3 70.8,37.6C69.7,38.8 68.8,40.1 67.6,41.2C66.4,42.2 65.1,43.1 63.6,44.0C62.0,44.9 60.2,46.2 58.3,46.7C56.3,47.1 54.0,46.5 51.9,46.7C49.7,46.9 47.2,47.4 45.4,47.9C43.7,48.4 42.6,49.1 41.4,49.9C40.2,50.7 39.3,51.6 38.2,52.7C37.1,53.8 36.1,55.5 35.0,56.7C33.9,57.9 32.7,59.3 31.8,59.9C30.8,60.5 29.8,60.9 29.2,60.3C28.7,59.8 28.4,58.1 28.6,56.7C28.7,55.3 29.4,53.5 30.2,51.9C31.0,50.3 32.3,48.6 33.4,47.1C34.5,45.6 36.2,43.9 36.6,43.1C37.0,42.2 37.1,42.2 35.8,41.9C34.5,41.6 30.8,41.2 28.6,41.3C26.3,41.4 23.7,41.5 22.1,42.3C20.6,43.0 20.3,44.9 19.3,45.9C18.4,46.9 17.2,47.4 16.5,48.3C15.9,49.2 15.5,50.3 15.3,51.5C15.2,52.7 15.4,54.3 15.7,55.5C16.1,56.7 17.4,57.5 17.5,58.7C17.6,60.0 17.2,61.7 16.5,63.1C15.9,64.6 14.8,66.2 13.7,67.6C12.6,68.9 11.1,70.3 10.1,71.2C9.1,72.1 9.1,72.5 8.0,73.1C6.8,73.7 4.5,74.1 3.1,74.7C1.8,75.3 0.9,76.3 -0.1,76.7C-1.1,77.1 -1.8,77.0 -2.9,77.1C-4.0,77.3 -4.3,77.5 -6.5,77.5C-8.7,77.6 -16.1,77.5 -16.1,77.5L-20.0,-20.0L120.0,-20.0Z"/>
<path fill="#ffffff" d="M3.8,50.5C4.4,50.0 5.8,49.7 6.7,49.7C7.7,49.7 8.8,50.1 9.6,50.5C10.4,50.8 11.1,51.4 11.6,51.9C12.0,52.4 12.3,52.9 12.1,53.4C11.9,53.8 11.2,54.4 10.4,54.6C9.5,54.9 8.2,55.0 7.1,55.0C6.1,55.0 5.0,55.0 4.3,54.6C3.7,54.2 3.2,53.3 3.1,52.6C3.0,51.9 3.2,51.0 3.8,50.5Z"/>
<ellipse fill="#80ffff" cx="6.7" cy="52.5" rx="1.7" ry="1.2"/>
<path fill="#ff8000" d="M120.0,-20.0L104.5,19.5C104.5,19.5 95.6,19.6 93.0,19.9C90.5,20.2 90.6,20.5 89.3,21.1C88.0,21.7 86.9,22.8 85.3,23.5C83.6,24.2 81.5,25.0 79.6,25.5C77.8,26.0 75.9,26.7 74.0,26.7C72.1,26.7 69.9,26.2 68.4,25.5C66.9,24.8 66.2,23.3 65.2,22.7C64.2,22.1 63.4,21.8 62.4,21.9C61.3,22.0 59.9,22.5 58.8,23.1C57.6,23.7 56.4,24.7 55.5,25.5C54.7,26.3 54.3,27.1 53.5,27.9C52.7,28.7 51.9,29.4 50.7,30.3C49.6,31.3 47.7,32.5 46.7,33.5C45.7,34.6 45.6,35.9 44.6,36.6C43.6,37.4 42.2,38.0 40.6,38.3C39.0,38.5 36.9,38.3 35.0,38.3C33.1,38.2 30.7,38.3 29.4,37.9C28.0,37.5 27.2,37.0 27.0,35.8C26.7,34.7 27.8,32.2 27.8,31.0C27.7,29.9 27.6,29.3 26.6,29.0C25.5,28.7 23.5,29.1 21.6,29.1C19.7,29.1 16.8,28.9 15.2,29.1C13.6,29.3 12.8,30.4 12.0,30.3C11.1,30.3 10.7,29.5 10.0,28.7C9.2,27.9 8.6,26.1 7.6,25.5C6.5,24.9 4.9,24.9 3.9,25.1C2.9,25.3 2.7,26.4 1.5,26.7C0.4,27.0 -1.5,26.9 -2.9,27.0C-4.2,27.0 -4.3,27.0 -6.5,27.0C-8.7,27.0 -16.1,27.0 -16.1,27.0L-20.0,-20.0L120.0,-20.0Z"/>
<path fill="#ff8000" d="M-16.1,38.0C-16.1,38.0 -8.7,38.0 -6.5,38.0C-4.3,38.0 -4.5,38.2 -2.9,38.0C-1.3,37.8 0.9,37.1 3.1,36.8C5.3,36.4 8.7,35.8 10.4,35.9C12.0,36.1 12.8,36.6 13.2,37.6C13.6,38.5 13.1,40.2 12.8,41.6C12.4,42.9 11.8,44.4 11.2,45.6C10.6,46.8 10.2,48.0 9.2,48.6C8.1,49.3 5.8,48.8 4.7,49.4C3.7,50.0 3.1,51.2 2.7,52.2C2.3,53.2 1.9,54.8 2.3,55.4C2.8,56.0 4.3,55.6 5.5,55.8C6.7,56.0 8.6,56.2 9.6,56.6C10.5,57.1 11.3,57.8 11.3,58.6C11.4,59.5 10.8,60.7 10.0,61.5C9.1,62.3 7.1,62.6 6.3,63.5C5.5,64.3 5.6,65.7 5.1,66.7C4.7,67.6 4.4,68.5 3.5,69.1C2.7,69.7 1.0,70.0 -0.1,70.3C-1.1,70.6 -1.8,70.6 -2.9,70.7C-4.0,70.8 -4.3,70.7 -6.5,70.7C-8.7,70.7 -16.1,70.7 -16.1,70.7L-16.1,38.0Z"/>
<ellipse fill="#ff8000" cx="51.9" cy="41.9" rx="6.0" ry="3.2" transform="rotate(-8 51.9 41.9)"/>
<path fill="#ff0000" d="M11.6,-0.2C11.4,2.8 10.3,3.2 10.4,4.6C10.4,6.0 10.8,7.4 12.0,8.2C13.2,9.1 16.1,9.1 17.6,9.9C19.1,10.7 19.9,12.0 20.8,13.1C21.7,14.1 22.0,15.6 23.2,16.3C24.4,16.9 26.3,17.1 28.0,17.1C29.8,17.1 31.9,16.3 33.6,16.3C35.4,16.3 37.1,16.6 38.5,17.1C39.8,17.5 41.0,18.2 41.7,19.1C42.3,20.0 42.7,21.1 42.5,22.3C42.2,23.5 41.0,25.0 40.1,26.3C39.1,27.7 37.9,28.9 36.9,30.3C35.9,31.7 34.2,33.7 34.0,34.7C33.9,35.7 35.0,36.2 36.1,36.4C37.1,36.5 39.2,36.1 40.5,35.5C41.7,35.0 42.5,34.2 43.7,33.1C44.9,32.1 46.5,30.7 47.8,29.4C49.2,28.2 50.3,26.6 51.9,25.4C53.4,24.2 55.5,23.4 57.1,22.3C58.8,21.2 60.6,20.0 62.0,19.1C63.3,18.2 64.4,18.0 65.2,16.7C66.0,15.3 66.4,13.1 66.8,11.1C67.2,9.1 67.3,6.5 67.6,4.6C67.9,2.8 68.6,2.8 68.8,-0.2C69.0,-3.1 68.8,-13.0 68.8,-13.0L11.6,-13.0C11.6,-13.0 11.8,-3.1 11.6,-0.2Z"/>
<path fill="#ff0000" d="M85.7,-0.6L94.1,8.2L94.1,-0.6L85.7,-0.6Z"/>
<ellipse fill="#ff0000" cx="20.2" cy="23.7" rx="2.2" ry="2.2"/>
<path fill="#ff0000" d="M1.1,57.8C1.5,57.3 2.8,56.8 3.9,56.6C5.1,56.5 7.1,56.7 8.0,57.0C8.8,57.4 9.2,58.1 9.2,58.6C9.2,59.2 8.7,59.9 8.0,60.3C7.2,60.6 5.7,60.7 4.7,60.7C3.7,60.6 2.5,60.3 1.9,59.9C1.3,59.4 0.8,58.4 1.1,57.8Z"/>
<ellipse fill="#800000" cx="5.9" cy="58.5" rx="0.7" ry="0.6"/>
<path fill="#800000" d="M17.6,2.2C17.7,1.7 18.4,0.8 20.0,0.5C21.6,0.1 25.3,-0.2 27.2,0.2C29.1,0.6 30.2,1.9 31.2,3.0C32.3,4.2 33.2,5.9 33.6,7.0C34.1,8.2 34.4,9.1 34.0,9.9C33.6,10.6 32.4,11.0 31.2,11.5C30.1,11.9 28.2,12.8 27.2,12.7C26.2,12.5 25.7,11.6 25.2,10.7C24.7,9.7 24.9,8.0 24.4,7.0C23.9,6.0 23.3,5.2 22.4,4.6C21.5,4.0 20.0,3.8 19.2,3.4C18.4,3.0 17.5,2.7 17.6,2.2Z"/>
<path fill="#800000" d="M46.6,5.3C46.8,4.4 48.2,3.7 48.9,3.7C49.7,3.7 50.5,4.4 51.2,5.3C52.0,6.2 52.7,9.0 53.5,9.1C54.4,9.2 55.5,6.7 56.6,6.0C57.8,5.3 59.3,4.6 60.4,5.0C61.5,5.3 62.7,6.9 63.2,8.3C63.7,9.8 63.8,12.2 63.5,13.7C63.2,15.2 62.4,16.5 61.2,17.5C60.1,18.5 58.1,19.1 56.6,19.8C55.1,20.6 53.2,21.9 52.0,22.1C50.8,22.4 49.7,22.3 49.4,21.4C49.1,20.5 49.7,18.3 50.0,16.8C50.3,15.2 51.6,13.4 51.2,12.2C50.9,10.9 48.9,10.2 48.2,9.1C47.4,7.9 46.5,6.2 46.6,5.3Z"/>
<ellipse fill="#ffff00" cx="9.6" cy="14.3" rx="3.6" ry="2.2" transform="rotate(-25 9.6 14.3)"/>
<ellipse fill="#ffff00" cx="29.5" cy="26.1" rx="1.6" ry="1.0" transform="rotate(-30 29.5 26.1)"/>
<path fill="#ffff00" d="M75.6,8.2C76.1,8.6 76.6,9.6 76.4,11.1C76.2,12.5 75.3,15.5 74.4,17.1C73.5,18.7 72.1,20.2 71.2,20.7C70.3,21.2 69.1,20.7 68.8,19.9C68.5,19.1 68.8,17.3 69.2,15.9C69.6,14.4 70.5,12.3 71.2,11.1C71.9,9.9 72.9,9.1 73.6,8.6C74.3,8.2 75.1,7.8 75.6,8.2Z"/>
<ellipse fill="#ffff00" cx="25.4" cy="74.5" rx="3.4" ry="2.2" transform="rotate(-35 25.4 74.5)"/>
<ellipse fill="#ffffff" cx="21.0" cy="32.7" rx="0.8" ry="0.8"/>
<path fill="#80ffff" d="M104.5,34.7C104.5,34.7 95.7,35.1 93.0,34.7C90.4,34.4 90.0,33.3 88.5,32.7C86.9,32.2 85.1,31.4 83.6,31.3C82.2,31.2 81.2,31.4 80.0,32.1C78.9,32.8 77.8,34.3 76.8,35.5C75.9,36.8 75.3,38.2 74.4,39.6C73.5,40.9 71.9,42.4 71.2,43.6C70.5,44.8 71.1,46.0 70.3,46.8C69.4,47.6 67.8,48.1 66.2,48.4C64.6,48.8 62.5,48.8 60.6,48.8C58.7,48.9 56.7,48.8 55.0,48.8C53.3,48.9 51.7,49.0 50.2,49.2C48.7,49.5 47.4,49.9 46.2,50.4C45.0,51.0 43.9,51.6 43.0,52.5C42.0,53.3 41.3,54.2 40.5,55.3C39.7,56.3 38.9,57.6 38.1,58.9C37.3,60.1 36.5,61.4 35.7,62.9C34.9,64.4 34.0,66.1 33.3,67.7C32.6,69.3 32.2,71.1 31.7,72.5C31.2,74.0 30.6,75.8 30.1,76.5C29.6,77.3 29.8,76.5 28.8,77.1C27.8,77.7 25.6,79.5 24.0,80.3C22.4,81.2 20.9,81.9 19.2,82.3C17.5,82.7 15.3,82.5 13.6,82.7C11.8,82.9 10.2,83.0 8.8,83.5C7.3,84.1 5.7,85.0 4.7,85.9C3.8,86.9 3.3,88.1 3.1,89.2C3.0,90.2 3.5,91.2 3.9,92.4C4.3,93.6 5.3,94.9 5.5,96.4C5.8,97.9 5.5,101.2 5.5,101.2L120.0,110.0L104.5,34.7Z"/>
<path fill="#0080ff" d="M104.5,65.1C104.5,65.1 95.2,64.9 93.0,64.7C90.9,64.4 92.4,64.1 91.7,63.5C90.9,62.8 89.8,61.6 88.5,60.7C87.1,59.7 85.4,58.4 83.6,57.8C81.9,57.2 79.6,57.6 78.0,57.0C76.5,56.5 75.1,55.6 74.4,54.6C73.7,53.7 74.3,52.0 73.6,51.4C72.9,50.8 71.1,51.0 70.0,51.0C68.9,51.1 68.3,51.6 67.0,51.6C65.7,51.7 63.8,51.5 62.2,51.2C60.6,51.0 59.0,50.3 57.4,50.0C55.8,49.8 54.1,49.9 52.6,49.9C51.1,49.9 49.8,49.9 48.6,50.2C47.4,50.5 46.3,51.0 45.4,51.6C44.4,52.3 43.8,53.0 43.0,54.1C42.1,55.1 41.3,56.6 40.5,58.1C39.7,59.5 38.9,61.3 38.1,62.9C37.3,64.5 36.4,66.1 35.7,67.7C35.1,69.3 34.7,70.9 34.1,72.5C33.6,74.1 33.4,76.0 32.5,77.3C31.6,78.6 30.2,79.4 28.8,80.3C27.4,81.2 25.3,81.8 24.0,82.7C22.7,83.7 21.9,84.7 21.2,85.9C20.5,87.2 19.7,88.8 19.6,90.0C19.5,91.2 19.4,92.1 20.4,93.2C21.4,94.2 24.7,95.0 25.6,96.4C26.5,97.7 25.6,101.2 25.6,101.2L120.0,110.0L104.5,65.1Z"/>
<path fill="#0000ff" d="M44.6,53.3C45.4,52.3 47.2,51.6 48.6,51.2C49.9,50.8 51.1,50.8 52.6,50.8C54.1,50.9 55.8,51.2 57.4,51.6C59.0,52.1 60.8,52.6 62.2,53.3C63.6,53.9 65.0,54.7 65.8,55.7C66.6,56.6 67.2,57.9 67.0,58.9C66.8,59.8 65.6,60.5 64.6,61.3C63.7,62.1 62.3,62.8 61.4,63.7C60.5,64.6 59.5,66.0 59.4,66.9C59.3,67.8 60.2,68.5 60.6,69.3C61.0,70.1 62.0,70.9 61.8,71.7C61.7,72.6 60.5,73.7 59.8,74.5C59.1,75.4 57.7,76.1 57.4,76.9C57.1,77.8 57.5,79.0 58.2,79.8C58.9,80.5 60.5,81.4 61.4,81.4C62.3,81.4 63.0,80.8 63.4,79.8C63.8,78.7 63.6,76.3 63.8,74.9C64.1,73.5 64.2,72.2 65.0,71.3C65.8,70.5 67.4,69.9 68.6,69.7C69.9,69.5 71.7,69.8 72.7,70.1C73.7,70.5 74.2,71.1 74.7,71.7C75.1,72.4 74.8,73.2 75.5,74.1C76.1,75.1 77.3,76.3 78.7,77.3C80.0,78.4 82.3,79.3 83.6,80.3C85.0,81.4 85.7,82.6 86.9,83.5C88.1,84.5 89.8,85.4 90.9,85.9C91.9,86.5 90.8,86.6 93.0,86.8C95.3,87.0 104.5,87.2 104.5,87.2L104.5,101.2L67.1,101.5C67.1,101.5 67.8,94.0 67.1,92.3C66.3,90.6 64.5,91.6 62.5,91.1C60.4,90.6 57.9,89.7 54.8,89.2C51.7,88.8 47.4,88.9 44.1,88.5C40.8,88.1 37.4,87.3 34.9,86.9C32.3,86.6 30.0,86.8 28.8,86.4C27.6,85.9 27.1,84.8 27.6,84.3C28.1,83.8 30.4,83.6 31.7,83.4C33.1,83.1 34.9,83.4 35.7,83.0C36.6,82.5 36.6,81.5 36.9,80.6C37.3,79.6 37.6,78.7 37.7,77.3C37.9,76.0 37.5,74.1 37.7,72.5C37.9,70.9 38.3,69.3 38.9,67.7C39.5,66.1 40.6,64.6 41.3,62.9C42.1,61.2 42.8,58.9 43.4,57.3C43.9,55.7 43.7,54.3 44.6,53.3Z"/>
<path fill="#000080" d="M49.0,54.3C49.9,53.4 52.6,53.3 54.3,53.6C55.9,53.8 58.0,54.8 58.9,55.8C59.9,56.8 60.4,58.5 60.0,59.7C59.6,60.8 57.9,62.3 56.6,62.7C55.3,63.1 53.3,62.6 52.0,62.0C50.8,61.4 49.5,60.2 49.0,58.9C48.5,57.6 48.1,55.2 49.0,54.3Z"/>
<path fill="#000080" d="M46.6,66.6C47.9,66.0 49.5,65.5 50.5,66.3C51.5,67.0 52.0,69.3 52.5,71.2C53.0,73.0 53.6,75.5 53.6,77.3C53.5,79.1 53.2,81.2 52.0,81.9C50.9,82.7 48.3,82.4 46.6,81.9C45.0,81.4 43.0,80.1 42.1,78.8C41.2,77.5 41.1,75.7 41.3,74.2C41.4,72.7 41.9,70.9 42.8,69.6C43.7,68.4 45.4,67.1 46.6,66.6Z"/>
<path fill="#ff0000" d="M24.4,13.7C23.1,13.8 22.5,17.1 21.4,18.3C20.2,19.4 18.2,19.7 17.5,20.6C16.8,21.5 16.8,22.9 17.2,23.7C17.6,24.4 18.9,25.2 19.8,25.2C20.8,25.2 21.9,24.5 22.9,23.7C23.9,22.8 24.9,21.3 26.0,20.3C27.0,19.3 29.3,18.6 29.0,17.5C28.8,16.4 25.7,13.6 24.4,13.7Z"/>
<path fill="#ff8000" d="M27.5,24.4C27.8,23.9 28.9,23.4 29.5,23.7C30.1,23.9 31.0,25.2 31.0,26.0C31.1,26.7 30.4,27.8 29.8,27.9C29.2,28.1 28.0,27.6 27.6,27.0C27.3,26.4 27.2,25.0 27.5,24.4Z"/>
<ellipse fill="#ff0000" cx="2.5" cy="43.5" rx="3.8" ry="2.3"/>
<path fill="#ff0000" d="M-6.5,57.0C-5.2,56.6 -0.6,57.9 1.1,57.8C2.9,57.8 2.8,56.8 3.9,56.6C5.1,56.5 7.1,56.7 8.0,57.0C8.8,57.4 9.2,58.1 9.2,58.6C9.2,59.2 8.7,59.9 8.0,60.3C7.2,60.6 5.7,60.7 4.7,60.7C3.7,60.6 3.8,59.9 1.9,59.9C0.1,59.8 -5.1,60.7 -6.5,60.3C-7.9,59.8 -7.8,57.4 -6.5,57.0Z"/>
<ellipse fill="#800000" cx="5.9" cy="58.5" rx="0.7" ry="0.6"/>
<ellipse fill="#ffffff" cx="89.0" cy="50.5" rx="3.4" ry="3.6"/>
<ellipse fill="#0080ff" cx="77.9" cy="48.5" rx="0.8" ry="0.6" transform="rotate(-30 77.9 48.5)"/>
<ellipse fill="#ffffff" cx="68.6" cy="64.3" rx="1.0" ry="0.5"/></g>
<ellipse fill="#ffff00" cx="0.3" cy="13.7" rx="2.0" ry="1.8"/>
<ellipse fill="#ffffff" cx="0.5" cy="33.2" rx="1.7" ry="2.0"/>
</g>
<path d="M0,0.3V93.0H93.3" fill="none" stroke="#000" stroke-width="1.25" stroke-dasharray="1.25 1.42"/><path d="M-23.60,0V116.90H93.3" fill="none" stroke="#222" stroke-width="1.65" stroke-linejoin="round"/>
</g>
<g transform="translate(376.5,129.6)">
<g clip-path="url(#cp1)">
<rect x="-60" y="0" width="160" height="160" fill="#fff"/>
<path fill="#ffff00" d="M-37.6,-13.7L26.2,-13.7L26.2,75.7C26.2,75.7 5.2,76.5 0.1,77.5C-4.9,78.6 -2.1,80.1 -3.9,82.1C-5.6,84.1 -8.0,87.2 -10.3,89.4C-12.5,91.5 -15.4,93.6 -17.6,94.9C-19.7,96.1 -20.0,96.2 -23.4,96.7C-26.7,97.1 -37.6,97.6 -37.6,97.6L-37.6,-13.7Z"/>
<path fill="#ff8000" d="M-37.6,-13.7L26.2,-13.7L26.2,68.4C26.2,68.4 5.3,68.4 0.1,69.3C-5.0,70.2 -3.0,72.2 -4.8,73.9C-6.5,75.5 -8.1,78.1 -10.3,79.3C-12.4,80.6 -15.4,81.2 -17.6,81.2C-19.7,81.2 -20.0,79.8 -23.4,79.3C-26.7,78.9 -37.6,78.4 -37.6,78.4L-37.6,-13.7Z"/>
<path fill="#ffff00" d="M8.0,25.5C8.0,25.5 2.3,24.7 0.1,25.5C-2.0,26.3 -3.8,28.6 -4.8,30.1C-5.8,31.6 -6.1,33.4 -5.7,34.6C-5.2,35.9 -3.0,36.8 -2.0,37.4C-1.1,38.0 -1.5,38.0 0.1,38.3C1.8,38.6 8.0,39.2 8.0,39.2L8.0,25.5Z"/>
<path fill="#ff0000" d="M-15.4,22.8C-14.6,22.0 -12.2,20.6 -10.3,20.4C-8.3,20.2 -5.4,21.3 -3.9,21.9C-2.3,22.5 -0.8,23.4 -0.8,24.0C-0.8,24.7 -2.3,25.6 -3.9,26.1C-5.4,26.5 -8.4,26.9 -10.3,26.8C-12.1,26.6 -14.0,25.8 -14.8,25.1C-15.7,24.5 -16.1,23.6 -15.4,22.8Z"/>
<ellipse fill="#ffff00" cx="-23.4" cy="47.2" rx="2.6" ry="4.0"/>
<path fill="#80ffff" d="M5.3,83.0C5.3,83.0 4.0,93.9 4.3,97.6C4.7,101.2 5.3,102.9 7.1,104.9C8.9,106.9 12.1,108.4 15.3,109.5C18.5,110.5 22.0,111.1 26.2,111.3C30.5,111.5 36.3,111.0 40.8,110.7C45.4,110.4 50.0,109.5 53.6,109.5C57.3,109.4 59.4,109.9 62.7,110.4C66.1,110.8 67.6,111.9 73.7,112.2C79.8,112.5 99.2,112.2 99.2,112.2L99.2,83.0L5.3,83.0Z"/>
<path fill="#0080ff" d="M18.0,86.6C18.0,86.6 19.1,94.5 20.8,96.7C22.4,98.9 25.0,99.3 28.1,99.8C31.1,100.3 35.7,100.1 39.0,99.8C42.4,99.4 45.1,98.4 48.1,97.6C51.2,96.8 54.8,95.0 57.3,94.9C59.7,94.7 61.2,95.5 62.7,96.7C64.3,97.9 64.3,100.8 66.4,102.2C68.5,103.5 72.5,104.6 75.5,104.9C78.6,105.2 80.7,104.3 84.6,104.0C88.6,103.6 99.2,102.7 99.2,102.7L99.2,86.6L18.0,86.6Z"/>
<path fill="#0000ff" d="M62.7,86.6C62.7,86.6 65.8,94.9 68.2,96.7C70.6,98.5 74.3,97.7 77.3,97.6C80.4,97.4 82.8,96.4 86.5,95.8C90.1,95.1 99.2,93.6 99.2,93.6L99.2,86.6L62.7,86.6Z"/>
<g clip-path="url(#ci)"><rect width="93" height="93" fill="#fff"/><path fill="#ffff00" d="M120.0,-20.0L104.5,26.7C104.5,26.7 96.0,26.8 93.0,27.1C90.1,27.4 88.8,28.1 86.9,28.3C84.9,28.6 82.8,28.4 81.2,28.7C79.6,29.1 78.4,29.5 77.2,30.3C76.0,31.1 75.1,32.3 74.0,33.5C72.9,34.7 71.9,36.3 70.8,37.6C69.7,38.8 68.8,40.1 67.6,41.2C66.4,42.2 65.1,43.1 63.6,44.0C62.0,44.9 60.2,46.2 58.3,46.7C56.3,47.1 54.0,46.5 51.9,46.7C49.7,46.9 47.2,47.4 45.4,47.9C43.7,48.4 42.6,49.1 41.4,49.9C40.2,50.7 39.3,51.6 38.2,52.7C37.1,53.8 36.1,55.5 35.0,56.7C33.9,57.9 32.7,59.3 31.8,59.9C30.8,60.5 29.8,60.9 29.2,60.3C28.7,59.8 28.4,58.1 28.6,56.7C28.7,55.3 29.4,53.5 30.2,51.9C31.0,50.3 32.3,48.6 33.4,47.1C34.5,45.6 36.2,43.9 36.6,43.1C37.0,42.2 37.1,42.2 35.8,41.9C34.5,41.6 30.8,41.2 28.6,41.3C26.3,41.4 23.7,41.5 22.1,42.3C20.6,43.0 20.3,44.9 19.3,45.9C18.4,46.9 17.2,47.4 16.5,48.3C15.9,49.2 15.5,50.3 15.3,51.5C15.2,52.7 15.4,54.3 15.7,55.5C16.1,56.7 17.4,57.5 17.5,58.7C17.6,60.0 17.2,61.7 16.5,63.1C15.9,64.6 14.8,66.2 13.7,67.6C12.6,68.9 11.1,70.3 10.1,71.2C9.1,72.1 9.1,72.5 8.0,73.1C6.8,73.7 4.5,74.1 3.1,74.7C1.8,75.3 0.9,76.3 -0.1,76.7C-1.1,77.1 -1.8,77.0 -2.9,77.1C-4.0,77.3 -4.3,77.5 -6.5,77.5C-8.7,77.6 -16.1,77.5 -16.1,77.5L-20.0,-20.0L120.0,-20.0Z"/>
<path fill="#ffffff" d="M3.8,50.5C4.4,50.0 5.8,49.7 6.7,49.7C7.7,49.7 8.8,50.1 9.6,50.5C10.4,50.8 11.1,51.4 11.6,51.9C12.0,52.4 12.3,52.9 12.1,53.4C11.9,53.8 11.2,54.4 10.4,54.6C9.5,54.9 8.2,55.0 7.1,55.0C6.1,55.0 5.0,55.0 4.3,54.6C3.7,54.2 3.2,53.3 3.1,52.6C3.0,51.9 3.2,51.0 3.8,50.5Z"/>
<ellipse fill="#80ffff" cx="6.7" cy="52.5" rx="1.7" ry="1.2"/>
<path fill="#ff8000" d="M120.0,-20.0L104.5,19.5C104.5,19.5 95.6,19.6 93.0,19.9C90.5,20.2 90.6,20.5 89.3,21.1C88.0,21.7 86.9,22.8 85.3,23.5C83.6,24.2 81.5,25.0 79.6,25.5C77.8,26.0 75.9,26.7 74.0,26.7C72.1,26.7 69.9,26.2 68.4,25.5C66.9,24.8 66.2,23.3 65.2,22.7C64.2,22.1 63.4,21.8 62.4,21.9C61.3,22.0 59.9,22.5 58.8,23.1C57.6,23.7 56.4,24.7 55.5,25.5C54.7,26.3 54.3,27.1 53.5,27.9C52.7,28.7 51.9,29.4 50.7,30.3C49.6,31.3 47.7,32.5 46.7,33.5C45.7,34.6 45.6,35.9 44.6,36.6C43.6,37.4 42.2,38.0 40.6,38.3C39.0,38.5 36.9,38.3 35.0,38.3C33.1,38.2 30.7,38.3 29.4,37.9C28.0,37.5 27.2,37.0 27.0,35.8C26.7,34.7 27.8,32.2 27.8,31.0C27.7,29.9 27.6,29.3 26.6,29.0C25.5,28.7 23.5,29.1 21.6,29.1C19.7,29.1 16.8,28.9 15.2,29.1C13.6,29.3 12.8,30.4 12.0,30.3C11.1,30.3 10.7,29.5 10.0,28.7C9.2,27.9 8.6,26.1 7.6,25.5C6.5,24.9 4.9,24.9 3.9,25.1C2.9,25.3 2.7,26.4 1.5,26.7C0.4,27.0 -1.5,26.9 -2.9,27.0C-4.2,27.0 -4.3,27.0 -6.5,27.0C-8.7,27.0 -16.1,27.0 -16.1,27.0L-20.0,-20.0L120.0,-20.0Z"/>
<path fill="#ff8000" d="M-16.1,38.0C-16.1,38.0 -8.7,38.0 -6.5,38.0C-4.3,38.0 -4.5,38.2 -2.9,38.0C-1.3,37.8 0.9,37.1 3.1,36.8C5.3,36.4 8.7,35.8 10.4,35.9C12.0,36.1 12.8,36.6 13.2,37.6C13.6,38.5 13.1,40.2 12.8,41.6C12.4,42.9 11.8,44.4 11.2,45.6C10.6,46.8 10.2,48.0 9.2,48.6C8.1,49.3 5.8,48.8 4.7,49.4C3.7,50.0 3.1,51.2 2.7,52.2C2.3,53.2 1.9,54.8 2.3,55.4C2.8,56.0 4.3,55.6 5.5,55.8C6.7,56.0 8.6,56.2 9.6,56.6C10.5,57.1 11.3,57.8 11.3,58.6C11.4,59.5 10.8,60.7 10.0,61.5C9.1,62.3 7.1,62.6 6.3,63.5C5.5,64.3 5.6,65.7 5.1,66.7C4.7,67.6 4.4,68.5 3.5,69.1C2.7,69.7 1.0,70.0 -0.1,70.3C-1.1,70.6 -1.8,70.6 -2.9,70.7C-4.0,70.8 -4.3,70.7 -6.5,70.7C-8.7,70.7 -16.1,70.7 -16.1,70.7L-16.1,38.0Z"/>
<ellipse fill="#ff8000" cx="51.9" cy="41.9" rx="6.0" ry="3.2" transform="rotate(-8 51.9 41.9)"/>
<path fill="#ff0000" d="M11.6,-0.2C11.4,2.8 10.3,3.2 10.4,4.6C10.4,6.0 10.8,7.4 12.0,8.2C13.2,9.1 16.1,9.1 17.6,9.9C19.1,10.7 19.9,12.0 20.8,13.1C21.7,14.1 22.0,15.6 23.2,16.3C24.4,16.9 26.3,17.1 28.0,17.1C29.8,17.1 31.9,16.3 33.6,16.3C35.4,16.3 37.1,16.6 38.5,17.1C39.8,17.5 41.0,18.2 41.7,19.1C42.3,20.0 42.7,21.1 42.5,22.3C42.2,23.5 41.0,25.0 40.1,26.3C39.1,27.7 37.9,28.9 36.9,30.3C35.9,31.7 34.2,33.7 34.0,34.7C33.9,35.7 35.0,36.2 36.1,36.4C37.1,36.5 39.2,36.1 40.5,35.5C41.7,35.0 42.5,34.2 43.7,33.1C44.9,32.1 46.5,30.7 47.8,29.4C49.2,28.2 50.3,26.6 51.9,25.4C53.4,24.2 55.5,23.4 57.1,22.3C58.8,21.2 60.6,20.0 62.0,19.1C63.3,18.2 64.4,18.0 65.2,16.7C66.0,15.3 66.4,13.1 66.8,11.1C67.2,9.1 67.3,6.5 67.6,4.6C67.9,2.8 68.6,2.8 68.8,-0.2C69.0,-3.1 68.8,-13.0 68.8,-13.0L11.6,-13.0C11.6,-13.0 11.8,-3.1 11.6,-0.2Z"/>
<path fill="#ff0000" d="M85.7,-0.6L94.1,8.2L94.1,-0.6L85.7,-0.6Z"/>
<ellipse fill="#ff0000" cx="20.2" cy="23.7" rx="2.2" ry="2.2"/>
<path fill="#ff0000" d="M1.1,57.8C1.5,57.3 2.8,56.8 3.9,56.6C5.1,56.5 7.1,56.7 8.0,57.0C8.8,57.4 9.2,58.1 9.2,58.6C9.2,59.2 8.7,59.9 8.0,60.3C7.2,60.6 5.7,60.7 4.7,60.7C3.7,60.6 2.5,60.3 1.9,59.9C1.3,59.4 0.8,58.4 1.1,57.8Z"/>
<ellipse fill="#800000" cx="5.9" cy="58.5" rx="0.7" ry="0.6"/>
<path fill="#800000" d="M17.6,2.2C17.7,1.7 18.4,0.8 20.0,0.5C21.6,0.1 25.3,-0.2 27.2,0.2C29.1,0.6 30.2,1.9 31.2,3.0C32.3,4.2 33.2,5.9 33.6,7.0C34.1,8.2 34.4,9.1 34.0,9.9C33.6,10.6 32.4,11.0 31.2,11.5C30.1,11.9 28.2,12.8 27.2,12.7C26.2,12.5 25.7,11.6 25.2,10.7C24.7,9.7 24.9,8.0 24.4,7.0C23.9,6.0 23.3,5.2 22.4,4.6C21.5,4.0 20.0,3.8 19.2,3.4C18.4,3.0 17.5,2.7 17.6,2.2Z"/>
<path fill="#800000" d="M45.9,7.0C46.0,6.2 46.8,5.1 47.5,4.6C48.3,4.2 49.5,3.9 50.3,4.2C51.1,4.6 51.3,6.6 52.3,6.6C53.3,6.7 54.9,5.0 56.3,4.6C57.8,4.3 59.6,4.1 60.8,4.6C61.9,5.2 62.7,6.4 63.2,7.8C63.6,9.3 63.6,12.0 63.4,13.5C63.2,14.9 62.9,15.9 62.0,16.7C61.1,17.5 59.4,17.7 58.0,18.3C56.5,18.8 54.4,19.4 53.1,19.9C51.9,20.4 50.9,21.4 50.3,21.1C49.7,20.8 49.5,19.4 49.5,18.3C49.5,17.1 50.4,15.5 50.3,14.3C50.3,13.1 49.7,11.9 49.1,11.1C48.5,10.3 47.2,10.1 46.7,9.5C46.2,8.8 45.8,7.8 45.9,7.0Z"/>
<ellipse fill="#ffff00" cx="9.6" cy="14.3" rx="3.6" ry="2.2" transform="rotate(-25 9.6 14.3)"/>
<ellipse fill="#ffff00" cx="29.5" cy="26.1" rx="1.6" ry="1.0" transform="rotate(-30 29.5 26.1)"/>
<path fill="#ffff00" d="M75.6,8.2C76.1,8.6 76.6,9.6 76.4,11.1C76.2,12.5 75.3,15.5 74.4,17.1C73.5,18.7 72.1,20.2 71.2,20.7C70.3,21.2 69.1,20.7 68.8,19.9C68.5,19.1 68.8,17.3 69.2,15.9C69.6,14.4 70.5,12.3 71.2,11.1C71.9,9.9 72.9,9.1 73.6,8.6C74.3,8.2 75.1,7.8 75.6,8.2Z"/>
<ellipse fill="#ffff00" cx="25.4" cy="74.5" rx="3.4" ry="2.2" transform="rotate(-35 25.4 74.5)"/>
<ellipse fill="#ffffff" cx="21.0" cy="32.7" rx="0.8" ry="0.8"/>
<path fill="#80ffff" d="M104.5,34.7C104.5,34.7 95.7,35.1 93.0,34.7C90.4,34.4 90.0,33.3 88.5,32.7C86.9,32.2 85.1,31.4 83.6,31.3C82.2,31.2 81.2,31.4 80.0,32.1C78.9,32.8 77.8,34.3 76.8,35.5C75.9,36.8 75.3,38.2 74.4,39.6C73.5,40.9 71.9,42.4 71.2,43.6C70.5,44.8 71.1,46.0 70.3,46.8C69.4,47.6 67.8,48.1 66.2,48.4C64.6,48.8 62.5,48.8 60.6,48.8C58.7,48.9 56.7,48.8 55.0,48.8C53.3,48.9 51.7,49.0 50.2,49.2C48.7,49.5 47.4,49.9 46.2,50.4C45.0,51.0 43.9,51.6 43.0,52.5C42.0,53.3 41.3,54.2 40.5,55.3C39.7,56.3 38.9,57.6 38.1,58.9C37.3,60.1 36.5,61.4 35.7,62.9C34.9,64.4 34.0,66.1 33.3,67.7C32.6,69.3 32.2,71.1 31.7,72.5C31.2,74.0 30.6,75.8 30.1,76.5C29.6,77.3 29.8,76.5 28.8,77.1C27.8,77.7 25.6,79.5 24.0,80.3C22.4,81.2 20.9,81.9 19.2,82.3C17.5,82.7 15.3,82.5 13.6,82.7C11.8,82.9 10.2,83.0 8.8,83.5C7.3,84.1 5.7,85.0 4.7,85.9C3.8,86.9 3.3,88.1 3.1,89.2C3.0,90.2 3.5,91.2 3.9,92.4C4.3,93.6 5.3,94.9 5.5,96.4C5.8,97.9 5.5,101.2 5.5,101.2L120.0,110.0L104.5,34.7Z"/>
<path fill="#0080ff" d="M104.5,65.1C104.5,65.1 95.2,64.9 93.0,64.7C90.9,64.4 92.4,64.1 91.7,63.5C90.9,62.8 89.8,61.6 88.5,60.7C87.1,59.7 85.4,58.4 83.6,57.8C81.9,57.2 79.6,57.6 78.0,57.0C76.5,56.5 75.1,55.6 74.4,54.6C73.7,53.7 74.3,52.0 73.6,51.4C72.9,50.8 71.1,51.0 70.0,51.0C68.9,51.1 68.3,51.6 67.0,51.6C65.7,51.7 63.8,51.5 62.2,51.2C60.6,51.0 59.0,50.3 57.4,50.0C55.8,49.8 54.1,49.9 52.6,49.9C51.1,49.9 49.8,49.9 48.6,50.2C47.4,50.5 46.3,51.0 45.4,51.6C44.4,52.3 43.8,53.0 43.0,54.1C42.1,55.1 41.3,56.6 40.5,58.1C39.7,59.5 38.9,61.3 38.1,62.9C37.3,64.5 36.4,66.1 35.7,67.7C35.1,69.3 34.7,70.9 34.1,72.5C33.6,74.1 33.4,76.0 32.5,77.3C31.6,78.6 30.2,79.4 28.8,80.3C27.4,81.2 25.3,81.8 24.0,82.7C22.7,83.7 21.9,84.7 21.2,85.9C20.5,87.2 19.7,88.8 19.6,90.0C19.5,91.2 19.4,92.1 20.4,93.2C21.4,94.2 24.7,95.0 25.6,96.4C26.5,97.7 25.6,101.2 25.6,101.2L120.0,110.0L104.5,65.1Z"/>
<path fill="#0000ff" d="M44.6,53.3C45.4,52.3 47.2,51.6 48.6,51.2C49.9,50.8 51.1,50.8 52.6,50.8C54.1,50.9 55.8,51.2 57.4,51.6C59.0,52.1 60.8,52.6 62.2,53.3C63.6,53.9 65.0,54.7 65.8,55.7C66.6,56.6 67.2,57.9 67.0,58.9C66.8,59.8 65.6,60.5 64.6,61.3C63.7,62.1 62.3,62.8 61.4,63.7C60.5,64.6 59.5,66.0 59.4,66.9C59.3,67.8 60.2,68.5 60.6,69.3C61.0,70.1 62.0,70.9 61.8,71.7C61.7,72.6 60.5,73.7 59.8,74.5C59.1,75.4 57.7,76.1 57.4,76.9C57.1,77.8 57.5,79.0 58.2,79.8C58.9,80.5 60.5,81.4 61.4,81.4C62.3,81.4 63.0,80.8 63.4,79.8C63.8,78.7 63.6,76.3 63.8,74.9C64.1,73.5 64.2,72.2 65.0,71.3C65.8,70.5 67.4,69.9 68.6,69.7C69.9,69.5 71.7,69.8 72.7,70.1C73.7,70.5 74.2,71.1 74.7,71.7C75.1,72.4 74.8,73.2 75.5,74.1C76.1,75.1 77.3,76.3 78.7,77.3C80.0,78.4 82.3,79.3 83.6,80.3C85.0,81.4 85.7,82.6 86.9,83.5C88.1,84.5 89.8,85.4 90.9,85.9C91.9,86.5 90.8,86.6 93.0,86.8C95.3,87.0 104.5,87.2 104.5,87.2L104.5,101.2L67.1,101.5C67.1,101.5 67.8,94.0 67.1,92.3C66.3,90.6 64.5,91.6 62.5,91.1C60.4,90.6 57.9,89.7 54.8,89.2C51.7,88.8 47.4,88.9 44.1,88.5C40.8,88.1 37.4,87.3 34.9,86.9C32.3,86.6 30.0,86.8 28.8,86.4C27.6,85.9 27.1,84.8 27.6,84.3C28.1,83.8 30.4,83.6 31.7,83.4C33.1,83.1 34.9,83.4 35.7,83.0C36.6,82.5 36.6,81.5 36.9,80.6C37.3,79.6 37.6,78.7 37.7,77.3C37.9,76.0 37.5,74.1 37.7,72.5C37.9,70.9 38.3,69.3 38.9,67.7C39.5,66.1 40.6,64.6 41.3,62.9C42.1,61.2 42.8,58.9 43.4,57.3C43.9,55.7 43.7,54.3 44.6,53.3Z"/>
<path fill="#000080" d="M49.0,55.3C49.5,54.6 50.4,54.0 51.4,53.9C52.4,53.8 53.9,54.0 55.0,54.5C56.1,55.0 57.1,55.9 57.8,56.9C58.5,57.8 59.0,59.1 59.0,60.1C59.0,61.1 58.5,62.0 57.8,62.9C57.1,63.8 55.8,64.4 55.0,65.3C54.2,66.2 53.5,67.3 53.0,68.5C52.5,69.7 52.2,71.2 52.2,72.5C52.2,73.9 52.6,75.3 53.0,76.5C53.4,77.7 54.4,78.7 54.6,79.8C54.8,80.8 54.8,82.1 54.2,82.6C53.6,83.0 52.4,82.8 51.0,82.6C49.6,82.4 47.2,81.9 45.8,81.4C44.4,80.8 43.3,80.3 42.6,79.4C41.8,78.4 41.4,76.9 41.3,75.7C41.3,74.6 41.6,73.6 42.1,72.5C42.7,71.5 43.8,70.5 44.6,69.3C45.4,68.2 46.3,67.0 47.0,65.7C47.6,64.4 48.3,62.6 48.6,61.3C48.8,59.9 48.3,58.7 48.4,57.7C48.5,56.7 48.5,55.9 49.0,55.3Z"/>
<ellipse fill="#ffffff" cx="89.0" cy="50.5" rx="3.4" ry="3.6"/>
<ellipse fill="#0080ff" cx="77.9" cy="48.5" rx="0.8" ry="0.6" transform="rotate(-30 77.9 48.5)"/>
<ellipse fill="#ffffff" cx="68.6" cy="64.3" rx="1.0" ry="0.5"/></g>
<ellipse fill="#ffff00" cx="0.2" cy="13.7" rx="1.2" ry="1.2"/>
<ellipse fill="#ffffff" cx="0.2" cy="33.5" rx="1.0" ry="1.2"/>
</g>
<path d="M0,0.3V93.0H93.3" fill="none" stroke="#000" stroke-width="1.25" stroke-dasharray="1.25 1.42"/><path d="M-23.60,0V116.90H93.3" fill="none" stroke="#222" stroke-width="1.65" stroke-linejoin="round"/>
</g>
<g transform="translate(534.0,129.6)">
<g clip-path="url(#cp1)">
<rect x="-60" y="0" width="160" height="160" fill="#fff"/>
<path fill="#ffff00" d="M-38.1,-13.7L25.7,-13.7L25.7,79.3C25.7,79.3 4.2,79.3 -0.4,80.3C-4.9,81.2 -0.5,82.5 -1.6,84.8C-2.8,87.1 -4.8,91.2 -7.1,93.9C-9.4,96.7 -12.6,99.4 -15.3,101.2C-18.1,103.1 -19.7,104.1 -23.5,104.9C-27.3,105.6 -38.1,105.8 -38.1,105.8L-38.1,-13.7Z"/>
<path fill="#ff8000" d="M-38.1,-13.7L25.7,-13.7L25.7,26.4C25.7,26.4 5.7,26.3 -0.4,27.3C-6.4,28.4 -6.9,31.0 -10.8,32.8C-14.6,34.6 -19.0,37.2 -23.5,38.3C-28.1,39.3 -38.1,39.2 -38.1,39.2L-38.1,-13.7Z"/>
<path fill="#ff0000" d="M-38.1,-13.7L-9.8,-13.7C-9.8,-13.7 -9.4,-3.7 -9.8,-0.0C-10.3,3.6 -12.4,5.3 -12.6,8.2C-12.7,11.1 -12.3,14.9 -10.8,17.3C-9.2,19.7 -4.1,21.3 -3.5,22.8C-2.8,24.3 -5.0,25.4 -7.1,26.4C-9.2,27.5 -13.5,28.4 -16.2,29.2C-19.0,29.9 -19.9,30.5 -23.5,31.0C-27.2,31.4 -38.1,31.9 -38.1,31.9L-38.1,-13.7Z"/>
<ellipse fill="#ffffff" cx="-5.3" cy="35.9" rx="4.9" ry="1.6" transform="rotate(-20 -5.3 35.9)"/>
<path fill="#ffffff" d="M-34.5,50.1C-34.5,50.1 -26.3,49.8 -23.5,50.1C-20.8,50.4 -19.6,50.8 -18.1,52.0C-16.5,53.2 -14.6,55.6 -14.4,57.4C-14.2,59.3 -15.4,61.9 -17.0,63.3C-18.5,64.7 -20.6,65.3 -23.5,65.7C-26.4,66.1 -34.5,65.7 -34.5,65.7L-34.5,50.1Z"/>
<path fill="#ff8000" d="M25.7,44.7C25.7,44.7 5.1,44.9 -0.4,45.0C-5.8,45.2 -5.2,44.9 -7.1,45.6C-9.0,46.3 -11.4,48.0 -11.7,49.2C-12.0,50.4 -10.8,52.2 -8.9,52.9C-7.0,53.6 -6.1,53.3 -0.4,53.4C5.4,53.6 25.7,53.8 25.7,53.8L25.7,44.7Z"/>
<ellipse fill="#ff0000" cx="-4.4" cy="49.6" rx="4.9" ry="2.4" transform="rotate(5 -4.4 49.6)"/>
<path fill="#ff8000" d="M-38.1,63.8C-38.1,63.8 -27.2,64.6 -23.5,64.4C-19.9,64.2 -18.7,63.3 -16.2,62.6C-13.8,61.8 -11.4,60.3 -8.9,59.6C-6.5,58.9 -3.6,57.0 -1.6,58.4C0.3,59.7 2.9,64.3 2.9,67.5C2.9,70.7 0.0,74.5 -1.6,77.5C-3.3,80.6 -5.0,83.1 -7.1,85.7C-9.2,88.3 -11.7,91.2 -14.4,93.0C-17.1,94.9 -19.6,96.1 -23.5,96.7C-27.5,97.3 -38.1,96.7 -38.1,96.7L-38.1,63.8Z"/>
<path fill="#ff0000" d="M-38.1,70.2C-38.1,70.2 -27.2,70.5 -23.5,70.2C-19.9,69.9 -18.7,69.3 -16.2,68.4C-13.8,67.5 -11.4,65.7 -8.9,64.7C-6.5,63.8 -3.3,62.5 -1.6,62.9C0.0,63.4 1.4,65.4 1.1,67.5C0.8,69.6 -1.8,73.1 -3.5,75.7C-5.1,78.3 -7.1,80.9 -8.9,83.0C-10.8,85.1 -12.0,87.1 -14.4,88.5C-16.8,89.8 -19.6,90.7 -23.5,91.2C-27.5,91.7 -38.1,91.2 -38.1,91.2L-38.1,70.2Z"/>
<path fill="#800000" d="M-38.1,75.7C-38.1,75.7 -26.9,75.5 -23.5,75.7C-20.2,75.8 -19.5,75.8 -18.1,76.6C-16.6,77.4 -14.9,79.0 -14.9,80.3C-14.9,81.5 -16.6,83.4 -18.1,84.3C-19.5,85.1 -20.2,85.0 -23.5,85.2C-26.9,85.3 -38.1,85.2 -38.1,85.2L-38.1,75.7Z"/>
<path fill="#80ffff" d="M4.8,83.0C4.8,83.0 4.3,94.1 2.9,97.6C1.6,101.1 -0.9,101.8 -3.5,104.0C-6.0,106.1 -9.5,108.3 -12.6,110.4C-15.6,112.4 -19.0,114.4 -21.7,116.2C-24.4,118.0 -29.0,121.3 -29.0,121.3L102.4,126.8L102.4,83.0L4.8,83.0Z"/>
<path fill="#0080ff" d="M16.6,86.6C16.6,86.6 17.7,89.7 16.6,92.5C15.6,95.2 12.2,99.8 10.2,103.1C8.3,106.3 6.4,109.1 4.8,112.2C3.1,115.2 0.2,121.3 0.2,121.3L23.9,121.3C23.9,121.3 25.1,118.6 26.7,116.2C28.2,113.8 30.8,109.5 33.0,106.7C35.3,103.9 37.9,101.4 40.3,99.4C42.8,97.4 46.1,97.0 47.6,94.9C49.2,92.7 49.5,86.6 49.5,86.6L16.6,86.6Z"/>
<path fill="#0080ff" d="M61.3,86.6C61.3,86.6 61.6,91.8 62.2,94.9C62.8,97.9 64.4,101.3 65.0,104.9C65.6,108.4 65.7,112.6 65.9,116.2C66.0,119.9 65.9,126.8 65.9,126.8L102.4,126.8L102.4,86.6L61.3,86.6Z"/>
<path fill="#0000ff" d="M63.2,86.6C63.2,86.6 65.7,96.4 67.7,99.4C69.7,102.5 72.3,103.7 75.0,104.9C77.8,106.1 81.2,106.3 84.1,106.7C87.0,107.2 89.3,107.4 92.4,107.6C95.4,107.8 102.4,108.0 102.4,108.0L102.4,86.6L63.2,86.6Z"/>
<ellipse fill="#ffffff" cx="53.5" cy="101.2" rx="6.8" ry="4.4" transform="rotate(-40 53.5 101.2)"/>
<g clip-path="url(#ci)"><rect width="93" height="93" fill="#fff"/><path fill="#ffff00" d="M120.0,-20.0L104.5,26.7C104.5,26.7 96.0,26.8 93.0,27.1C90.1,27.4 88.8,28.1 86.9,28.3C84.9,28.6 82.8,28.4 81.2,28.7C79.6,29.1 78.4,29.5 77.2,30.3C76.0,31.1 75.1,32.3 74.0,33.5C72.9,34.7 71.9,36.3 70.8,37.6C69.7,38.8 68.8,40.1 67.6,41.2C66.4,42.2 65.1,43.1 63.6,44.0C62.0,44.9 60.2,46.2 58.3,46.7C56.3,47.1 54.0,46.5 51.9,46.7C49.7,46.9 47.2,47.4 45.4,47.9C43.7,48.4 42.6,49.1 41.4,49.9C40.2,50.7 39.3,51.6 38.2,52.7C37.1,53.8 36.1,55.5 35.0,56.7C33.9,57.9 32.7,59.3 31.8,59.9C30.8,60.5 29.8,60.9 29.2,60.3C28.7,59.8 28.4,58.1 28.6,56.7C28.7,55.3 29.4,53.5 30.2,51.9C31.0,50.3 32.3,48.6 33.4,47.1C34.5,45.6 36.2,43.9 36.6,43.1C37.0,42.2 37.1,42.2 35.8,41.9C34.5,41.6 30.8,41.2 28.6,41.3C26.3,41.4 23.7,41.5 22.1,42.3C20.6,43.0 20.3,44.9 19.3,45.9C18.4,46.9 17.2,47.4 16.5,48.3C15.9,49.2 15.5,50.3 15.3,51.5C15.2,52.7 15.4,54.3 15.7,55.5C16.1,56.7 17.4,57.5 17.5,58.7C17.6,60.0 17.2,61.7 16.5,63.1C15.9,64.6 14.8,66.2 13.7,67.6C12.6,68.9 11.1,70.3 10.1,71.2C9.1,72.1 9.1,72.5 8.0,73.1C6.8,73.7 4.5,74.1 3.1,74.7C1.8,75.3 0.9,76.3 -0.1,76.7C-1.1,77.1 -1.8,77.0 -2.9,77.1C-4.0,77.3 -4.3,77.5 -6.5,77.5C-8.7,77.6 -16.1,77.5 -16.1,77.5L-20.0,-20.0L120.0,-20.0Z"/>
<path fill="#ffffff" d="M3.8,50.5C4.4,50.0 5.8,49.7 6.7,49.7C7.7,49.7 8.8,50.1 9.6,50.5C10.4,50.8 11.1,51.4 11.6,51.9C12.0,52.4 12.3,52.9 12.1,53.4C11.9,53.8 11.2,54.4 10.4,54.6C9.5,54.9 8.2,55.0 7.1,55.0C6.1,55.0 5.0,55.0 4.3,54.6C3.7,54.2 3.2,53.3 3.1,52.6C3.0,51.9 3.2,51.0 3.8,50.5Z"/>
<ellipse fill="#80ffff" cx="6.7" cy="52.5" rx="1.7" ry="1.2"/>
<path fill="#ff8000" d="M120.0,-20.0L104.5,19.5C104.5,19.5 95.6,19.6 93.0,19.9C90.5,20.2 90.6,20.5 89.3,21.1C88.0,21.7 86.9,22.8 85.3,23.5C83.6,24.2 81.5,25.0 79.6,25.5C77.8,26.0 75.9,26.7 74.0,26.7C72.1,26.7 69.9,26.2 68.4,25.5C66.9,24.8 66.2,23.3 65.2,22.7C64.2,22.1 63.4,21.8 62.4,21.9C61.3,22.0 59.9,22.5 58.8,23.1C57.6,23.7 56.4,24.7 55.5,25.5C54.7,26.3 54.3,27.1 53.5,27.9C52.7,28.7 51.9,29.4 50.7,30.3C49.6,31.3 47.7,32.5 46.7,33.5C45.7,34.6 45.6,35.9 44.6,36.6C43.6,37.4 42.2,38.0 40.6,38.3C39.0,38.5 36.9,38.3 35.0,38.3C33.1,38.2 30.7,38.3 29.4,37.9C28.0,37.5 27.2,37.0 27.0,35.8C26.7,34.7 27.8,32.2 27.8,31.0C27.7,29.9 27.6,29.3 26.6,29.0C25.5,28.7 23.5,29.1 21.6,29.1C19.7,29.1 16.8,28.9 15.2,29.1C13.6,29.3 12.8,30.4 12.0,30.3C11.1,30.3 10.7,29.5 10.0,28.7C9.2,27.9 8.6,26.1 7.6,25.5C6.5,24.9 4.9,24.9 3.9,25.1C2.9,25.3 2.7,26.4 1.5,26.7C0.4,27.0 -1.5,26.9 -2.9,27.0C-4.2,27.0 -4.3,27.0 -6.5,27.0C-8.7,27.0 -16.1,27.0 -16.1,27.0L-20.0,-20.0L120.0,-20.0Z"/>
<path fill="#ff8000" d="M-16.1,38.0C-16.1,38.0 -8.7,38.0 -6.5,38.0C-4.3,38.0 -4.5,38.2 -2.9,38.0C-1.3,37.8 0.9,37.1 3.1,36.8C5.3,36.4 8.7,35.8 10.4,35.9C12.0,36.1 12.8,36.6 13.2,37.6C13.6,38.5 13.1,40.2 12.8,41.6C12.4,42.9 11.8,44.4 11.2,45.6C10.6,46.8 10.2,48.0 9.2,48.6C8.1,49.3 5.8,48.8 4.7,49.4C3.7,50.0 3.1,51.2 2.7,52.2C2.3,53.2 1.9,54.8 2.3,55.4C2.8,56.0 4.3,55.6 5.5,55.8C6.7,56.0 8.6,56.2 9.6,56.6C10.5,57.1 11.3,57.8 11.3,58.6C11.4,59.5 10.8,60.7 10.0,61.5C9.1,62.3 7.1,62.6 6.3,63.5C5.5,64.3 5.6,65.7 5.1,66.7C4.7,67.6 4.4,68.5 3.5,69.1C2.7,69.7 1.0,70.0 -0.1,70.3C-1.1,70.6 -1.8,70.6 -2.9,70.7C-4.0,70.8 -4.3,70.7 -6.5,70.7C-8.7,70.7 -16.1,70.7 -16.1,70.7L-16.1,38.0Z"/>
<ellipse fill="#ff8000" cx="51.9" cy="41.9" rx="6.0" ry="3.2" transform="rotate(-8 51.9 41.9)"/>
<path fill="#ff0000" d="M11.6,-0.2C11.4,2.8 10.3,3.2 10.4,4.6C10.4,6.0 10.8,7.4 12.0,8.2C13.2,9.1 16.1,9.1 17.6,9.9C19.1,10.7 19.9,12.0 20.8,13.1C21.7,14.1 22.0,15.6 23.2,16.3C24.4,16.9 26.3,17.1 28.0,17.1C29.8,17.1 31.9,16.3 33.6,16.3C35.4,16.3 37.1,16.6 38.5,17.1C39.8,17.5 41.0,18.2 41.7,19.1C42.3,20.0 42.7,21.1 42.5,22.3C42.2,23.5 41.0,25.0 40.1,26.3C39.1,27.7 37.9,28.9 36.9,30.3C35.9,31.7 34.2,33.7 34.0,34.7C33.9,35.7 35.0,36.2 36.1,36.4C37.1,36.5 39.2,36.1 40.5,35.5C41.7,35.0 42.5,34.2 43.7,33.1C44.9,32.1 46.5,30.7 47.8,29.4C49.2,28.2 50.3,26.6 51.9,25.4C53.4,24.2 55.5,23.4 57.1,22.3C58.8,21.2 60.6,20.0 62.0,19.1C63.3,18.2 64.4,18.0 65.2,16.7C66.0,15.3 66.4,13.1 66.8,11.1C67.2,9.1 67.3,6.5 67.6,4.6C67.9,2.8 68.6,2.8 68.8,-0.2C69.0,-3.1 68.8,-13.0 68.8,-13.0L11.6,-13.0C11.6,-13.0 11.8,-3.1 11.6,-0.2Z"/>
<path fill="#ff0000" d="M85.7,-0.6L94.1,8.2L94.1,-0.6L85.7,-0.6Z"/>
<ellipse fill="#ff0000" cx="20.2" cy="23.7" rx="2.2" ry="2.2"/>
<path fill="#ff0000" d="M1.1,57.8C1.5,57.3 2.8,56.8 3.9,56.6C5.1,56.5 7.1,56.7 8.0,57.0C8.8,57.4 9.2,58.1 9.2,58.6C9.2,59.2 8.7,59.9 8.0,60.3C7.2,60.6 5.7,60.7 4.7,60.7C3.7,60.6 2.5,60.3 1.9,59.9C1.3,59.4 0.8,58.4 1.1,57.8Z"/>
<ellipse fill="#800000" cx="5.9" cy="58.5" rx="0.7" ry="0.6"/>
<path fill="#800000" d="M17.6,2.2C17.7,1.7 18.4,0.8 20.0,0.5C21.6,0.1 25.3,-0.2 27.2,0.2C29.1,0.6 30.2,1.9 31.2,3.0C32.3,4.2 33.2,5.9 33.6,7.0C34.1,8.2 34.4,9.1 34.0,9.9C33.6,10.6 32.4,11.0 31.2,11.5C30.1,11.9 28.2,12.8 27.2,12.7C26.2,12.5 25.7,11.6 25.2,10.7C24.7,9.7 24.9,8.0 24.4,7.0C23.9,6.0 23.3,5.2 22.4,4.6C21.5,4.0 20.0,3.8 19.2,3.4C18.4,3.0 17.5,2.7 17.6,2.2Z"/>
<path fill="#800000" d="M46.6,5.3C46.8,4.4 48.2,3.7 48.9,3.7C49.7,3.7 50.5,4.4 51.2,5.3C52.0,6.2 52.7,9.0 53.5,9.1C54.4,9.2 55.5,6.7 56.6,6.0C57.8,5.3 59.3,4.6 60.4,5.0C61.5,5.3 62.7,6.9 63.2,8.3C63.7,9.8 63.8,12.2 63.5,13.7C63.2,15.2 62.4,16.5 61.2,17.5C60.1,18.5 58.1,19.1 56.6,19.8C55.1,20.6 53.2,21.9 52.0,22.1C50.8,22.4 49.7,22.3 49.4,21.4C49.1,20.5 49.7,18.3 50.0,16.8C50.3,15.2 51.6,13.4 51.2,12.2C50.9,10.9 48.9,10.2 48.2,9.1C47.4,7.9 46.5,6.2 46.6,5.3Z"/>
<ellipse fill="#ffff00" cx="9.6" cy="14.3" rx="3.6" ry="2.2" transform="rotate(-25 9.6 14.3)"/>
<ellipse fill="#ffff00" cx="29.5" cy="26.1" rx="1.6" ry="1.0" transform="rotate(-30 29.5 26.1)"/>
<path fill="#ffff00" d="M75.6,8.2C76.1,8.6 76.6,9.6 76.4,11.1C76.2,12.5 75.3,15.5 74.4,17.1C73.5,18.7 72.1,20.2 71.2,20.7C70.3,21.2 69.1,20.7 68.8,19.9C68.5,19.1 68.8,17.3 69.2,15.9C69.6,14.4 70.5,12.3 71.2,11.1C71.9,9.9 72.9,9.1 73.6,8.6C74.3,8.2 75.1,7.8 75.6,8.2Z"/>
<ellipse fill="#ffff00" cx="25.4" cy="74.5" rx="3.4" ry="2.2" transform="rotate(-35 25.4 74.5)"/>
<ellipse fill="#ffffff" cx="21.0" cy="32.7" rx="0.8" ry="0.8"/>
<path fill="#80ffff" d="M104.5,34.7C104.5,34.7 95.7,35.1 93.0,34.7C90.4,34.4 90.0,33.3 88.5,32.7C86.9,32.2 85.1,31.4 83.6,31.3C82.2,31.2 81.2,31.4 80.0,32.1C78.9,32.8 77.8,34.3 76.8,35.5C75.9,36.8 75.3,38.2 74.4,39.6C73.5,40.9 71.9,42.4 71.2,43.6C70.5,44.8 71.1,46.0 70.3,46.8C69.4,47.6 67.8,48.1 66.2,48.4C64.6,48.8 62.5,48.8 60.6,48.8C58.7,48.9 56.7,48.8 55.0,48.8C53.3,48.9 51.7,49.0 50.2,49.2C48.7,49.5 47.4,49.9 46.2,50.4C45.0,51.0 43.9,51.6 43.0,52.5C42.0,53.3 41.3,54.2 40.5,55.3C39.7,56.3 38.9,57.6 38.1,58.9C37.3,60.1 36.5,61.4 35.7,62.9C34.9,64.4 34.0,66.1 33.3,67.7C32.6,69.3 32.2,71.1 31.7,72.5C31.2,74.0 30.6,75.8 30.1,76.5C29.6,77.3 29.8,76.5 28.8,77.1C27.8,77.7 25.6,79.5 24.0,80.3C22.4,81.2 20.9,81.9 19.2,82.3C17.5,82.7 15.3,82.5 13.6,82.7C11.8,82.9 10.2,83.0 8.8,83.5C7.3,84.1 5.7,85.0 4.7,85.9C3.8,86.9 3.3,88.1 3.1,89.2C3.0,90.2 3.5,91.2 3.9,92.4C4.3,93.6 5.3,94.9 5.5,96.4C5.8,97.9 5.5,101.2 5.5,101.2L120.0,110.0L104.5,34.7Z"/>
<path fill="#0080ff" d="M104.5,65.1C104.5,65.1 95.2,64.9 93.0,64.7C90.9,64.4 92.4,64.1 91.7,63.5C90.9,62.8 89.8,61.6 88.5,60.7C87.1,59.7 85.4,58.4 83.6,57.8C81.9,57.2 79.6,57.6 78.0,57.0C76.5,56.5 75.1,55.6 74.4,54.6C73.7,53.7 74.3,52.0 73.6,51.4C72.9,50.8 71.1,51.0 70.0,51.0C68.9,51.1 68.3,51.6 67.0,51.6C65.7,51.7 63.8,51.5 62.2,51.2C60.6,51.0 59.0,50.3 57.4,50.0C55.8,49.8 54.1,49.9 52.6,49.9C51.1,49.9 49.8,49.9 48.6,50.2C47.4,50.5 46.3,51.0 45.4,51.6C44.4,52.3 43.8,53.0 43.0,54.1C42.1,55.1 41.3,56.6 40.5,58.1C39.7,59.5 38.9,61.3 38.1,62.9C37.3,64.5 36.4,66.1 35.7,67.7C35.1,69.3 34.7,70.9 34.1,72.5C33.6,74.1 33.4,76.0 32.5,77.3C31.6,78.6 30.2,79.4 28.8,80.3C27.4,81.2 25.3,81.8 24.0,82.7C22.7,83.7 21.9,84.7 21.2,85.9C20.5,87.2 19.7,88.8 19.6,90.0C19.5,91.2 19.4,92.1 20.4,93.2C21.4,94.2 24.7,95.0 25.6,96.4C26.5,97.7 25.6,101.2 25.6,101.2L120.0,110.0L104.5,65.1Z"/>
<path fill="#0000ff" d="M44.6,53.3C45.4,52.3 47.2,51.6 48.6,51.2C49.9,50.8 51.1,50.8 52.6,50.8C54.1,50.9 55.8,51.2 57.4,51.6C59.0,52.1 60.8,52.6 62.2,53.3C63.6,53.9 65.0,54.7 65.8,55.7C66.6,56.6 67.2,57.9 67.0,58.9C66.8,59.8 65.6,60.5 64.6,61.3C63.7,62.1 62.3,62.8 61.4,63.7C60.5,64.6 59.5,66.0 59.4,66.9C59.3,67.8 60.2,68.5 60.6,69.3C61.0,70.1 62.0,70.9 61.8,71.7C61.7,72.6 60.5,73.7 59.8,74.5C59.1,75.4 57.7,76.1 57.4,76.9C57.1,77.8 57.5,79.0 58.2,79.8C58.9,80.5 60.5,81.4 61.4,81.4C62.3,81.4 63.0,80.8 63.4,79.8C63.8,78.7 63.6,76.3 63.8,74.9C64.1,73.5 64.2,72.2 65.0,71.3C65.8,70.5 67.4,69.9 68.6,69.7C69.9,69.5 71.7,69.8 72.7,70.1C73.7,70.5 74.2,71.1 74.7,71.7C75.1,72.4 74.8,73.2 75.5,74.1C76.1,75.1 77.3,76.3 78.7,77.3C80.0,78.4 82.3,79.3 83.6,80.3C85.0,81.4 85.7,82.6 86.9,83.5C88.1,84.5 89.8,85.4 90.9,85.9C91.9,86.5 90.8,86.6 93.0,86.8C95.3,87.0 104.5,87.2 104.5,87.2L104.5,101.2L67.1,101.5C67.1,101.5 67.8,94.0 67.1,92.3C66.3,90.6 64.5,91.6 62.5,91.1C60.4,90.6 57.9,89.7 54.8,89.2C51.7,88.8 47.4,88.9 44.1,88.5C40.8,88.1 37.4,87.3 34.9,86.9C32.3,86.6 30.0,86.8 28.8,86.4C27.6,85.9 27.1,84.8 27.6,84.3C28.1,83.8 30.4,83.6 31.7,83.4C33.1,83.1 34.9,83.4 35.7,83.0C36.6,82.5 36.6,81.5 36.9,80.6C37.3,79.6 37.6,78.7 37.7,77.3C37.9,76.0 37.5,74.1 37.7,72.5C37.9,70.9 38.3,69.3 38.9,67.7C39.5,66.1 40.6,64.6 41.3,62.9C42.1,61.2 42.8,58.9 43.4,57.3C43.9,55.7 43.7,54.3 44.6,53.3Z"/>
<path fill="#000080" d="M49.0,54.3C49.9,53.4 52.6,53.3 54.3,53.6C55.9,53.8 58.0,54.8 58.9,55.8C59.9,56.8 60.4,58.5 60.0,59.7C59.6,60.8 57.9,62.3 56.6,62.7C55.3,63.1 53.3,62.6 52.0,62.0C50.8,61.4 49.5,60.2 49.0,58.9C48.5,57.6 48.1,55.2 49.0,54.3Z"/>
<path fill="#000080" d="M46.6,66.6C47.9,66.0 49.5,65.5 50.5,66.3C51.5,67.0 52.0,69.3 52.5,71.2C53.0,73.0 53.6,75.5 53.6,77.3C53.5,79.1 53.2,81.2 52.0,81.9C50.9,82.7 48.3,82.4 46.6,81.9C45.0,81.4 43.0,80.1 42.1,78.8C41.2,77.5 41.1,75.7 41.3,74.2C41.4,72.7 41.9,70.9 42.8,69.6C43.7,68.4 45.4,67.1 46.6,66.6Z"/>
<path fill="#ff0000" d="M24.4,13.7C23.1,13.8 22.5,17.1 21.4,18.3C20.2,19.4 18.2,19.7 17.5,20.6C16.8,21.5 16.8,22.9 17.2,23.7C17.6,24.4 18.9,25.2 19.8,25.2C20.8,25.2 21.9,24.5 22.9,23.7C23.9,22.8 24.9,21.3 26.0,20.3C27.0,19.3 29.3,18.6 29.0,17.5C28.8,16.4 25.7,13.6 24.4,13.7Z"/>
<path fill="#ff8000" d="M27.5,24.4C27.8,23.9 28.9,23.4 29.5,23.7C30.1,23.9 31.0,25.2 31.0,26.0C31.1,26.7 30.4,27.8 29.8,27.9C29.2,28.1 28.0,27.6 27.6,27.0C27.3,26.4 27.2,25.0 27.5,24.4Z"/>
<ellipse fill="#ff0000" cx="2.5" cy="43.5" rx="3.8" ry="2.3"/>
<path fill="#ff0000" d="M-6.5,57.0C-5.2,56.6 -0.6,57.9 1.1,57.8C2.9,57.8 2.8,56.8 3.9,56.6C5.1,56.5 7.1,56.7 8.0,57.0C8.8,57.4 9.2,58.1 9.2,58.6C9.2,59.2 8.7,59.9 8.0,60.3C7.2,60.6 5.7,60.7 4.7,60.7C3.7,60.6 3.8,59.9 1.9,59.9C0.1,59.8 -5.1,60.7 -6.5,60.3C-7.9,59.8 -7.8,57.4 -6.5,57.0Z"/>
<ellipse fill="#800000" cx="5.9" cy="58.5" rx="0.7" ry="0.6"/>
<ellipse fill="#ffffff" cx="89.0" cy="50.5" rx="3.4" ry="3.6"/>
<ellipse fill="#0080ff" cx="77.9" cy="48.5" rx="0.8" ry="0.6" transform="rotate(-30 77.9 48.5)"/>
<ellipse fill="#ffffff" cx="68.6" cy="64.3" rx="1.0" ry="0.5"/></g>
<ellipse fill="#ffff00" cx="0.3" cy="13.7" rx="2.0" ry="1.8"/>
<ellipse fill="#ffffff" cx="0.5" cy="33.2" rx="1.7" ry="2.0"/>
</g>
<path d="M0,0.3V93.0H93.3" fill="none" stroke="#000" stroke-width="1.25" stroke-dasharray="1.25 1.42"/><path d="M-23.60,0V116.90H93.3" fill="none" stroke="#222" stroke-width="1.65" stroke-linejoin="round"/>
</g>
<g transform="translate(61.5,255.8)">
<g clip-path="url(#cp2)">
<rect x="-60" y="0" width="160" height="160" fill="#fff"/>
<path fill="#ffff00" d="M-73.9,-23.2L37.8,-23.2L37.8,76.1C37.8,76.1 6.9,76.5 0.0,77.3C-6.8,78.1 -1.2,79.4 -3.2,81.0C-5.2,82.7 -8.3,85.4 -11.9,87.2C-15.4,89.1 -20.1,90.7 -24.3,92.2C-28.4,93.6 -32.5,94.5 -36.7,95.9C-40.8,97.4 -45.5,99.2 -49.1,100.9C-52.6,102.5 -53.9,104.6 -58.0,105.8C-62.2,107.1 -73.9,108.3 -73.9,108.3L-73.9,-23.2Z"/>
<path fill="#ff8000" d="M-54.1,-23.2C-54.1,-23.2 -54.3,-5.9 -54.1,-0.1C-53.8,5.7 -54.1,7.5 -52.8,11.5C-51.6,15.5 -49.3,20.2 -46.6,23.9C-43.9,27.7 -40.4,31.5 -36.7,33.9C-33.0,36.2 -28.4,37.5 -24.3,38.1C-20.1,38.7 -15.4,38.3 -11.9,37.6C-8.3,36.9 -5.2,34.9 -3.2,33.9C-1.2,32.8 -6.8,31.8 0.0,31.4C6.9,31.0 37.8,31.4 37.8,31.4L37.8,-23.2L-54.1,-23.2Z"/>
<path fill="#ff8000" d="M37.8,38.8C37.8,38.8 7.7,38.2 0.0,38.8C-7.6,39.5 -5.5,40.9 -8.1,42.6C-10.7,44.2 -13.3,46.3 -15.6,48.8C-17.9,51.2 -21.0,54.6 -21.8,57.4C-22.6,60.3 -21.8,63.4 -20.6,66.1C-19.3,68.8 -16.8,71.7 -14.3,73.6C-11.9,75.4 -8.1,77.1 -5.7,77.3C-3.3,77.5 -7.2,75.2 0.0,74.8C7.3,74.4 37.8,74.8 37.8,74.8L37.8,38.8Z"/>
<path fill="#ffff00" d="M13.0,26.4C13.0,26.4 2.7,25.8 0.0,26.4C-2.6,27.0 -2.8,28.7 -3.2,30.1C-3.5,31.6 -2.5,34.1 -1.9,35.1C-1.4,36.1 -2.4,36.1 0.0,36.4C2.5,36.6 13.0,36.4 13.0,36.4L13.0,26.4Z"/>
<ellipse fill="#ff0000" cx="-5.7" cy="23.2" rx="4.2" ry="2.0" transform="rotate(5 -5.7 23.2)"/>
<path fill="#ffff00" d="M-66.5,134.4C-66.5,134.4 -59.8,134.2 -58.0,135.6C-56.3,137.1 -57.0,141.0 -56.0,143.1C-55.0,145.1 -53.7,146.6 -52.1,148.0C-50.4,149.5 -47.1,149.3 -46.1,151.8C-45.1,154.2 -46.1,162.9 -46.1,162.9L-66.5,162.9L-66.5,134.4Z"/>
<path fill="#80ffff" d="M13.0,81.0C13.0,81.0 4.3,89.9 0.5,93.4C-3.2,96.9 -6.9,99.0 -9.4,102.1C-11.9,105.2 -13.7,108.5 -14.3,112.0C-15.0,115.6 -14.8,119.7 -13.1,123.2C-11.5,126.7 -8.3,130.7 -4.4,133.1C-0.5,135.6 4.7,137.1 10.5,138.1C16.3,139.1 23.7,139.6 30.3,139.3C36.9,139.1 43.6,138.1 50.2,136.9C56.8,135.6 64.2,133.6 70.0,131.9C75.8,130.2 81.1,128.4 84.9,126.9C88.8,125.5 88.6,124.7 93.1,123.2C97.7,121.8 112.2,118.3 112.2,118.3L112.2,81.0L13.0,81.0Z"/>
<path fill="#0080ff" d="M16.7,88.5C16.7,88.5 13.4,97.6 13.0,100.9C12.5,104.2 12.5,106.3 14.2,108.3C15.8,110.4 19.4,112.7 22.9,113.3C26.4,113.9 32.2,113.3 35.3,112.0C38.4,110.8 40.3,108.1 41.5,105.8C42.7,103.6 41.7,101.3 42.7,98.4C43.8,95.5 47.7,88.5 47.7,88.5L16.7,88.5Z"/>
<path fill="#0080ff" d="M60.1,88.5C60.1,88.5 60.3,97.8 61.3,100.9C62.4,104.0 63.6,105.6 66.3,107.1C69.0,108.5 74.0,109.6 77.5,109.6C81.0,109.6 84.8,108.1 87.4,107.1C90.0,106.0 89.0,104.4 93.1,103.4C97.2,102.3 112.2,100.9 112.2,100.9L112.2,88.5L60.1,88.5Z"/>
<path fill="#0000ff" d="M66.3,88.5C66.3,88.5 69.8,93.5 72.5,94.7C75.2,95.8 79.0,95.6 82.4,95.4C85.9,95.2 88.1,94.0 93.1,93.4C98.1,92.9 112.2,92.2 112.2,92.2L112.2,88.5L66.3,88.5Z"/>
<g clip-path="url(#ci)"><rect width="93" height="93" fill="#fff"/><path fill="#ffff00" d="M120.0,-20.0L104.5,26.7C104.5,26.7 96.0,26.8 93.0,27.1C90.1,27.4 88.8,28.1 86.9,28.3C84.9,28.6 82.8,28.4 81.2,28.7C79.6,29.1 78.4,29.5 77.2,30.3C76.0,31.1 75.1,32.3 74.0,33.5C72.9,34.7 71.9,36.3 70.8,37.6C69.7,38.8 68.8,40.1 67.6,41.2C66.4,42.2 65.1,43.1 63.6,44.0C62.0,44.9 60.2,46.2 58.3,46.7C56.3,47.1 54.0,46.5 51.9,46.7C49.7,46.9 47.2,47.4 45.4,47.9C43.7,48.4 42.6,49.1 41.4,49.9C40.2,50.7 39.3,51.6 38.2,52.7C37.1,53.8 36.1,55.5 35.0,56.7C33.9,57.9 32.7,59.3 31.8,59.9C30.8,60.5 29.8,60.9 29.2,60.3C28.7,59.8 28.4,58.1 28.6,56.7C28.7,55.3 29.4,53.5 30.2,51.9C31.0,50.3 32.3,48.6 33.4,47.1C34.5,45.6 36.2,43.9 36.6,43.1C37.0,42.2 37.1,42.2 35.8,41.9C34.5,41.6 30.8,41.2 28.6,41.3C26.3,41.4 23.7,41.5 22.1,42.3C20.6,43.0 20.3,44.9 19.3,45.9C18.4,46.9 17.2,47.4 16.5,48.3C15.9,49.2 15.5,50.3 15.3,51.5C15.2,52.7 15.4,54.3 15.7,55.5C16.1,56.7 17.4,57.5 17.5,58.7C17.6,60.0 17.2,61.7 16.5,63.1C15.9,64.6 14.8,66.2 13.7,67.6C12.6,68.9 11.1,70.3 10.1,71.2C9.1,72.1 9.1,72.5 8.0,73.1C6.8,73.7 4.5,74.1 3.1,74.7C1.8,75.3 0.9,76.3 -0.1,76.7C-1.1,77.1 -1.8,77.0 -2.9,77.1C-4.0,77.3 -4.3,77.5 -6.5,77.5C-8.7,77.6 -16.1,77.5 -16.1,77.5L-20.0,-20.0L120.0,-20.0Z"/>
<path fill="#ffffff" d="M3.8,50.5C4.4,50.0 5.8,49.7 6.7,49.7C7.7,49.7 8.8,50.1 9.6,50.5C10.4,50.8 11.1,51.4 11.6,51.9C12.0,52.4 12.3,52.9 12.1,53.4C11.9,53.8 11.2,54.4 10.4,54.6C9.5,54.9 8.2,55.0 7.1,55.0C6.1,55.0 5.0,55.0 4.3,54.6C3.7,54.2 3.2,53.3 3.1,52.6C3.0,51.9 3.2,51.0 3.8,50.5Z"/>
<ellipse fill="#80ffff" cx="6.7" cy="52.5" rx="1.7" ry="1.2"/>
<path fill="#ff8000" d="M120.0,-20.0L104.5,19.5C104.5,19.5 95.6,19.6 93.0,19.9C90.5,20.2 90.6,20.5 89.3,21.1C88.0,21.7 86.9,22.8 85.3,23.5C83.6,24.2 81.5,25.0 79.6,25.5C77.8,26.0 75.9,26.7 74.0,26.7C72.1,26.7 69.9,26.2 68.4,25.5C66.9,24.8 66.2,23.3 65.2,22.7C64.2,22.1 63.4,21.8 62.4,21.9C61.3,22.0 59.9,22.5 58.8,23.1C57.6,23.7 56.4,24.7 55.5,25.5C54.7,26.3 54.3,27.1 53.5,27.9C52.7,28.7 51.9,29.4 50.7,30.3C49.6,31.3 47.7,32.5 46.7,33.5C45.7,34.6 45.6,35.9 44.6,36.6C43.6,37.4 42.2,38.0 40.6,38.3C39.0,38.5 36.9,38.3 35.0,38.3C33.1,38.2 30.7,38.3 29.4,37.9C28.0,37.5 27.2,37.0 27.0,35.8C26.7,34.7 27.8,32.2 27.8,31.0C27.7,29.9 27.6,29.3 26.6,29.0C25.5,28.7 23.5,29.1 21.6,29.1C19.7,29.1 16.8,28.9 15.2,29.1C13.6,29.3 12.8,30.4 12.0,30.3C11.1,30.3 10.7,29.5 10.0,28.7C9.2,27.9 8.6,26.1 7.6,25.5C6.5,24.9 4.9,24.9 3.9,25.1C2.9,25.3 2.7,26.4 1.5,26.7C0.4,27.0 -1.5,26.9 -2.9,27.0C-4.2,27.0 -4.3,27.0 -6.5,27.0C-8.7,27.0 -16.1,27.0 -16.1,27.0L-20.0,-20.0L120.0,-20.0Z"/>
<path fill="#ff8000" d="M-16.1,38.0C-16.1,38.0 -8.7,38.0 -6.5,38.0C-4.3,38.0 -4.5,38.2 -2.9,38.0C-1.3,37.8 0.9,37.1 3.1,36.8C5.3,36.4 8.7,35.8 10.4,35.9C12.0,36.1 12.8,36.6 13.2,37.6C13.6,38.5 13.1,40.2 12.8,41.6C12.4,42.9 11.8,44.4 11.2,45.6C10.6,46.8 10.2,48.0 9.2,48.6C8.1,49.3 5.8,48.8 4.7,49.4C3.7,50.0 3.1,51.2 2.7,52.2C2.3,53.2 1.9,54.8 2.3,55.4C2.8,56.0 4.3,55.6 5.5,55.8C6.7,56.0 8.6,56.2 9.6,56.6C10.5,57.1 11.3,57.8 11.3,58.6C11.4,59.5 10.8,60.7 10.0,61.5C9.1,62.3 7.1,62.6 6.3,63.5C5.5,64.3 5.6,65.7 5.1,66.7C4.7,67.6 4.4,68.5 3.5,69.1C2.7,69.7 1.0,70.0 -0.1,70.3C-1.1,70.6 -1.8,70.6 -2.9,70.7C-4.0,70.8 -4.3,70.7 -6.5,70.7C-8.7,70.7 -16.1,70.7 -16.1,70.7L-16.1,38.0Z"/>
<ellipse fill="#ff8000" cx="51.9" cy="41.9" rx="6.0" ry="3.2" transform="rotate(-8 51.9 41.9)"/>
<path fill="#ff0000" d="M11.6,-0.2C11.4,2.8 10.3,3.2 10.4,4.6C10.4,6.0 10.8,7.4 12.0,8.2C13.2,9.1 16.1,9.1 17.6,9.9C19.1,10.7 19.9,12.0 20.8,13.1C21.7,14.1 22.0,15.6 23.2,16.3C24.4,16.9 26.3,17.1 28.0,17.1C29.8,17.1 31.9,16.3 33.6,16.3C35.4,16.3 37.1,16.6 38.5,17.1C39.8,17.5 41.0,18.2 41.7,19.1C42.3,20.0 42.7,21.1 42.5,22.3C42.2,23.5 41.0,25.0 40.1,26.3C39.1,27.7 37.9,28.9 36.9,30.3C35.9,31.7 34.2,33.7 34.0,34.7C33.9,35.7 35.0,36.2 36.1,36.4C37.1,36.5 39.2,36.1 40.5,35.5C41.7,35.0 42.5,34.2 43.7,33.1C44.9,32.1 46.5,30.7 47.8,29.4C49.2,28.2 50.3,26.6 51.9,25.4C53.4,24.2 55.5,23.4 57.1,22.3C58.8,21.2 60.6,20.0 62.0,19.1C63.3,18.2 64.4,18.0 65.2,16.7C66.0,15.3 66.4,13.1 66.8,11.1C67.2,9.1 67.3,6.5 67.6,4.6C67.9,2.8 68.6,2.8 68.8,-0.2C69.0,-3.1 68.8,-13.0 68.8,-13.0L11.6,-13.0C11.6,-13.0 11.8,-3.1 11.6,-0.2Z"/>
<path fill="#ff0000" d="M85.7,-0.6L94.1,8.2L94.1,-0.6L85.7,-0.6Z"/>
<ellipse fill="#ff0000" cx="20.2" cy="23.7" rx="2.2" ry="2.2"/>
<path fill="#ff0000" d="M1.1,57.8C1.5,57.3 2.8,56.8 3.9,56.6C5.1,56.5 7.1,56.7 8.0,57.0C8.8,57.4 9.2,58.1 9.2,58.6C9.2,59.2 8.7,59.9 8.0,60.3C7.2,60.6 5.7,60.7 4.7,60.7C3.7,60.6 2.5,60.3 1.9,59.9C1.3,59.4 0.8,58.4 1.1,57.8Z"/>
<ellipse fill="#800000" cx="5.9" cy="58.5" rx="0.7" ry="0.6"/>
<path fill="#800000" d="M17.6,2.2C17.7,1.7 18.4,0.8 20.0,0.5C21.6,0.1 25.3,-0.2 27.2,0.2C29.1,0.6 30.2,1.9 31.2,3.0C32.3,4.2 33.2,5.9 33.6,7.0C34.1,8.2 34.4,9.1 34.0,9.9C33.6,10.6 32.4,11.0 31.2,11.5C30.1,11.9 28.2,12.8 27.2,12.7C26.2,12.5 25.7,11.6 25.2,10.7C24.7,9.7 24.9,8.0 24.4,7.0C23.9,6.0 23.3,5.2 22.4,4.6C21.5,4.0 20.0,3.8 19.2,3.4C18.4,3.0 17.5,2.7 17.6,2.2Z"/>
<path fill="#800000" d="M45.9,7.0C46.0,6.2 46.8,5.1 47.5,4.6C48.3,4.2 49.5,3.9 50.3,4.2C51.1,4.6 51.3,6.6 52.3,6.6C53.3,6.7 54.9,5.0 56.3,4.6C57.8,4.3 59.6,4.1 60.8,4.6C61.9,5.2 62.7,6.4 63.2,7.8C63.6,9.3 63.6,12.0 63.4,13.5C63.2,14.9 62.9,15.9 62.0,16.7C61.1,17.5 59.4,17.7 58.0,18.3C56.5,18.8 54.4,19.4 53.1,19.9C51.9,20.4 50.9,21.4 50.3,21.1C49.7,20.8 49.5,19.4 49.5,18.3C49.5,17.1 50.4,15.5 50.3,14.3C50.3,13.1 49.7,11.9 49.1,11.1C48.5,10.3 47.2,10.1 46.7,9.5C46.2,8.8 45.8,7.8 45.9,7.0Z"/>
<ellipse fill="#ffff00" cx="9.6" cy="14.3" rx="3.6" ry="2.2" transform="rotate(-25 9.6 14.3)"/>
<ellipse fill="#ffff00" cx="29.5" cy="26.1" rx="1.6" ry="1.0" transform="rotate(-30 29.5 26.1)"/>
<path fill="#ffff00" d="M75.6,8.2C76.1,8.6 76.6,9.6 76.4,11.1C76.2,12.5 75.3,15.5 74.4,17.1C73.5,18.7 72.1,20.2 71.2,20.7C70.3,21.2 69.1,20.7 68.8,19.9C68.5,19.1 68.8,17.3 69.2,15.9C69.6,14.4 70.5,12.3 71.2,11.1C71.9,9.9 72.9,9.1 73.6,8.6C74.3,8.2 75.1,7.8 75.6,8.2Z"/>
<ellipse fill="#ffff00" cx="25.4" cy="74.5" rx="3.4" ry="2.2" transform="rotate(-35 25.4 74.5)"/>
<ellipse fill="#ffffff" cx="21.0" cy="32.7" rx="0.8" ry="0.8"/>
<path fill="#80ffff" d="M104.5,34.7C104.5,34.7 95.7,35.1 93.0,34.7C90.4,34.4 90.0,33.3 88.5,32.7C86.9,32.2 85.1,31.4 83.6,31.3C82.2,31.2 81.2,31.4 80.0,32.1C78.9,32.8 77.8,34.3 76.8,35.5C75.9,36.8 75.3,38.2 74.4,39.6C73.5,40.9 71.9,42.4 71.2,43.6C70.5,44.8 71.1,46.0 70.3,46.8C69.4,47.6 67.8,48.1 66.2,48.4C64.6,48.8 62.5,48.8 60.6,48.8C58.7,48.9 56.7,48.8 55.0,48.8C53.3,48.9 51.7,49.0 50.2,49.2C48.7,49.5 47.4,49.9 46.2,50.4C45.0,51.0 43.9,51.6 43.0,52.5C42.0,53.3 41.3,54.2 40.5,55.3C39.7,56.3 38.9,57.6 38.1,58.9C37.3,60.1 36.5,61.4 35.7,62.9C34.9,64.4 34.0,66.1 33.3,67.7C32.6,69.3 32.2,71.1 31.7,72.5C31.2,74.0 30.6,75.8 30.1,76.5C29.6,77.3 29.8,76.5 28.8,77.1C27.8,77.7 25.6,79.5 24.0,80.3C22.4,81.2 20.9,81.9 19.2,82.3C17.5,82.7 15.3,82.5 13.6,82.7C11.8,82.9 10.2,83.0 8.8,83.5C7.3,84.1 5.7,85.0 4.7,85.9C3.8,86.9 3.3,88.1 3.1,89.2C3.0,90.2 3.5,91.2 3.9,92.4C4.3,93.6 5.3,94.9 5.5,96.4C5.8,97.9 5.5,101.2 5.5,101.2L120.0,110.0L104.5,34.7Z"/>
<path fill="#0080ff" d="M104.5,65.1C104.5,65.1 95.2,64.9 93.0,64.7C90.9,64.4 92.4,64.1 91.7,63.5C90.9,62.8 89.8,61.6 88.5,60.7C87.1,59.7 85.4,58.4 83.6,57.8C81.9,57.2 79.6,57.6 78.0,57.0C76.5,56.5 75.1,55.6 74.4,54.6C73.7,53.7 74.3,52.0 73.6,51.4C72.9,50.8 71.1,51.0 70.0,51.0C68.9,51.1 68.3,51.6 67.0,51.6C65.7,51.7 63.8,51.5 62.2,51.2C60.6,51.0 59.0,50.3 57.4,50.0C55.8,49.8 54.1,49.9 52.6,49.9C51.1,49.9 49.8,49.9 48.6,50.2C47.4,50.5 46.3,51.0 45.4,51.6C44.4,52.3 43.8,53.0 43.0,54.1C42.1,55.1 41.3,56.6 40.5,58.1C39.7,59.5 38.9,61.3 38.1,62.9C37.3,64.5 36.4,66.1 35.7,67.7C35.1,69.3 34.7,70.9 34.1,72.5C33.6,74.1 33.4,76.0 32.5,77.3C31.6,78.6 30.2,79.4 28.8,80.3C27.4,81.2 25.3,81.8 24.0,82.7C22.7,83.7 21.9,84.7 21.2,85.9C20.5,87.2 19.7,88.8 19.6,90.0C19.5,91.2 19.4,92.1 20.4,93.2C21.4,94.2 24.7,95.0 25.6,96.4C26.5,97.7 25.6,101.2 25.6,101.2L120.0,110.0L104.5,65.1Z"/>
<path fill="#0000ff" d="M44.6,53.3C45.4,52.3 47.2,51.6 48.6,51.2C49.9,50.8 51.1,50.8 52.6,50.8C54.1,50.9 55.8,51.2 57.4,51.6C59.0,52.1 60.8,52.6 62.2,53.3C63.6,53.9 65.0,54.7 65.8,55.7C66.6,56.6 67.2,57.9 67.0,58.9C66.8,59.8 65.6,60.5 64.6,61.3C63.7,62.1 62.3,62.8 61.4,63.7C60.5,64.6 59.5,66.0 59.4,66.9C59.3,67.8 60.2,68.5 60.6,69.3C61.0,70.1 62.0,70.9 61.8,71.7C61.7,72.6 60.5,73.7 59.8,74.5C59.1,75.4 57.7,76.1 57.4,76.9C57.1,77.8 57.5,79.0 58.2,79.8C58.9,80.5 60.5,81.4 61.4,81.4C62.3,81.4 63.0,80.8 63.4,79.8C63.8,78.7 63.6,76.3 63.8,74.9C64.1,73.5 64.2,72.2 65.0,71.3C65.8,70.5 67.4,69.9 68.6,69.7C69.9,69.5 71.7,69.8 72.7,70.1C73.7,70.5 74.2,71.1 74.7,71.7C75.1,72.4 74.8,73.2 75.5,74.1C76.1,75.1 77.3,76.3 78.7,77.3C80.0,78.4 82.3,79.3 83.6,80.3C85.0,81.4 85.7,82.6 86.9,83.5C88.1,84.5 89.8,85.4 90.9,85.9C91.9,86.5 90.8,86.6 93.0,86.8C95.3,87.0 104.5,87.2 104.5,87.2L104.5,101.2L67.1,101.5C67.1,101.5 67.8,94.0 67.1,92.3C66.3,90.6 64.5,91.6 62.5,91.1C60.4,90.6 57.9,89.7 54.8,89.2C51.7,88.8 47.4,88.9 44.1,88.5C40.8,88.1 37.4,87.3 34.9,86.9C32.3,86.6 30.0,86.8 28.8,86.4C27.6,85.9 27.1,84.8 27.6,84.3C28.1,83.8 30.4,83.6 31.7,83.4C33.1,83.1 34.9,83.4 35.7,83.0C36.6,82.5 36.6,81.5 36.9,80.6C37.3,79.6 37.6,78.7 37.7,77.3C37.9,76.0 37.5,74.1 37.7,72.5C37.9,70.9 38.3,69.3 38.9,67.7C39.5,66.1 40.6,64.6 41.3,62.9C42.1,61.2 42.8,58.9 43.4,57.3C43.9,55.7 43.7,54.3 44.6,53.3Z"/>
<path fill="#000080" d="M49.0,55.3C49.5,54.6 50.4,54.0 51.4,53.9C52.4,53.8 53.9,54.0 55.0,54.5C56.1,55.0 57.1,55.9 57.8,56.9C58.5,57.8 59.0,59.1 59.0,60.1C59.0,61.1 58.5,62.0 57.8,62.9C57.1,63.8 55.8,64.4 55.0,65.3C54.2,66.2 53.5,67.3 53.0,68.5C52.5,69.7 52.2,71.2 52.2,72.5C52.2,73.9 52.6,75.3 53.0,76.5C53.4,77.7 54.4,78.7 54.6,79.8C54.8,80.8 54.8,82.1 54.2,82.6C53.6,83.0 52.4,82.8 51.0,82.6C49.6,82.4 47.2,81.9 45.8,81.4C44.4,80.8 43.3,80.3 42.6,79.4C41.8,78.4 41.4,76.9 41.3,75.7C41.3,74.6 41.6,73.6 42.1,72.5C42.7,71.5 43.8,70.5 44.6,69.3C45.4,68.2 46.3,67.0 47.0,65.7C47.6,64.4 48.3,62.6 48.6,61.3C48.8,59.9 48.3,58.7 48.4,57.7C48.5,56.7 48.5,55.9 49.0,55.3Z"/>
<ellipse fill="#ffffff" cx="89.0" cy="50.5" rx="3.4" ry="3.6"/>
<ellipse fill="#0080ff" cx="77.9" cy="48.5" rx="0.8" ry="0.6" transform="rotate(-30 77.9 48.5)"/>
<ellipse fill="#ffffff" cx="68.6" cy="64.3" rx="1.0" ry="0.5"/></g>
<ellipse fill="#ffff00" cx="0.2" cy="13.7" rx="1.2" ry="1.2"/>
<ellipse fill="#ffffff" cx="0.2" cy="33.5" rx="1.0" ry="1.2"/>
</g>
<path d="M0,0.3V93.0H93.3" fill="none" stroke="#000" stroke-width="1.25" stroke-dasharray="1.25 1.42"/><path d="M-58.00,0V151.30H93.3" fill="none" stroke="#222" stroke-width="1.65" stroke-linejoin="round"/>
</g>
<g transform="translate(219.0,255.8)">
<g clip-path="url(#cp2)">
<rect x="-60" y="0" width="160" height="160" fill="#fff"/>
<path fill="#ffff00" d="M-81.4,-23.2L30.3,-23.2L9.1,73.0C9.1,73.0 1.1,73.0 -0.9,74.2C-2.8,75.4 -1.7,77.7 -2.6,80.0C-3.5,82.4 -4.7,85.3 -6.1,88.2C-7.5,91.1 -8.8,94.6 -10.8,97.6C-12.7,100.5 -15.1,103.2 -17.8,105.7C-20.5,108.3 -24.0,110.8 -27.1,112.7C-30.2,114.7 -33.4,115.7 -36.5,117.4C-39.6,119.2 -43.1,121.1 -45.8,123.3C-48.5,125.4 -50.9,128.2 -52.8,130.3C-54.8,132.3 -55.2,134.0 -57.5,135.5C-59.8,137.1 -66.8,139.6 -66.8,139.6L-81.4,-23.2Z"/>
<path fill="#ffffff" d="M-66.8,40.6C-66.8,40.6 -60.0,40.1 -57.5,40.6C-55.0,41.1 -53.5,42.3 -51.7,43.5C-49.8,44.7 -47.8,46.4 -46.4,47.6C-45.0,48.8 -43.2,49.6 -43.2,50.5C-43.3,51.4 -45.4,52.1 -47.0,52.8C-48.6,53.6 -51.1,54.5 -52.8,55.2C-54.6,55.9 -55.2,56.6 -57.5,56.9C-59.8,57.3 -66.8,57.2 -66.8,57.2L-66.8,40.6Z"/>
<ellipse fill="#ffffff" cx="-25.7" cy="56.9" rx="9.3" ry="3.5" transform="rotate(12 -25.7 56.9)"/>
<path fill="#ff8000" d="M-66.8,-9.6L9.1,-9.6L9.1,26.0C9.1,26.0 1.7,26.3 -0.3,26.6C-2.2,26.9 -1.2,27.0 -2.6,27.7C-4.0,28.5 -6.9,29.7 -8.4,31.2C-10.0,32.8 -11.0,35.1 -11.9,37.1C-12.9,39.0 -12.9,41.4 -14.3,42.9C-15.6,44.5 -17.8,46.2 -20.1,46.4C-22.5,46.6 -25.4,45.3 -28.3,44.1C-31.2,42.9 -34.5,41.2 -37.6,39.4C-40.8,37.7 -43.7,35.8 -47.0,33.6C-50.3,31.3 -54.2,28.0 -57.5,26.0C-60.8,23.9 -66.8,21.3 -66.8,21.3L-66.8,-9.6Z"/>
<path fill="#ff8000" d="M-14.3,42.9C-13.7,41.2 -12.1,41.1 -10.8,40.6C-9.4,40.1 -7.9,40.0 -6.1,40.0C-4.4,40.0 -2.8,40.4 -0.3,40.6C2.3,40.8 9.1,41.2 9.1,41.2L9.1,57.5C9.1,57.5 2.5,56.6 -0.3,56.9C-3.0,57.2 -5.3,59.3 -7.3,59.3C-9.2,59.3 -10.8,58.3 -11.9,56.9C-13.1,55.6 -13.9,53.4 -14.3,51.1C-14.7,48.8 -14.9,44.7 -14.3,42.9Z"/>
<ellipse fill="#ff0000" cx="-4.1" cy="50.5" rx="4.1" ry="3.7"/>
<ellipse fill="#ffffff" cx="-0.3" cy="33.0" rx="1.6" ry="1.9"/>
<path fill="#ff0000" d="M-66.8,-9.6L-9.0,-9.6C-9.0,-9.6 -8.8,-3.2 -9.0,-0.3C-9.2,2.6 -10.3,5.3 -10.2,7.9C-10.1,10.4 -9.5,12.9 -8.4,14.9C-7.4,16.8 -4.9,18.1 -3.8,19.6C-2.6,21.0 -1.2,22.5 -1.4,23.6C-1.6,24.8 -3.2,25.5 -4.9,26.6C-6.7,27.6 -9.4,28.9 -11.9,30.1C-14.5,31.2 -17.4,33.4 -20.1,33.6C-22.8,33.8 -25.4,32.4 -28.3,31.2C-31.2,30.1 -34.5,28.3 -37.6,26.6C-40.8,24.8 -43.7,22.9 -47.0,20.7C-50.3,18.6 -54.2,15.9 -57.5,13.7C-60.8,11.6 -66.8,7.9 -66.8,7.9L-66.8,-9.6Z"/>
<path fill="#800000" d="M-46.4,-7.3C-46.4,-7.3 -46.9,-2.0 -46.4,0.3C-45.9,2.6 -44.9,4.5 -43.5,6.7C-42.0,8.9 -39.8,11.7 -37.6,13.7C-35.5,15.8 -33.0,17.8 -30.6,19.0C-28.3,20.2 -25.3,21.1 -23.6,21.0C-22.0,20.9 -21.1,19.8 -20.7,18.4C-20.3,17.0 -20.6,14.5 -21.3,12.6C-22.0,10.6 -23.4,8.8 -24.8,6.7C-26.2,4.7 -28.6,2.6 -29.5,0.3C-30.3,-2.0 -30.1,-7.3 -30.1,-7.3L-46.4,-7.3Z"/>
<path fill="#ff8000" d="M-66.8,70.9C-66.8,70.9 -60.8,71.7 -57.5,70.9C-54.2,70.2 -51.3,67.4 -47.0,66.3C-42.7,65.1 -36.9,64.5 -31.8,63.9C-26.7,63.3 -20.7,63.5 -16.6,62.8C-12.5,62.0 -10.0,60.2 -7.3,59.3C-4.6,58.3 -3.0,57.3 -0.3,56.9C2.5,56.5 9.1,56.7 9.1,56.7L9.1,71.9C9.1,71.9 1.9,72.1 -0.3,72.4C-2.4,72.8 -3.0,73.3 -3.8,74.2C-4.6,75.1 -4.2,76.0 -4.9,77.7C-5.7,79.5 -6.9,82.4 -8.4,84.7C-10.0,87.0 -11.8,89.4 -14.3,91.7C-16.8,94.1 -20.1,96.6 -23.6,98.7C-27.1,100.9 -31.4,103.0 -35.3,104.6C-39.2,106.1 -43.3,107.3 -47.0,108.1C-50.7,108.8 -54.2,108.9 -57.5,109.2C-60.8,109.5 -66.8,109.8 -66.8,109.8L-66.8,70.9Z"/>
<path fill="#ff0000" d="M-38.8,76.2C-35.7,74.9 -32.4,73.5 -28.3,72.1C-24.2,70.7 -18.2,69.2 -14.3,68.0C-10.4,66.8 -7.0,65.4 -4.9,65.1C-2.9,64.8 -2.2,65.1 -2.0,66.3C-1.8,67.4 -2.9,70.2 -3.8,71.9C-4.6,73.6 -6.4,75.0 -7.3,76.5C-8.2,78.1 -8.3,79.5 -9.0,81.2C-9.8,83.0 -10.5,85.3 -11.9,87.0C-13.4,88.8 -15.5,90.4 -17.8,91.7C-20.1,93.1 -23.0,94.4 -26.0,95.2C-28.9,96.0 -32.4,96.6 -35.3,96.4C-38.2,96.2 -41.2,95.2 -43.5,94.1C-45.7,92.9 -47.7,90.9 -48.7,89.4C-49.8,87.8 -50.2,86.3 -49.9,84.7C-49.6,83.2 -48.8,81.5 -47.0,80.0C-45.1,78.6 -41.9,77.5 -38.8,76.2Z"/>
<ellipse fill="#800000" cx="-24.8" cy="81.8" rx="12.3" ry="6.8" transform="rotate(-10 -24.8 81.8)"/>
<path fill="#80ffff" d="M5.5,81.0C5.5,81.0 2.4,91.8 1.7,95.9C1.1,100.1 0.7,102.9 1.7,105.8C2.8,108.7 4.8,111.2 7.9,113.3C11.0,115.4 15.4,117.0 20.3,118.3C25.3,119.5 31.9,120.5 37.7,120.7C43.5,120.9 49.3,119.3 55.1,119.5C60.9,119.7 66.1,121.1 72.5,122.0C78.8,122.8 86.9,123.8 93.1,124.5C99.3,125.1 109.7,125.7 109.7,125.7L109.7,81.0L5.5,81.0Z"/>
<path fill="#0080ff" d="M16.6,88.5C16.6,88.5 16.4,97.2 17.9,99.6C19.3,102.1 22.4,103.2 25.3,103.4C28.2,103.6 32.3,102.1 35.2,100.9C38.1,99.6 40.6,98.0 42.7,95.9C44.7,93.8 47.6,88.5 47.6,88.5L16.6,88.5Z"/>
<path fill="#0080ff" d="M62.5,88.5C62.5,88.5 64.2,99.6 66.3,103.4C68.3,107.1 71.8,109.2 74.9,110.8C78.0,112.5 81.8,112.7 84.9,113.3C87.9,113.9 88.9,114.2 93.1,114.5C97.2,114.9 109.7,115.3 109.7,115.3L109.7,88.5L62.5,88.5Z"/>
<path fill="#0000ff" d="M70.0,88.5C70.0,88.5 72.5,95.9 74.9,98.4C77.4,100.9 81.8,102.1 84.9,103.4C87.9,104.6 88.9,105.2 93.1,105.8C97.2,106.5 109.7,107.1 109.7,107.1L109.7,88.5L70.0,88.5Z"/>
<ellipse fill="#ffffff" cx="52.6" cy="101.4" rx="4.2" ry="6.2" transform="rotate(25 52.6 101.4)"/>
<path fill="#80ffff" d="M-37.6,158.3C-37.6,158.3 -37.5,153.8 -37.1,151.3C-36.6,148.7 -36.2,145.8 -34.7,143.1C-33.3,140.4 -30.9,136.9 -28.3,134.9C-25.7,133.0 -21.9,131.4 -19.0,131.4C-16.0,131.4 -13.1,133.0 -10.8,134.9C-8.4,136.9 -6.4,140.4 -4.9,143.1C-3.5,145.8 -2.6,148.7 -2.0,151.3C-1.4,153.8 -1.4,158.3 -1.4,158.3L-37.6,158.3Z"/>
<path fill="#ffff00" d="M24.1,162.9C24.1,162.9 23.9,154.5 24.1,151.0C24.3,147.5 23.4,144.0 25.3,141.8C27.2,139.7 30.3,138.7 35.2,138.1C40.2,137.5 48.5,137.9 55.1,138.1C61.7,138.3 68.6,139.6 74.9,139.3C81.3,139.1 87.3,137.5 93.1,136.9C98.8,136.2 109.7,135.6 109.7,135.6L109.7,162.9L24.1,162.9Z"/>
<g clip-path="url(#ci)"><rect width="93" height="93" fill="#fff"/><path fill="#ffff00" d="M120.0,-20.0L104.5,26.7C104.5,26.7 96.0,26.8 93.0,27.1C90.1,27.4 88.8,28.1 86.9,28.3C84.9,28.6 82.8,28.4 81.2,28.7C79.6,29.1 78.4,29.5 77.2,30.3C76.0,31.1 75.1,32.3 74.0,33.5C72.9,34.7 71.9,36.3 70.8,37.6C69.7,38.8 68.8,40.1 67.6,41.2C66.4,42.2 65.1,43.1 63.6,44.0C62.0,44.9 60.2,46.2 58.3,46.7C56.3,47.1 54.0,46.5 51.9,46.7C49.7,46.9 47.2,47.4 45.4,47.9C43.7,48.4 42.6,49.1 41.4,49.9C40.2,50.7 39.3,51.6 38.2,52.7C37.1,53.8 36.1,55.5 35.0,56.7C33.9,57.9 32.7,59.3 31.8,59.9C30.8,60.5 29.8,60.9 29.2,60.3C28.7,59.8 28.4,58.1 28.6,56.7C28.7,55.3 29.4,53.5 30.2,51.9C31.0,50.3 32.3,48.6 33.4,47.1C34.5,45.6 36.2,43.9 36.6,43.1C37.0,42.2 37.1,42.2 35.8,41.9C34.5,41.6 30.8,41.2 28.6,41.3C26.3,41.4 23.7,41.5 22.1,42.3C20.6,43.0 20.3,44.9 19.3,45.9C18.4,46.9 17.2,47.4 16.5,48.3C15.9,49.2 15.5,50.3 15.3,51.5C15.2,52.7 15.4,54.3 15.7,55.5C16.1,56.7 17.4,57.5 17.5,58.7C17.6,60.0 17.2,61.7 16.5,63.1C15.9,64.6 14.8,66.2 13.7,67.6C12.6,68.9 11.1,70.3 10.1,71.2C9.1,72.1 9.1,72.5 8.0,73.1C6.8,73.7 4.5,74.1 3.1,74.7C1.8,75.3 0.9,76.3 -0.1,76.7C-1.1,77.1 -1.8,77.0 -2.9,77.1C-4.0,77.3 -4.3,77.5 -6.5,77.5C-8.7,77.6 -16.1,77.5 -16.1,77.5L-20.0,-20.0L120.0,-20.0Z"/>
<path fill="#ffffff" d="M3.8,50.5C4.4,50.0 5.8,49.7 6.7,49.7C7.7,49.7 8.8,50.1 9.6,50.5C10.4,50.8 11.1,51.4 11.6,51.9C12.0,52.4 12.3,52.9 12.1,53.4C11.9,53.8 11.2,54.4 10.4,54.6C9.5,54.9 8.2,55.0 7.1,55.0C6.1,55.0 5.0,55.0 4.3,54.6C3.7,54.2 3.2,53.3 3.1,52.6C3.0,51.9 3.2,51.0 3.8,50.5Z"/>
<ellipse fill="#80ffff" cx="6.7" cy="52.5" rx="1.7" ry="1.2"/>
<path fill="#ff8000" d="M120.0,-20.0L104.5,19.5C104.5,19.5 95.6,19.6 93.0,19.9C90.5,20.2 90.6,20.5 89.3,21.1C88.0,21.7 86.9,22.8 85.3,23.5C83.6,24.2 81.5,25.0 79.6,25.5C77.8,26.0 75.9,26.7 74.0,26.7C72.1,26.7 69.9,26.2 68.4,25.5C66.9,24.8 66.2,23.3 65.2,22.7C64.2,22.1 63.4,21.8 62.4,21.9C61.3,22.0 59.9,22.5 58.8,23.1C57.6,23.7 56.4,24.7 55.5,25.5C54.7,26.3 54.3,27.1 53.5,27.9C52.7,28.7 51.9,29.4 50.7,30.3C49.6,31.3 47.7,32.5 46.7,33.5C45.7,34.6 45.6,35.9 44.6,36.6C43.6,37.4 42.2,38.0 40.6,38.3C39.0,38.5 36.9,38.3 35.0,38.3C33.1,38.2 30.7,38.3 29.4,37.9C28.0,37.5 27.2,37.0 27.0,35.8C26.7,34.7 27.8,32.2 27.8,31.0C27.7,29.9 27.6,29.3 26.6,29.0C25.5,28.7 23.5,29.1 21.6,29.1C19.7,29.1 16.8,28.9 15.2,29.1C13.6,29.3 12.8,30.4 12.0,30.3C11.1,30.3 10.7,29.5 10.0,28.7C9.2,27.9 8.6,26.1 7.6,25.5C6.5,24.9 4.9,24.9 3.9,25.1C2.9,25.3 2.7,26.4 1.5,26.7C0.4,27.0 -1.5,26.9 -2.9,27.0C-4.2,27.0 -4.3,27.0 -6.5,27.0C-8.7,27.0 -16.1,27.0 -16.1,27.0L-20.0,-20.0L120.0,-20.0Z"/>
<path fill="#ff8000" d="M-16.1,38.0C-16.1,38.0 -8.7,38.0 -6.5,38.0C-4.3,38.0 -4.5,38.2 -2.9,38.0C-1.3,37.8 0.9,37.1 3.1,36.8C5.3,36.4 8.7,35.8 10.4,35.9C12.0,36.1 12.8,36.6 13.2,37.6C13.6,38.5 13.1,40.2 12.8,41.6C12.4,42.9 11.8,44.4 11.2,45.6C10.6,46.8 10.2,48.0 9.2,48.6C8.1,49.3 5.8,48.8 4.7,49.4C3.7,50.0 3.1,51.2 2.7,52.2C2.3,53.2 1.9,54.8 2.3,55.4C2.8,56.0 4.3,55.6 5.5,55.8C6.7,56.0 8.6,56.2 9.6,56.6C10.5,57.1 11.3,57.8 11.3,58.6C11.4,59.5 10.8,60.7 10.0,61.5C9.1,62.3 7.1,62.6 6.3,63.5C5.5,64.3 5.6,65.7 5.1,66.7C4.7,67.6 4.4,68.5 3.5,69.1C2.7,69.7 1.0,70.0 -0.1,70.3C-1.1,70.6 -1.8,70.6 -2.9,70.7C-4.0,70.8 -4.3,70.7 -6.5,70.7C-8.7,70.7 -16.1,70.7 -16.1,70.7L-16.1,38.0Z"/>
<ellipse fill="#ff8000" cx="51.9" cy="41.9" rx="6.0" ry="3.2" transform="rotate(-8 51.9 41.9)"/>
<path fill="#ff0000" d="M11.6,-0.2C11.4,2.8 10.3,3.2 10.4,4.6C10.4,6.0 10.8,7.4 12.0,8.2C13.2,9.1 16.1,9.1 17.6,9.9C19.1,10.7 19.9,12.0 20.8,13.1C21.7,14.1 22.0,15.6 23.2,16.3C24.4,16.9 26.3,17.1 28.0,17.1C29.8,17.1 31.9,16.3 33.6,16.3C35.4,16.3 37.1,16.6 38.5,17.1C39.8,17.5 41.0,18.2 41.7,19.1C42.3,20.0 42.7,21.1 42.5,22.3C42.2,23.5 41.0,25.0 40.1,26.3C39.1,27.7 37.9,28.9 36.9,30.3C35.9,31.7 34.2,33.7 34.0,34.7C33.9,35.7 35.0,36.2 36.1,36.4C37.1,36.5 39.2,36.1 40.5,35.5C41.7,35.0 42.5,34.2 43.7,33.1C44.9,32.1 46.5,30.7 47.8,29.4C49.2,28.2 50.3,26.6 51.9,25.4C53.4,24.2 55.5,23.4 57.1,22.3C58.8,21.2 60.6,20.0 62.0,19.1C63.3,18.2 64.4,18.0 65.2,16.7C66.0,15.3 66.4,13.1 66.8,11.1C67.2,9.1 67.3,6.5 67.6,4.6C67.9,2.8 68.6,2.8 68.8,-0.2C69.0,-3.1 68.8,-13.0 68.8,-13.0L11.6,-13.0C11.6,-13.0 11.8,-3.1 11.6,-0.2Z"/>
<path fill="#ff0000" d="M85.7,-0.6L94.1,8.2L94.1,-0.6L85.7,-0.6Z"/>
<ellipse fill="#ff0000" cx="20.2" cy="23.7" rx="2.2" ry="2.2"/>
<path fill="#ff0000" d="M1.1,57.8C1.5,57.3 2.8,56.8 3.9,56.6C5.1,56.5 7.1,56.7 8.0,57.0C8.8,57.4 9.2,58.1 9.2,58.6C9.2,59.2 8.7,59.9 8.0,60.3C7.2,60.6 5.7,60.7 4.7,60.7C3.7,60.6 2.5,60.3 1.9,59.9C1.3,59.4 0.8,58.4 1.1,57.8Z"/>
<ellipse fill="#800000" cx="5.9" cy="58.5" rx="0.7" ry="0.6"/>
<path fill="#800000" d="M17.6,2.2C17.7,1.7 18.4,0.8 20.0,0.5C21.6,0.1 25.3,-0.2 27.2,0.2C29.1,0.6 30.2,1.9 31.2,3.0C32.3,4.2 33.2,5.9 33.6,7.0C34.1,8.2 34.4,9.1 34.0,9.9C33.6,10.6 32.4,11.0 31.2,11.5C30.1,11.9 28.2,12.8 27.2,12.7C26.2,12.5 25.7,11.6 25.2,10.7C24.7,9.7 24.9,8.0 24.4,7.0C23.9,6.0 23.3,5.2 22.4,4.6C21.5,4.0 20.0,3.8 19.2,3.4C18.4,3.0 17.5,2.7 17.6,2.2Z"/>
<path fill="#800000" d="M46.6,5.3C46.8,4.4 48.2,3.7 48.9,3.7C49.7,3.7 50.5,4.4 51.2,5.3C52.0,6.2 52.7,9.0 53.5,9.1C54.4,9.2 55.5,6.7 56.6,6.0C57.8,5.3 59.3,4.6 60.4,5.0C61.5,5.3 62.7,6.9 63.2,8.3C63.7,9.8 63.8,12.2 63.5,13.7C63.2,15.2 62.4,16.5 61.2,17.5C60.1,18.5 58.1,19.1 56.6,19.8C55.1,20.6 53.2,21.9 52.0,22.1C50.8,22.4 49.7,22.3 49.4,21.4C49.1,20.5 49.7,18.3 50.0,16.8C50.3,15.2 51.6,13.4 51.2,12.2C50.9,10.9 48.9,10.2 48.2,9.1C47.4,7.9 46.5,6.2 46.6,5.3Z"/>
<ellipse fill="#ffff00" cx="9.6" cy="14.3" rx="3.6" ry="2.2" transform="rotate(-25 9.6 14.3)"/>
<ellipse fill="#ffff00" cx="29.5" cy="26.1" rx="1.6" ry="1.0" transform="rotate(-30 29.5 26.1)"/>
<path fill="#ffff00" d="M75.6,8.2C76.1,8.6 76.6,9.6 76.4,11.1C76.2,12.5 75.3,15.5 74.4,17.1C73.5,18.7 72.1,20.2 71.2,20.7C70.3,21.2 69.1,20.7 68.8,19.9C68.5,19.1 68.8,17.3 69.2,15.9C69.6,14.4 70.5,12.3 71.2,11.1C71.9,9.9 72.9,9.1 73.6,8.6C74.3,8.2 75.1,7.8 75.6,8.2Z"/>
<ellipse fill="#ffff00" cx="25.4" cy="74.5" rx="3.4" ry="2.2" transform="rotate(-35 25.4 74.5)"/>
<ellipse fill="#ffffff" cx="21.0" cy="32.7" rx="0.8" ry="0.8"/>
<path fill="#80ffff" d="M104.5,34.7C104.5,34.7 95.7,35.1 93.0,34.7C90.4,34.4 90.0,33.3 88.5,32.7C86.9,32.2 85.1,31.4 83.6,31.3C82.2,31.2 81.2,31.4 80.0,32.1C78.9,32.8 77.8,34.3 76.8,35.5C75.9,36.8 75.3,38.2 74.4,39.6C73.5,40.9 71.9,42.4 71.2,43.6C70.5,44.8 71.1,46.0 70.3,46.8C69.4,47.6 67.8,48.1 66.2,48.4C64.6,48.8 62.5,48.8 60.6,48.8C58.7,48.9 56.7,48.8 55.0,48.8C53.3,48.9 51.7,49.0 50.2,49.2C48.7,49.5 47.4,49.9 46.2,50.4C45.0,51.0 43.9,51.6 43.0,52.5C42.0,53.3 41.3,54.2 40.5,55.3C39.7,56.3 38.9,57.6 38.1,58.9C37.3,60.1 36.5,61.4 35.7,62.9C34.9,64.4 34.0,66.1 33.3,67.7C32.6,69.3 32.2,71.1 31.7,72.5C31.2,74.0 30.6,75.8 30.1,76.5C29.6,77.3 29.8,76.5 28.8,77.1C27.8,77.7 25.6,79.5 24.0,80.3C22.4,81.2 20.9,81.9 19.2,82.3C17.5,82.7 15.3,82.5 13.6,82.7C11.8,82.9 10.2,83.0 8.8,83.5C7.3,84.1 5.7,85.0 4.7,85.9C3.8,86.9 3.3,88.1 3.1,89.2C3.0,90.2 3.5,91.2 3.9,92.4C4.3,93.6 5.3,94.9 5.5,96.4C5.8,97.9 5.5,101.2 5.5,101.2L120.0,110.0L104.5,34.7Z"/>
<path fill="#0080ff" d="M104.5,65.1C104.5,65.1 95.2,64.9 93.0,64.7C90.9,64.4 92.4,64.1 91.7,63.5C90.9,62.8 89.8,61.6 88.5,60.7C87.1,59.7 85.4,58.4 83.6,57.8C81.9,57.2 79.6,57.6 78.0,57.0C76.5,56.5 75.1,55.6 74.4,54.6C73.7,53.7 74.3,52.0 73.6,51.4C72.9,50.8 71.1,51.0 70.0,51.0C68.9,51.1 68.3,51.6 67.0,51.6C65.7,51.7 63.8,51.5 62.2,51.2C60.6,51.0 59.0,50.3 57.4,50.0C55.8,49.8 54.1,49.9 52.6,49.9C51.1,49.9 49.8,49.9 48.6,50.2C47.4,50.5 46.3,51.0 45.4,51.6C44.4,52.3 43.8,53.0 43.0,54.1C42.1,55.1 41.3,56.6 40.5,58.1C39.7,59.5 38.9,61.3 38.1,62.9C37.3,64.5 36.4,66.1 35.7,67.7C35.1,69.3 34.7,70.9 34.1,72.5C33.6,74.1 33.4,76.0 32.5,77.3C31.6,78.6 30.2,79.4 28.8,80.3C27.4,81.2 25.3,81.8 24.0,82.7C22.7,83.7 21.9,84.7 21.2,85.9C20.5,87.2 19.7,88.8 19.6,90.0C19.5,91.2 19.4,92.1 20.4,93.2C21.4,94.2 24.7,95.0 25.6,96.4C26.5,97.7 25.6,101.2 25.6,101.2L120.0,110.0L104.5,65.1Z"/>
<path fill="#0000ff" d="M44.6,53.3C45.4,52.3 47.2,51.6 48.6,51.2C49.9,50.8 51.1,50.8 52.6,50.8C54.1,50.9 55.8,51.2 57.4,51.6C59.0,52.1 60.8,52.6 62.2,53.3C63.6,53.9 65.0,54.7 65.8,55.7C66.6,56.6 67.2,57.9 67.0,58.9C66.8,59.8 65.6,60.5 64.6,61.3C63.7,62.1 62.3,62.8 61.4,63.7C60.5,64.6 59.5,66.0 59.4,66.9C59.3,67.8 60.2,68.5 60.6,69.3C61.0,70.1 62.0,70.9 61.8,71.7C61.7,72.6 60.5,73.7 59.8,74.5C59.1,75.4 57.7,76.1 57.4,76.9C57.1,77.8 57.5,79.0 58.2,79.8C58.9,80.5 60.5,81.4 61.4,81.4C62.3,81.4 63.0,80.8 63.4,79.8C63.8,78.7 63.6,76.3 63.8,74.9C64.1,73.5 64.2,72.2 65.0,71.3C65.8,70.5 67.4,69.9 68.6,69.7C69.9,69.5 71.7,69.8 72.7,70.1C73.7,70.5 74.2,71.1 74.7,71.7C75.1,72.4 74.8,73.2 75.5,74.1C76.1,75.1 77.3,76.3 78.7,77.3C80.0,78.4 82.3,79.3 83.6,80.3C85.0,81.4 85.7,82.6 86.9,83.5C88.1,84.5 89.8,85.4 90.9,85.9C91.9,86.5 90.8,86.6 93.0,86.8C95.3,87.0 104.5,87.2 104.5,87.2L104.5,101.2L67.1,101.5C67.1,101.5 67.8,94.0 67.1,92.3C66.3,90.6 64.5,91.6 62.5,91.1C60.4,90.6 57.9,89.7 54.8,89.2C51.7,88.8 47.4,88.9 44.1,88.5C40.8,88.1 37.4,87.3 34.9,86.9C32.3,86.6 30.0,86.8 28.8,86.4C27.6,85.9 27.1,84.8 27.6,84.3C28.1,83.8 30.4,83.6 31.7,83.4C33.1,83.1 34.9,83.4 35.7,83.0C36.6,82.5 36.6,81.5 36.9,80.6C37.3,79.6 37.6,78.7 37.7,77.3C37.9,76.0 37.5,74.1 37.7,72.5C37.9,70.9 38.3,69.3 38.9,67.7C39.5,66.1 40.6,64.6 41.3,62.9C42.1,61.2 42.8,58.9 43.4,57.3C43.9,55.7 43.7,54.3 44.6,53.3Z"/>
<path fill="#000080" d="M49.0,54.3C49.9,53.4 52.6,53.3 54.3,53.6C55.9,53.8 58.0,54.8 58.9,55.8C59.9,56.8 60.4,58.5 60.0,59.7C59.6,60.8 57.9,62.3 56.6,62.7C55.3,63.1 53.3,62.6 52.0,62.0C50.8,61.4 49.5,60.2 49.0,58.9C48.5,57.6 48.1,55.2 49.0,54.3Z"/>
<path fill="#000080" d="M46.6,66.6C47.9,66.0 49.5,65.5 50.5,66.3C51.5,67.0 52.0,69.3 52.5,71.2C53.0,73.0 53.6,75.5 53.6,77.3C53.5,79.1 53.2,81.2 52.0,81.9C50.9,82.7 48.3,82.4 46.6,81.9C45.0,81.4 43.0,80.1 42.1,78.8C41.2,77.5 41.1,75.7 41.3,74.2C41.4,72.7 41.9,70.9 42.8,69.6C43.7,68.4 45.4,67.1 46.6,66.6Z"/>
<path fill="#ff0000" d="M24.4,13.7C23.1,13.8 22.5,17.1 21.4,18.3C20.2,19.4 18.2,19.7 17.5,20.6C16.8,21.5 16.8,22.9 17.2,23.7C17.6,24.4 18.9,25.2 19.8,25.2C20.8,25.2 21.9,24.5 22.9,23.7C23.9,22.8 24.9,21.3 26.0,20.3C27.0,19.3 29.3,18.6 29.0,17.5C28.8,16.4 25.7,13.6 24.4,13.7Z"/>
<path fill="#ff8000" d="M27.5,24.4C27.8,23.9 28.9,23.4 29.5,23.7C30.1,23.9 31.0,25.2 31.0,26.0C31.1,26.7 30.4,27.8 29.8,27.9C29.2,28.1 28.0,27.6 27.6,27.0C27.3,26.4 27.2,25.0 27.5,24.4Z"/>
<ellipse fill="#ff0000" cx="2.5" cy="43.5" rx="3.8" ry="2.3"/>
<path fill="#ff0000" d="M-6.5,57.0C-5.2,56.6 -0.6,57.9 1.1,57.8C2.9,57.8 2.8,56.8 3.9,56.6C5.1,56.5 7.1,56.7 8.0,57.0C8.8,57.4 9.2,58.1 9.2,58.6C9.2,59.2 8.7,59.9 8.0,60.3C7.2,60.6 5.7,60.7 4.7,60.7C3.7,60.6 3.8,59.9 1.9,59.9C0.1,59.8 -5.1,60.7 -6.5,60.3C-7.9,59.8 -7.8,57.4 -6.5,57.0Z"/>
<ellipse fill="#800000" cx="5.9" cy="58.5" rx="0.7" ry="0.6"/>
<ellipse fill="#ffffff" cx="89.0" cy="50.5" rx="3.4" ry="3.6"/>
<ellipse fill="#0080ff" cx="77.9" cy="48.5" rx="0.8" ry="0.6" transform="rotate(-30 77.9 48.5)"/>
<ellipse fill="#ffffff" cx="68.6" cy="64.3" rx="1.0" ry="0.5"/></g>
<ellipse fill="#ffff00" cx="0.3" cy="13.7" rx="2.0" ry="1.8"/>
<ellipse fill="#ffffff" cx="0.5" cy="33.2" rx="1.7" ry="2.0"/>
</g>
<path d="M0,0.3V93.0H93.3" fill="none" stroke="#000" stroke-width="1.25" stroke-dasharray="1.25 1.42"/><path d="M-58.00,0V151.30H93.3" fill="none" stroke="#222" stroke-width="1.65" stroke-linejoin="round"/>
</g>
<g transform="translate(376.5,255.8)">
<g clip-path="url(#cp2)">
<rect x="-60" y="0" width="160" height="160" fill="#fff"/>
<path fill="#ffff00" d="M-80.9,-23.2L30.8,-23.2L30.8,74.8C30.8,74.8 5.8,75.2 0.2,76.1C-5.3,76.9 -1.2,78.3 -2.7,79.8C-4.3,81.2 -6.2,83.3 -8.9,84.7C-11.6,86.2 -15.1,87.4 -18.9,88.5C-22.6,89.5 -26.7,90.1 -31.3,91.0C-35.8,91.8 -41.7,92.4 -46.2,93.4C-50.6,94.5 -52.0,96.1 -57.8,97.2C-63.6,98.2 -80.9,99.6 -80.9,99.6L-80.9,-23.2Z"/>
<path fill="#ff8000" d="M-80.9,-23.2L30.8,-23.2L30.8,37.6C30.8,37.6 7.9,37.0 0.2,38.8C-7.4,40.7 -11.8,45.7 -15.1,48.8C-18.5,51.9 -18.7,54.6 -20.1,57.4C-21.6,60.3 -23.6,63.4 -23.8,66.1C-24.0,68.8 -23.4,71.7 -21.3,73.6C-19.3,75.4 -14.7,77.1 -11.4,77.3C-8.1,77.5 -3.4,75.4 -1.5,74.8C0.5,74.2 -5.1,73.8 0.2,73.6C5.6,73.4 30.8,73.6 30.8,73.6L30.8,38.8C30.8,38.8 7.9,38.9 0.2,40.1C-7.4,41.2 -12.2,45.4 -15.1,45.8C-18.1,46.2 -14.9,43.7 -17.6,42.6C-20.3,41.4 -26.5,40.3 -31.3,38.8C-36.0,37.4 -41.7,35.1 -46.2,33.9C-50.6,32.6 -52.0,32.0 -57.8,31.4C-63.6,30.8 -80.9,30.1 -80.9,30.1L-80.9,-23.2Z"/>
<path fill="#ff8000" d="M30.8,38.8C30.8,38.8 7.9,37.5 0.2,38.8C-7.4,40.2 -11.8,43.7 -15.1,46.8C-18.5,49.9 -18.7,54.2 -20.1,57.4C-21.6,60.7 -23.6,63.4 -23.8,66.1C-24.0,68.8 -23.4,71.7 -21.3,73.6C-19.3,75.4 -15.0,77.2 -11.4,77.3C-7.8,77.4 -6.8,74.7 0.2,74.1C7.3,73.5 30.8,73.6 30.8,73.6L30.8,38.8Z"/>
<path fill="#ffff00" d="M6.0,26.4C6.0,26.4 2.1,25.6 0.2,26.4C-1.6,27.3 -4.0,29.7 -5.2,31.4C-6.4,33.0 -7.2,35.2 -7.0,36.4C-6.7,37.5 -4.7,37.9 -3.5,38.3C-2.3,38.8 -1.3,38.8 0.2,38.8C1.8,38.9 6.0,38.8 6.0,38.8L6.0,26.4Z"/>
<path fill="#ff0000" d="M-16.4,20.7C-16.0,19.8 -12.3,19.1 -10.2,19.2C-8.0,19.4 -4.8,20.8 -3.5,21.5C-2.1,22.2 -1.5,22.9 -2.0,23.4C-2.5,24.0 -4.7,24.8 -6.5,24.9C-8.2,25.1 -11.0,25.1 -12.7,24.4C-14.3,23.7 -16.8,21.6 -16.4,20.7Z"/>
<path fill="#80ffff" d="M6.0,81.0C6.0,81.0 -2.5,89.7 -6.5,93.4C-10.4,97.2 -14.9,99.6 -17.6,103.4C-20.3,107.1 -22.2,111.6 -22.6,115.8C-23.0,119.9 -22.4,124.7 -20.1,128.2C-17.8,131.7 -13.7,134.8 -8.9,136.9C-4.2,138.9 1.8,140.2 8.4,140.6C15.1,141.0 22.9,140.4 30.8,139.3C38.6,138.3 48.1,136.2 55.6,134.4C63.0,132.5 69.2,130.2 75.4,128.2C81.7,126.1 87.5,123.6 93.3,122.0C99.1,120.3 110.2,118.3 110.2,118.3L110.2,81.0L6.0,81.0Z"/>
<path fill="#0080ff" d="M15.9,88.5C15.9,88.5 11.1,97.2 9.7,100.9C8.2,104.6 6.6,108.1 7.2,110.8C7.8,113.5 10.3,115.8 13.4,117.0C16.5,118.3 22.1,118.9 25.8,118.3C29.5,117.6 33.3,115.8 35.7,113.3C38.2,110.8 39.5,107.5 40.7,103.4C41.9,99.2 43.2,88.5 43.2,88.5L15.9,88.5Z"/>
<path fill="#0080ff" d="M60.6,88.5C60.6,88.5 60.8,97.8 61.8,100.9C62.8,104.0 64.1,105.6 66.8,107.1C69.4,108.5 74.4,109.6 77.9,109.6C81.4,109.6 85.3,107.9 87.9,107.1C90.4,106.3 89.6,105.4 93.3,104.6C97.0,103.8 110.2,102.1 110.2,102.1L110.2,88.5L60.6,88.5Z"/>
<path fill="#0000ff" d="M66.8,88.5C66.8,88.5 70.3,94.6 73.0,95.9C75.6,97.2 79.5,96.8 82.9,96.4C86.3,96.0 88.8,94.1 93.3,93.4C97.9,92.7 110.2,92.2 110.2,92.2L110.2,88.5L66.8,88.5Z"/>
<g clip-path="url(#ci)"><rect width="93" height="93" fill="#fff"/><path fill="#ffff00" d="M120.0,-20.0L104.5,26.7C104.5,26.7 96.0,26.8 93.0,27.1C90.1,27.4 88.8,28.1 86.9,28.3C84.9,28.6 82.8,28.4 81.2,28.7C79.6,29.1 78.4,29.5 77.2,30.3C76.0,31.1 75.1,32.3 74.0,33.5C72.9,34.7 71.9,36.3 70.8,37.6C69.7,38.8 68.8,40.1 67.6,41.2C66.4,42.2 65.1,43.1 63.6,44.0C62.0,44.9 60.2,46.2 58.3,46.7C56.3,47.1 54.0,46.5 51.9,46.7C49.7,46.9 47.2,47.4 45.4,47.9C43.7,48.4 42.6,49.1 41.4,49.9C40.2,50.7 39.3,51.6 38.2,52.7C37.1,53.8 36.1,55.5 35.0,56.7C33.9,57.9 32.7,59.3 31.8,59.9C30.8,60.5 29.8,60.9 29.2,60.3C28.7,59.8 28.4,58.1 28.6,56.7C28.7,55.3 29.4,53.5 30.2,51.9C31.0,50.3 32.3,48.6 33.4,47.1C34.5,45.6 36.2,43.9 36.6,43.1C37.0,42.2 37.1,42.2 35.8,41.9C34.5,41.6 30.8,41.2 28.6,41.3C26.3,41.4 23.7,41.5 22.1,42.3C20.6,43.0 20.3,44.9 19.3,45.9C18.4,46.9 17.2,47.4 16.5,48.3C15.9,49.2 15.5,50.3 15.3,51.5C15.2,52.7 15.4,54.3 15.7,55.5C16.1,56.7 17.4,57.5 17.5,58.7C17.6,60.0 17.2,61.7 16.5,63.1C15.9,64.6 14.8,66.2 13.7,67.6C12.6,68.9 11.1,70.3 10.1,71.2C9.1,72.1 9.1,72.5 8.0,73.1C6.8,73.7 4.5,74.1 3.1,74.7C1.8,75.3 0.9,76.3 -0.1,76.7C-1.1,77.1 -1.8,77.0 -2.9,77.1C-4.0,77.3 -4.3,77.5 -6.5,77.5C-8.7,77.6 -16.1,77.5 -16.1,77.5L-20.0,-20.0L120.0,-20.0Z"/>
<path fill="#ffffff" d="M3.8,50.5C4.4,50.0 5.8,49.7 6.7,49.7C7.7,49.7 8.8,50.1 9.6,50.5C10.4,50.8 11.1,51.4 11.6,51.9C12.0,52.4 12.3,52.9 12.1,53.4C11.9,53.8 11.2,54.4 10.4,54.6C9.5,54.9 8.2,55.0 7.1,55.0C6.1,55.0 5.0,55.0 4.3,54.6C3.7,54.2 3.2,53.3 3.1,52.6C3.0,51.9 3.2,51.0 3.8,50.5Z"/>
<ellipse fill="#80ffff" cx="6.7" cy="52.5" rx="1.7" ry="1.2"/>
<path fill="#ff8000" d="M120.0,-20.0L104.5,19.5C104.5,19.5 95.6,19.6 93.0,19.9C90.5,20.2 90.6,20.5 89.3,21.1C88.0,21.7 86.9,22.8 85.3,23.5C83.6,24.2 81.5,25.0 79.6,25.5C77.8,26.0 75.9,26.7 74.0,26.7C72.1,26.7 69.9,26.2 68.4,25.5C66.9,24.8 66.2,23.3 65.2,22.7C64.2,22.1 63.4,21.8 62.4,21.9C61.3,22.0 59.9,22.5 58.8,23.1C57.6,23.7 56.4,24.7 55.5,25.5C54.7,26.3 54.3,27.1 53.5,27.9C52.7,28.7 51.9,29.4 50.7,30.3C49.6,31.3 47.7,32.5 46.7,33.5C45.7,34.6 45.6,35.9 44.6,36.6C43.6,37.4 42.2,38.0 40.6,38.3C39.0,38.5 36.9,38.3 35.0,38.3C33.1,38.2 30.7,38.3 29.4,37.9C28.0,37.5 27.2,37.0 27.0,35.8C26.7,34.7 27.8,32.2 27.8,31.0C27.7,29.9 27.6,29.3 26.6,29.0C25.5,28.7 23.5,29.1 21.6,29.1C19.7,29.1 16.8,28.9 15.2,29.1C13.6,29.3 12.8,30.4 12.0,30.3C11.1,30.3 10.7,29.5 10.0,28.7C9.2,27.9 8.6,26.1 7.6,25.5C6.5,24.9 4.9,24.9 3.9,25.1C2.9,25.3 2.7,26.4 1.5,26.7C0.4,27.0 -1.5,26.9 -2.9,27.0C-4.2,27.0 -4.3,27.0 -6.5,27.0C-8.7,27.0 -16.1,27.0 -16.1,27.0L-20.0,-20.0L120.0,-20.0Z"/>
<path fill="#ff8000" d="M-16.1,38.0C-16.1,38.0 -8.7,38.0 -6.5,38.0C-4.3,38.0 -4.5,38.2 -2.9,38.0C-1.3,37.8 0.9,37.1 3.1,36.8C5.3,36.4 8.7,35.8 10.4,35.9C12.0,36.1 12.8,36.6 13.2,37.6C13.6,38.5 13.1,40.2 12.8,41.6C12.4,42.9 11.8,44.4 11.2,45.6C10.6,46.8 10.2,48.0 9.2,48.6C8.1,49.3 5.8,48.8 4.7,49.4C3.7,50.0 3.1,51.2 2.7,52.2C2.3,53.2 1.9,54.8 2.3,55.4C2.8,56.0 4.3,55.6 5.5,55.8C6.7,56.0 8.6,56.2 9.6,56.6C10.5,57.1 11.3,57.8 11.3,58.6C11.4,59.5 10.8,60.7 10.0,61.5C9.1,62.3 7.1,62.6 6.3,63.5C5.5,64.3 5.6,65.7 5.1,66.7C4.7,67.6 4.4,68.5 3.5,69.1C2.7,69.7 1.0,70.0 -0.1,70.3C-1.1,70.6 -1.8,70.6 -2.9,70.7C-4.0,70.8 -4.3,70.7 -6.5,70.7C-8.7,70.7 -16.1,70.7 -16.1,70.7L-16.1,38.0Z"/>
<ellipse fill="#ff8000" cx="51.9" cy="41.9" rx="6.0" ry="3.2" transform="rotate(-8 51.9 41.9)"/>
<path fill="#ff0000" d="M11.6,-0.2C11.4,2.8 10.3,3.2 10.4,4.6C10.4,6.0 10.8,7.4 12.0,8.2C13.2,9.1 16.1,9.1 17.6,9.9C19.1,10.7 19.9,12.0 20.8,13.1C21.7,14.1 22.0,15.6 23.2,16.3C24.4,16.9 26.3,17.1 28.0,17.1C29.8,17.1 31.9,16.3 33.6,16.3C35.4,16.3 37.1,16.6 38.5,17.1C39.8,17.5 41.0,18.2 41.7,19.1C42.3,20.0 42.7,21.1 42.5,22.3C42.2,23.5 41.0,25.0 40.1,26.3C39.1,27.7 37.9,28.9 36.9,30.3C35.9,31.7 34.2,33.7 34.0,34.7C33.9,35.7 35.0,36.2 36.1,36.4C37.1,36.5 39.2,36.1 40.5,35.5C41.7,35.0 42.5,34.2 43.7,33.1C44.9,32.1 46.5,30.7 47.8,29.4C49.2,28.2 50.3,26.6 51.9,25.4C53.4,24.2 55.5,23.4 57.1,22.3C58.8,21.2 60.6,20.0 62.0,19.1C63.3,18.2 64.4,18.0 65.2,16.7C66.0,15.3 66.4,13.1 66.8,11.1C67.2,9.1 67.3,6.5 67.6,4.6C67.9,2.8 68.6,2.8 68.8,-0.2C69.0,-3.1 68.8,-13.0 68.8,-13.0L11.6,-13.0C11.6,-13.0 11.8,-3.1 11.6,-0.2Z"/>
<path fill="#ff0000" d="M85.7,-0.6L94.1,8.2L94.1,-0.6L85.7,-0.6Z"/>
<ellipse fill="#ff0000" cx="20.2" cy="23.7" rx="2.2" ry="2.2"/>
<path fill="#ff0000" d="M1.1,57.8C1.5,57.3 2.8,56.8 3.9,56.6C5.1,56.5 7.1,56.7 8.0,57.0C8.8,57.4 9.2,58.1 9.2,58.6C9.2,59.2 8.7,59.9 8.0,60.3C7.2,60.6 5.7,60.7 4.7,60.7C3.7,60.6 2.5,60.3 1.9,59.9C1.3,59.4 0.8,58.4 1.1,57.8Z"/>
<ellipse fill="#800000" cx="5.9" cy="58.5" rx="0.7" ry="0.6"/>
<path fill="#800000" d="M17.6,2.2C17.7,1.7 18.4,0.8 20.0,0.5C21.6,0.1 25.3,-0.2 27.2,0.2C29.1,0.6 30.2,1.9 31.2,3.0C32.3,4.2 33.2,5.9 33.6,7.0C34.1,8.2 34.4,9.1 34.0,9.9C33.6,10.6 32.4,11.0 31.2,11.5C30.1,11.9 28.2,12.8 27.2,12.7C26.2,12.5 25.7,11.6 25.2,10.7C24.7,9.7 24.9,8.0 24.4,7.0C23.9,6.0 23.3,5.2 22.4,4.6C21.5,4.0 20.0,3.8 19.2,3.4C18.4,3.0 17.5,2.7 17.6,2.2Z"/>
<path fill="#800000" d="M45.9,7.0C46.0,6.2 46.8,5.1 47.5,4.6C48.3,4.2 49.5,3.9 50.3,4.2C51.1,4.6 51.3,6.6 52.3,6.6C53.3,6.7 54.9,5.0 56.3,4.6C57.8,4.3 59.6,4.1 60.8,4.6C61.9,5.2 62.7,6.4 63.2,7.8C63.6,9.3 63.6,12.0 63.4,13.5C63.2,14.9 62.9,15.9 62.0,16.7C61.1,17.5 59.4,17.7 58.0,18.3C56.5,18.8 54.4,19.4 53.1,19.9C51.9,20.4 50.9,21.4 50.3,21.1C49.7,20.8 49.5,19.4 49.5,18.3C49.5,17.1 50.4,15.5 50.3,14.3C50.3,13.1 49.7,11.9 49.1,11.1C48.5,10.3 47.2,10.1 46.7,9.5C46.2,8.8 45.8,7.8 45.9,7.0Z"/>
<ellipse fill="#ffff00" cx="9.6" cy="14.3" rx="3.6" ry="2.2" transform="rotate(-25 9.6 14.3)"/>
<ellipse fill="#ffff00" cx="29.5" cy="26.1" rx="1.6" ry="1.0" transform="rotate(-30 29.5 26.1)"/>
<path fill="#ffff00" d="M75.6,8.2C76.1,8.6 76.6,9.6 76.4,11.1C76.2,12.5 75.3,15.5 74.4,17.1C73.5,18.7 72.1,20.2 71.2,20.7C70.3,21.2 69.1,20.7 68.8,19.9C68.5,19.1 68.8,17.3 69.2,15.9C69.6,14.4 70.5,12.3 71.2,11.1C71.9,9.9 72.9,9.1 73.6,8.6C74.3,8.2 75.1,7.8 75.6,8.2Z"/>
<ellipse fill="#ffff00" cx="25.4" cy="74.5" rx="3.4" ry="2.2" transform="rotate(-35 25.4 74.5)"/>
<ellipse fill="#ffffff" cx="21.0" cy="32.7" rx="0.8" ry="0.8"/>
<path fill="#80ffff" d="M104.5,34.7C104.5,34.7 95.7,35.1 93.0,34.7C90.4,34.4 90.0,33.3 88.5,32.7C86.9,32.2 85.1,31.4 83.6,31.3C82.2,31.2 81.2,31.4 80.0,32.1C78.9,32.8 77.8,34.3 76.8,35.5C75.9,36.8 75.3,38.2 74.4,39.6C73.5,40.9 71.9,42.4 71.2,43.6C70.5,44.8 71.1,46.0 70.3,46.8C69.4,47.6 67.8,48.1 66.2,48.4C64.6,48.8 62.5,48.8 60.6,48.8C58.7,48.9 56.7,48.8 55.0,48.8C53.3,48.9 51.7,49.0 50.2,49.2C48.7,49.5 47.4,49.9 46.2,50.4C45.0,51.0 43.9,51.6 43.0,52.5C42.0,53.3 41.3,54.2 40.5,55.3C39.7,56.3 38.9,57.6 38.1,58.9C37.3,60.1 36.5,61.4 35.7,62.9C34.9,64.4 34.0,66.1 33.3,67.7C32.6,69.3 32.2,71.1 31.7,72.5C31.2,74.0 30.6,75.8 30.1,76.5C29.6,77.3 29.8,76.5 28.8,77.1C27.8,77.7 25.6,79.5 24.0,80.3C22.4,81.2 20.9,81.9 19.2,82.3C17.5,82.7 15.3,82.5 13.6,82.7C11.8,82.9 10.2,83.0 8.8,83.5C7.3,84.1 5.7,85.0 4.7,85.9C3.8,86.9 3.3,88.1 3.1,89.2C3.0,90.2 3.5,91.2 3.9,92.4C4.3,93.6 5.3,94.9 5.5,96.4C5.8,97.9 5.5,101.2 5.5,101.2L120.0,110.0L104.5,34.7Z"/>
<path fill="#0080ff" d="M104.5,65.1C104.5,65.1 95.2,64.9 93.0,64.7C90.9,64.4 92.4,64.1 91.7,63.5C90.9,62.8 89.8,61.6 88.5,60.7C87.1,59.7 85.4,58.4 83.6,57.8C81.9,57.2 79.6,57.6 78.0,57.0C76.5,56.5 75.1,55.6 74.4,54.6C73.7,53.7 74.3,52.0 73.6,51.4C72.9,50.8 71.1,51.0 70.0,51.0C68.9,51.1 68.3,51.6 67.0,51.6C65.7,51.7 63.8,51.5 62.2,51.2C60.6,51.0 59.0,50.3 57.4,50.0C55.8,49.8 54.1,49.9 52.6,49.9C51.1,49.9 49.8,49.9 48.6,50.2C47.4,50.5 46.3,51.0 45.4,51.6C44.4,52.3 43.8,53.0 43.0,54.1C42.1,55.1 41.3,56.6 40.5,58.1C39.7,59.5 38.9,61.3 38.1,62.9C37.3,64.5 36.4,66.1 35.7,67.7C35.1,69.3 34.7,70.9 34.1,72.5C33.6,74.1 33.4,76.0 32.5,77.3C31.6,78.6 30.2,79.4 28.8,80.3C27.4,81.2 25.3,81.8 24.0,82.7C22.7,83.7 21.9,84.7 21.2,85.9C20.5,87.2 19.7,88.8 19.6,90.0C19.5,91.2 19.4,92.1 20.4,93.2C21.4,94.2 24.7,95.0 25.6,96.4C26.5,97.7 25.6,101.2 25.6,101.2L120.0,110.0L104.5,65.1Z"/>
<path fill="#0000ff" d="M44.6,53.3C45.4,52.3 47.2,51.6 48.6,51.2C49.9,50.8 51.1,50.8 52.6,50.8C54.1,50.9 55.8,51.2 57.4,51.6C59.0,52.1 60.8,52.6 62.2,53.3C63.6,53.9 65.0,54.7 65.8,55.7C66.6,56.6 67.2,57.9 67.0,58.9C66.8,59.8 65.6,60.5 64.6,61.3C63.7,62.1 62.3,62.8 61.4,63.7C60.5,64.6 59.5,66.0 59.4,66.9C59.3,67.8 60.2,68.5 60.6,69.3C61.0,70.1 62.0,70.9 61.8,71.7C61.7,72.6 60.5,73.7 59.8,74.5C59.1,75.4 57.7,76.1 57.4,76.9C57.1,77.8 57.5,79.0 58.2,79.8C58.9,80.5 60.5,81.4 61.4,81.4C62.3,81.4 63.0,80.8 63.4,79.8C63.8,78.7 63.6,76.3 63.8,74.9C64.1,73.5 64.2,72.2 65.0,71.3C65.8,70.5 67.4,69.9 68.6,69.7C69.9,69.5 71.7,69.8 72.7,70.1C73.7,70.5 74.2,71.1 74.7,71.7C75.1,72.4 74.8,73.2 75.5,74.1C76.1,75.1 77.3,76.3 78.7,77.3C80.0,78.4 82.3,79.3 83.6,80.3C85.0,81.4 85.7,82.6 86.9,83.5C88.1,84.5 89.8,85.4 90.9,85.9C91.9,86.5 90.8,86.6 93.0,86.8C95.3,87.0 104.5,87.2 104.5,87.2L104.5,101.2L67.1,101.5C67.1,101.5 67.8,94.0 67.1,92.3C66.3,90.6 64.5,91.6 62.5,91.1C60.4,90.6 57.9,89.7 54.8,89.2C51.7,88.8 47.4,88.9 44.1,88.5C40.8,88.1 37.4,87.3 34.9,86.9C32.3,86.6 30.0,86.8 28.8,86.4C27.6,85.9 27.1,84.8 27.6,84.3C28.1,83.8 30.4,83.6 31.7,83.4C33.1,83.1 34.9,83.4 35.7,83.0C36.6,82.5 36.6,81.5 36.9,80.6C37.3,79.6 37.6,78.7 37.7,77.3C37.9,76.0 37.5,74.1 37.7,72.5C37.9,70.9 38.3,69.3 38.9,67.7C39.5,66.1 40.6,64.6 41.3,62.9C42.1,61.2 42.8,58.9 43.4,57.3C43.9,55.7 43.7,54.3 44.6,53.3Z"/>
<path fill="#000080" d="M49.0,55.3C49.5,54.6 50.4,54.0 51.4,53.9C52.4,53.8 53.9,54.0 55.0,54.5C56.1,55.0 57.1,55.9 57.8,56.9C58.5,57.8 59.0,59.1 59.0,60.1C59.0,61.1 58.5,62.0 57.8,62.9C57.1,63.8 55.8,64.4 55.0,65.3C54.2,66.2 53.5,67.3 53.0,68.5C52.5,69.7 52.2,71.2 52.2,72.5C52.2,73.9 52.6,75.3 53.0,76.5C53.4,77.7 54.4,78.7 54.6,79.8C54.8,80.8 54.8,82.1 54.2,82.6C53.6,83.0 52.4,82.8 51.0,82.6C49.6,82.4 47.2,81.9 45.8,81.4C44.4,80.8 43.3,80.3 42.6,79.4C41.8,78.4 41.4,76.9 41.3,75.7C41.3,74.6 41.6,73.6 42.1,72.5C42.7,71.5 43.8,70.5 44.6,69.3C45.4,68.2 46.3,67.0 47.0,65.7C47.6,64.4 48.3,62.6 48.6,61.3C48.8,59.9 48.3,58.7 48.4,57.7C48.5,56.7 48.5,55.9 49.0,55.3Z"/>
<ellipse fill="#ffffff" cx="89.0" cy="50.5" rx="3.4" ry="3.6"/>
<ellipse fill="#0080ff" cx="77.9" cy="48.5" rx="0.8" ry="0.6" transform="rotate(-30 77.9 48.5)"/>
<ellipse fill="#ffffff" cx="68.6" cy="64.3" rx="1.0" ry="0.5"/></g>
<ellipse fill="#ffff00" cx="0.2" cy="13.7" rx="1.2" ry="1.2"/>
<ellipse fill="#ffffff" cx="0.2" cy="33.5" rx="1.0" ry="1.2"/>
</g>
<path d="M0,0.3V93.0H93.3" fill="none" stroke="#000" stroke-width="1.25" stroke-dasharray="1.25 1.42"/><path d="M-58.00,0V151.30H93.3" fill="none" stroke="#222" stroke-width="1.65" stroke-linejoin="round"/>
</g>
<g transform="translate(534.0,255.8)">
<g clip-path="url(#cp2)">
<rect x="-60" y="0" width="160" height="160" fill="#fff"/>
<path fill="#ffff00" d="M-81.4,-23.2L30.3,-23.2L9.1,73.0C9.1,73.0 0.9,73.4 -0.9,74.2C-2.6,75.0 -1.0,75.8 -1.4,77.7C-1.8,79.7 -2.5,83.2 -3.2,85.9C-3.9,88.6 -4.1,91.8 -5.5,94.1C-7.0,96.3 -9.1,97.7 -11.9,99.3C-14.8,101.0 -18.8,102.6 -22.5,104.0C-26.2,105.3 -30.1,106.5 -34.1,107.5C-38.2,108.5 -43.1,109.2 -47.0,109.8C-50.9,110.4 -54.2,110.7 -57.5,111.0C-60.8,111.2 -66.8,111.3 -66.8,111.3L-81.4,-23.2Z"/>
<path fill="#ff8000" d="M-57.5,-9.6C-57.5,-9.6 -58.1,-2.8 -57.5,-0.3C-56.9,2.2 -55.1,3.2 -54.0,5.5C-52.9,7.9 -52.0,10.8 -51.1,13.7C-50.1,16.6 -49.4,20.1 -48.2,23.1C-46.9,26.0 -45.6,28.9 -43.5,31.2C-41.3,33.6 -38.2,35.6 -35.3,37.1C-32.4,38.5 -28.5,39.6 -26.0,40.0C-23.4,40.4 -21.9,40.3 -20.1,39.4C-18.4,38.5 -17.4,36.1 -15.5,34.7C-13.5,33.4 -10.6,32.2 -8.4,31.2C-6.3,30.3 -4.0,29.4 -2.6,28.9C-1.2,28.4 -2.2,28.5 -0.3,28.3C1.7,28.1 9.1,27.7 9.1,27.7L9.1,-9.6L-57.5,-9.6Z"/>
<path fill="#ff0000" d="M-33.0,-9.6C-33.0,-9.6 -32.7,-3.6 -33.0,-0.3C-33.3,3.0 -34.4,6.9 -34.7,10.2C-35.0,13.5 -35.2,16.8 -34.7,19.6C-34.2,22.3 -33.5,24.8 -31.8,26.6C-30.1,28.3 -27.7,29.8 -24.8,30.1C-21.9,30.4 -17.4,29.0 -14.3,28.3C-11.2,27.6 -8.2,26.8 -6.1,26.0C-4.1,25.2 -2.4,24.7 -2.0,23.6C-1.6,22.6 -2.7,21.0 -3.8,19.6C-4.8,18.1 -7.4,16.8 -8.4,14.9C-9.5,12.9 -10.1,10.4 -10.2,7.9C-10.3,5.3 -9.2,2.6 -9.0,-0.3C-8.8,-3.2 -9.0,-9.6 -9.0,-9.6L-33.0,-9.6Z"/>
<path fill="#ffffff" d="M-66.8,49.3C-66.8,49.3 -60.8,49.6 -57.5,49.3C-54.2,49.0 -50.9,47.8 -47.0,47.6C-43.1,47.4 -38.2,47.5 -34.1,48.2C-30.1,48.9 -25.8,50.2 -22.5,51.7C-19.2,53.1 -14.7,55.2 -14.3,56.9C-13.9,58.7 -17.6,60.9 -20.1,62.2C-22.7,63.5 -26.4,64.2 -29.5,64.5C-32.6,64.8 -35.7,64.8 -38.8,63.9C-41.9,63.1 -45.0,61.0 -48.2,59.3C-51.3,57.5 -54.4,54.5 -57.5,53.4C-60.6,52.4 -66.8,52.8 -66.8,52.8L-66.8,49.3Z"/>
<ellipse fill="#ffffff" cx="-3.5" cy="35.1" rx="7.2" ry="2.3" transform="rotate(-35 -3.5 35.1)"/>
<path fill="#ff8000" d="M-12.5,46.4C-11.9,45.0 -10.5,44.2 -8.4,43.5C-6.4,42.8 -3.2,42.5 -0.3,42.3C2.6,42.1 9.1,42.3 9.1,42.3L9.1,58.1C9.1,58.1 2.1,57.9 -0.3,58.1C-2.6,58.3 -3.4,59.5 -4.9,59.3C-6.5,59.1 -8.4,58.1 -9.6,56.9C-10.8,55.8 -11.5,54.0 -11.9,52.3C-12.4,50.5 -13.1,47.9 -12.5,46.4Z"/>
<ellipse fill="#ff0000" cx="-4.1" cy="50.2" rx="4.4" ry="3.7"/>
<path fill="#ff8000" d="M-3.8,74.2C-6.1,75.2 -4.2,76.9 -4.9,78.9C-5.7,80.8 -6.9,83.7 -8.4,85.9C-10.0,88.0 -11.6,89.9 -14.3,91.7C-17.0,93.6 -21.3,95.8 -24.8,97.0C-28.3,98.1 -31.8,99.1 -35.3,98.7C-38.8,98.3 -42.9,96.4 -45.8,94.6C-48.7,92.9 -51.2,90.5 -52.8,88.2C-54.5,86.0 -55.5,83.3 -55.7,81.2C-55.9,79.1 -55.1,77.1 -54.0,75.4C-52.9,73.6 -52.0,72.1 -49.3,70.7C-46.6,69.3 -41.5,68.3 -37.6,67.2C-33.7,66.1 -29.5,65.2 -26.0,64.3C-22.5,63.3 -19.3,62.4 -16.6,61.6C-13.9,60.7 -11.6,60.2 -9.6,59.3C-7.7,58.3 -6.5,56.6 -4.9,55.7C-3.4,54.9 -2.6,54.6 -0.3,54.3C2.1,54.1 9.1,54.3 9.1,54.3L9.1,73.0C9.1,73.0 -1.4,73.2 -3.8,74.2Z"/>
<path fill="#ff0000" d="M-7.9,74.2C-9.1,75.4 -8.1,75.2 -8.4,76.5C-8.8,77.9 -9.2,80.4 -10.2,82.4C-11.2,84.3 -12.4,86.7 -14.3,88.2C-16.1,89.8 -18.8,91.1 -21.3,91.7C-23.8,92.3 -27.0,92.3 -29.5,91.7C-31.9,91.1 -34.3,89.8 -35.9,88.2C-37.4,86.7 -38.5,83.9 -38.8,82.4C-39.1,80.8 -38.8,80.0 -37.6,78.9C-36.5,77.7 -34.3,76.7 -31.8,75.4C-29.3,74.0 -25.4,72.4 -22.5,70.9C-19.5,69.4 -17.0,67.4 -14.3,66.3C-11.6,65.1 -8.3,64.1 -6.1,63.9C-4.0,63.7 -2.3,64.2 -1.4,65.1C-0.6,66.0 0.2,68.0 -0.9,69.5C-1.9,71.0 -6.6,73.0 -7.9,74.2Z"/>
<ellipse fill="#800000" cx="-20.7" cy="80.6" rx="4.9" ry="3.2" transform="rotate(-20 -20.7 80.6)"/>
<path fill="#80ffff" d="M11.4,81.2C11.4,81.2 10.4,82.6 9.1,83.5C7.7,84.5 4.0,85.7 3.2,87.0C2.5,88.4 4.0,90.0 4.4,91.7C4.8,93.5 6.0,95.8 5.6,97.6C5.2,99.3 3.8,100.9 2.1,102.2C0.3,103.6 -2.2,104.5 -4.9,105.7C-7.7,107.0 -10.8,108.3 -14.3,109.8C-17.8,111.4 -22.1,113.2 -26.0,115.1C-29.9,116.9 -33.7,118.8 -37.6,120.9C-41.5,123.1 -46.0,125.8 -49.3,127.9C-52.6,130.1 -54.6,131.8 -57.5,133.8C-60.4,135.7 -66.8,139.6 -66.8,139.6L-66.8,163.0L114.2,163.0L114.2,81.2L11.4,81.2Z"/>
<path fill="#0080ff" d="M19.0,88.2C19.0,88.2 19.5,90.7 19.0,91.7C18.5,92.7 17.0,93.1 16.1,94.1C15.2,95.0 14.3,95.8 13.7,97.6C13.2,99.3 13.7,102.4 12.6,104.6C11.4,106.7 9.1,108.3 6.7,110.4C4.4,112.5 1.3,114.9 -1.4,117.4C-4.2,119.9 -6.9,122.7 -9.6,125.6C-12.3,128.5 -15.5,132.0 -17.8,134.9C-20.1,137.8 -22.3,140.4 -23.6,143.1C-25.0,145.8 -25.5,148.7 -26.0,151.3C-26.5,153.8 -26.5,158.3 -26.5,158.3L11.6,158.3C11.6,158.3 11.3,155.1 12.6,151.3C13.8,147.5 16.6,140.7 19.1,135.6C21.6,130.5 25.1,125.6 27.8,120.7C30.4,115.7 33.2,110.6 35.2,105.8C37.3,101.1 39.2,95.4 40.1,92.4C41.0,89.5 40.6,88.2 40.6,88.2L19.0,88.2Z"/>
<path fill="#0080ff" d="M60.1,88.5C60.1,88.5 60.9,100.9 62.5,105.8C64.2,110.8 66.7,115.1 70.0,118.3C73.3,121.4 78.5,123.0 82.4,124.5C86.2,125.9 88.5,126.3 93.1,126.9C97.6,127.6 109.7,128.2 109.7,128.2L109.7,88.5L60.1,88.5Z"/>
<path fill="#0000ff" d="M66.3,88.5C66.3,88.5 69.8,97.6 72.5,100.9C75.1,104.2 79.0,106.7 82.4,108.3C85.8,110.0 88.5,110.2 93.1,110.8C97.6,111.4 109.7,112.0 109.7,112.0L109.7,88.5L66.3,88.5Z"/>
<ellipse fill="#ffffff" cx="52.6" cy="101.4" rx="4.2" ry="6.2" transform="rotate(25 52.6 101.4)"/>
<g clip-path="url(#ci)"><rect width="93" height="93" fill="#fff"/><path fill="#ffff00" d="M120.0,-20.0L104.5,26.7C104.5,26.7 96.0,26.8 93.0,27.1C90.1,27.4 88.8,28.1 86.9,28.3C84.9,28.6 82.8,28.4 81.2,28.7C79.6,29.1 78.4,29.5 77.2,30.3C76.0,31.1 75.1,32.3 74.0,33.5C72.9,34.7 71.9,36.3 70.8,37.6C69.7,38.8 68.8,40.1 67.6,41.2C66.4,42.2 65.1,43.1 63.6,44.0C62.0,44.9 60.2,46.2 58.3,46.7C56.3,47.1 54.0,46.5 51.9,46.7C49.7,46.9 47.2,47.4 45.4,47.9C43.7,48.4 42.6,49.1 41.4,49.9C40.2,50.7 39.3,51.6 38.2,52.7C37.1,53.8 36.1,55.5 35.0,56.7C33.9,57.9 32.7,59.3 31.8,59.9C30.8,60.5 29.8,60.9 29.2,60.3C28.7,59.8 28.4,58.1 28.6,56.7C28.7,55.3 29.4,53.5 30.2,51.9C31.0,50.3 32.3,48.6 33.4,47.1C34.5,45.6 36.2,43.9 36.6,43.1C37.0,42.2 37.1,42.2 35.8,41.9C34.5,41.6 30.8,41.2 28.6,41.3C26.3,41.4 23.7,41.5 22.1,42.3C20.6,43.0 20.3,44.9 19.3,45.9C18.4,46.9 17.2,47.4 16.5,48.3C15.9,49.2 15.5,50.3 15.3,51.5C15.2,52.7 15.4,54.3 15.7,55.5C16.1,56.7 17.4,57.5 17.5,58.7C17.6,60.0 17.2,61.7 16.5,63.1C15.9,64.6 14.8,66.2 13.7,67.6C12.6,68.9 11.1,70.3 10.1,71.2C9.1,72.1 9.1,72.5 8.0,73.1C6.8,73.7 4.5,74.1 3.1,74.7C1.8,75.3 0.9,76.3 -0.1,76.7C-1.1,77.1 -1.8,77.0 -2.9,77.1C-4.0,77.3 -4.3,77.5 -6.5,77.5C-8.7,77.6 -16.1,77.5 -16.1,77.5L-20.0,-20.0L120.0,-20.0Z"/>
<path fill="#ffffff" d="M3.8,50.5C4.4,50.0 5.8,49.7 6.7,49.7C7.7,49.7 8.8,50.1 9.6,50.5C10.4,50.8 11.1,51.4 11.6,51.9C12.0,52.4 12.3,52.9 12.1,53.4C11.9,53.8 11.2,54.4 10.4,54.6C9.5,54.9 8.2,55.0 7.1,55.0C6.1,55.0 5.0,55.0 4.3,54.6C3.7,54.2 3.2,53.3 3.1,52.6C3.0,51.9 3.2,51.0 3.8,50.5Z"/>
<ellipse fill="#80ffff" cx="6.7" cy="52.5" rx="1.7" ry="1.2"/>
<path fill="#ff8000" d="M120.0,-20.0L104.5,19.5C104.5,19.5 95.6,19.6 93.0,19.9C90.5,20.2 90.6,20.5 89.3,21.1C88.0,21.7 86.9,22.8 85.3,23.5C83.6,24.2 81.5,25.0 79.6,25.5C77.8,26.0 75.9,26.7 74.0,26.7C72.1,26.7 69.9,26.2 68.4,25.5C66.9,24.8 66.2,23.3 65.2,22.7C64.2,22.1 63.4,21.8 62.4,21.9C61.3,22.0 59.9,22.5 58.8,23.1C57.6,23.7 56.4,24.7 55.5,25.5C54.7,26.3 54.3,27.1 53.5,27.9C52.7,28.7 51.9,29.4 50.7,30.3C49.6,31.3 47.7,32.5 46.7,33.5C45.7,34.6 45.6,35.9 44.6,36.6C43.6,37.4 42.2,38.0 40.6,38.3C39.0,38.5 36.9,38.3 35.0,38.3C33.1,38.2 30.7,38.3 29.4,37.9C28.0,37.5 27.2,37.0 27.0,35.8C26.7,34.7 27.8,32.2 27.8,31.0C27.7,29.9 27.6,29.3 26.6,29.0C25.5,28.7 23.5,29.1 21.6,29.1C19.7,29.1 16.8,28.9 15.2,29.1C13.6,29.3 12.8,30.4 12.0,30.3C11.1,30.3 10.7,29.5 10.0,28.7C9.2,27.9 8.6,26.1 7.6,25.5C6.5,24.9 4.9,24.9 3.9,25.1C2.9,25.3 2.7,26.4 1.5,26.7C0.4,27.0 -1.5,26.9 -2.9,27.0C-4.2,27.0 -4.3,27.0 -6.5,27.0C-8.7,27.0 -16.1,27.0 -16.1,27.0L-20.0,-20.0L120.0,-20.0Z"/>
<path fill="#ff8000" d="M-16.1,38.0C-16.1,38.0 -8.7,38.0 -6.5,38.0C-4.3,38.0 -4.5,38.2 -2.9,38.0C-1.3,37.8 0.9,37.1 3.1,36.8C5.3,36.4 8.7,35.8 10.4,35.9C12.0,36.1 12.8,36.6 13.2,37.6C13.6,38.5 13.1,40.2 12.8,41.6C12.4,42.9 11.8,44.4 11.2,45.6C10.6,46.8 10.2,48.0 9.2,48.6C8.1,49.3 5.8,48.8 4.7,49.4C3.7,50.0 3.1,51.2 2.7,52.2C2.3,53.2 1.9,54.8 2.3,55.4C2.8,56.0 4.3,55.6 5.5,55.8C6.7,56.0 8.6,56.2 9.6,56.6C10.5,57.1 11.3,57.8 11.3,58.6C11.4,59.5 10.8,60.7 10.0,61.5C9.1,62.3 7.1,62.6 6.3,63.5C5.5,64.3 5.6,65.7 5.1,66.7C4.7,67.6 4.4,68.5 3.5,69.1C2.7,69.7 1.0,70.0 -0.1,70.3C-1.1,70.6 -1.8,70.6 -2.9,70.7C-4.0,70.8 -4.3,70.7 -6.5,70.7C-8.7,70.7 -16.1,70.7 -16.1,70.7L-16.1,38.0Z"/>
<ellipse fill="#ff8000" cx="51.9" cy="41.9" rx="6.0" ry="3.2" transform="rotate(-8 51.9 41.9)"/>
<path fill="#ff0000" d="M11.6,-0.2C11.4,2.8 10.3,3.2 10.4,4.6C10.4,6.0 10.8,7.4 12.0,8.2C13.2,9.1 16.1,9.1 17.6,9.9C19.1,10.7 19.9,12.0 20.8,13.1C21.7,14.1 22.0,15.6 23.2,16.3C24.4,16.9 26.3,17.1 28.0,17.1C29.8,17.1 31.9,16.3 33.6,16.3C35.4,16.3 37.1,16.6 38.5,17.1C39.8,17.5 41.0,18.2 41.7,19.1C42.3,20.0 42.7,21.1 42.5,22.3C42.2,23.5 41.0,25.0 40.1,26.3C39.1,27.7 37.9,28.9 36.9,30.3C35.9,31.7 34.2,33.7 34.0,34.7C33.9,35.7 35.0,36.2 36.1,36.4C37.1,36.5 39.2,36.1 40.5,35.5C41.7,35.0 42.5,34.2 43.7,33.1C44.9,32.1 46.5,30.7 47.8,29.4C49.2,28.2 50.3,26.6 51.9,25.4C53.4,24.2 55.5,23.4 57.1,22.3C58.8,21.2 60.6,20.0 62.0,19.1C63.3,18.2 64.4,18.0 65.2,16.7C66.0,15.3 66.4,13.1 66.8,11.1C67.2,9.1 67.3,6.5 67.6,4.6C67.9,2.8 68.6,2.8 68.8,-0.2C69.0,-3.1 68.8,-13.0 68.8,-13.0L11.6,-13.0C11.6,-13.0 11.8,-3.1 11.6,-0.2Z"/>
<path fill="#ff0000" d="M85.7,-0.6L94.1,8.2L94.1,-0.6L85.7,-0.6Z"/>
<ellipse fill="#ff0000" cx="20.2" cy="23.7" rx="2.2" ry="2.2"/>
<path fill="#ff0000" d="M1.1,57.8C1.5,57.3 2.8,56.8 3.9,56.6C5.1,56.5 7.1,56.7 8.0,57.0C8.8,57.4 9.2,58.1 9.2,58.6C9.2,59.2 8.7,59.9 8.0,60.3C7.2,60.6 5.7,60.7 4.7,60.7C3.7,60.6 2.5,60.3 1.9,59.9C1.3,59.4 0.8,58.4 1.1,57.8Z"/>
<ellipse fill="#800000" cx="5.9" cy="58.5" rx="0.7" ry="0.6"/>
<path fill="#800000" d="M17.6,2.2C17.7,1.7 18.4,0.8 20.0,0.5C21.6,0.1 25.3,-0.2 27.2,0.2C29.1,0.6 30.2,1.9 31.2,3.0C32.3,4.2 33.2,5.9 33.6,7.0C34.1,8.2 34.4,9.1 34.0,9.9C33.6,10.6 32.4,11.0 31.2,11.5C30.1,11.9 28.2,12.8 27.2,12.7C26.2,12.5 25.7,11.6 25.2,10.7C24.7,9.7 24.9,8.0 24.4,7.0C23.9,6.0 23.3,5.2 22.4,4.6C21.5,4.0 20.0,3.8 19.2,3.4C18.4,3.0 17.5,2.7 17.6,2.2Z"/>
<path fill="#800000" d="M46.6,5.3C46.8,4.4 48.2,3.7 48.9,3.7C49.7,3.7 50.5,4.4 51.2,5.3C52.0,6.2 52.7,9.0 53.5,9.1C54.4,9.2 55.5,6.7 56.6,6.0C57.8,5.3 59.3,4.6 60.4,5.0C61.5,5.3 62.7,6.9 63.2,8.3C63.7,9.8 63.8,12.2 63.5,13.7C63.2,15.2 62.4,16.5 61.2,17.5C60.1,18.5 58.1,19.1 56.6,19.8C55.1,20.6 53.2,21.9 52.0,22.1C50.8,22.4 49.7,22.3 49.4,21.4C49.1,20.5 49.7,18.3 50.0,16.8C50.3,15.2 51.6,13.4 51.2,12.2C50.9,10.9 48.9,10.2 48.2,9.1C47.4,7.9 46.5,6.2 46.6,5.3Z"/>
<ellipse fill="#ffff00" cx="9.6" cy="14.3" rx="3.6" ry="2.2" transform="rotate(-25 9.6 14.3)"/>
<ellipse fill="#ffff00" cx="29.5" cy="26.1" rx="1.6" ry="1.0" transform="rotate(-30 29.5 26.1)"/>
<path fill="#ffff00" d="M75.6,8.2C76.1,8.6 76.6,9.6 76.4,11.1C76.2,12.5 75.3,15.5 74.4,17.1C73.5,18.7 72.1,20.2 71.2,20.7C70.3,21.2 69.1,20.7 68.8,19.9C68.5,19.1 68.8,17.3 69.2,15.9C69.6,14.4 70.5,12.3 71.2,11.1C71.9,9.9 72.9,9.1 73.6,8.6C74.3,8.2 75.1,7.8 75.6,8.2Z"/>
<ellipse fill="#ffff00" cx="25.4" cy="74.5" rx="3.4" ry="2.2" transform="rotate(-35 25.4 74.5)"/>
<ellipse fill="#ffffff" cx="21.0" cy="32.7" rx="0.8" ry="0.8"/>
<path fill="#80ffff" d="M104.5,34.7C104.5,34.7 95.7,35.1 93.0,34.7C90.4,34.4 90.0,33.3 88.5,32.7C86.9,32.2 85.1,31.4 83.6,31.3C82.2,31.2 81.2,31.4 80.0,32.1C78.9,32.8 77.8,34.3 76.8,35.5C75.9,36.8 75.3,38.2 74.4,39.6C73.5,40.9 71.9,42.4 71.2,43.6C70.5,44.8 71.1,46.0 70.3,46.8C69.4,47.6 67.8,48.1 66.2,48.4C64.6,48.8 62.5,48.8 60.6,48.8C58.7,48.9 56.7,48.8 55.0,48.8C53.3,48.9 51.7,49.0 50.2,49.2C48.7,49.5 47.4,49.9 46.2,50.4C45.0,51.0 43.9,51.6 43.0,52.5C42.0,53.3 41.3,54.2 40.5,55.3C39.7,56.3 38.9,57.6 38.1,58.9C37.3,60.1 36.5,61.4 35.7,62.9C34.9,64.4 34.0,66.1 33.3,67.7C32.6,69.3 32.2,71.1 31.7,72.5C31.2,74.0 30.6,75.8 30.1,76.5C29.6,77.3 29.8,76.5 28.8,77.1C27.8,77.7 25.6,79.5 24.0,80.3C22.4,81.2 20.9,81.9 19.2,82.3C17.5,82.7 15.3,82.5 13.6,82.7C11.8,82.9 10.2,83.0 8.8,83.5C7.3,84.1 5.7,85.0 4.7,85.9C3.8,86.9 3.3,88.1 3.1,89.2C3.0,90.2 3.5,91.2 3.9,92.4C4.3,93.6 5.3,94.9 5.5,96.4C5.8,97.9 5.5,101.2 5.5,101.2L120.0,110.0L104.5,34.7Z"/>
<path fill="#0080ff" d="M104.5,65.1C104.5,65.1 95.2,64.9 93.0,64.7C90.9,64.4 92.4,64.1 91.7,63.5C90.9,62.8 89.8,61.6 88.5,60.7C87.1,59.7 85.4,58.4 83.6,57.8C81.9,57.2 79.6,57.6 78.0,57.0C76.5,56.5 75.1,55.6 74.4,54.6C73.7,53.7 74.3,52.0 73.6,51.4C72.9,50.8 71.1,51.0 70.0,51.0C68.9,51.1 68.3,51.6 67.0,51.6C65.7,51.7 63.8,51.5 62.2,51.2C60.6,51.0 59.0,50.3 57.4,50.0C55.8,49.8 54.1,49.9 52.6,49.9C51.1,49.9 49.8,49.9 48.6,50.2C47.4,50.5 46.3,51.0 45.4,51.6C44.4,52.3 43.8,53.0 43.0,54.1C42.1,55.1 41.3,56.6 40.5,58.1C39.7,59.5 38.9,61.3 38.1,62.9C37.3,64.5 36.4,66.1 35.7,67.7C35.1,69.3 34.7,70.9 34.1,72.5C33.6,74.1 33.4,76.0 32.5,77.3C31.6,78.6 30.2,79.4 28.8,80.3C27.4,81.2 25.3,81.8 24.0,82.7C22.7,83.7 21.9,84.7 21.2,85.9C20.5,87.2 19.7,88.8 19.6,90.0C19.5,91.2 19.4,92.1 20.4,93.2C21.4,94.2 24.7,95.0 25.6,96.4C26.5,97.7 25.6,101.2 25.6,101.2L120.0,110.0L104.5,65.1Z"/>
<path fill="#0000ff" d="M44.6,53.3C45.4,52.3 47.2,51.6 48.6,51.2C49.9,50.8 51.1,50.8 52.6,50.8C54.1,50.9 55.8,51.2 57.4,51.6C59.0,52.1 60.8,52.6 62.2,53.3C63.6,53.9 65.0,54.7 65.8,55.7C66.6,56.6 67.2,57.9 67.0,58.9C66.8,59.8 65.6,60.5 64.6,61.3C63.7,62.1 62.3,62.8 61.4,63.7C60.5,64.6 59.5,66.0 59.4,66.9C59.3,67.8 60.2,68.5 60.6,69.3C61.0,70.1 62.0,70.9 61.8,71.7C61.7,72.6 60.5,73.7 59.8,74.5C59.1,75.4 57.7,76.1 57.4,76.9C57.1,77.8 57.5,79.0 58.2,79.8C58.9,80.5 60.5,81.4 61.4,81.4C62.3,81.4 63.0,80.8 63.4,79.8C63.8,78.7 63.6,76.3 63.8,74.9C64.1,73.5 64.2,72.2 65.0,71.3C65.8,70.5 67.4,69.9 68.6,69.7C69.9,69.5 71.7,69.8 72.7,70.1C73.7,70.5 74.2,71.1 74.7,71.7C75.1,72.4 74.8,73.2 75.5,74.1C76.1,75.1 77.3,76.3 78.7,77.3C80.0,78.4 82.3,79.3 83.6,80.3C85.0,81.4 85.7,82.6 86.9,83.5C88.1,84.5 89.8,85.4 90.9,85.9C91.9,86.5 90.8,86.6 93.0,86.8C95.3,87.0 104.5,87.2 104.5,87.2L104.5,101.2L67.1,101.5C67.1,101.5 67.8,94.0 67.1,92.3C66.3,90.6 64.5,91.6 62.5,91.1C60.4,90.6 57.9,89.7 54.8,89.2C51.7,88.8 47.4,88.9 44.1,88.5C40.8,88.1 37.4,87.3 34.9,86.9C32.3,86.6 30.0,86.8 28.8,86.4C27.6,85.9 27.1,84.8 27.6,84.3C28.1,83.8 30.4,83.6 31.7,83.4C33.1,83.1 34.9,83.4 35.7,83.0C36.6,82.5 36.6,81.5 36.9,80.6C37.3,79.6 37.6,78.7 37.7,77.3C37.9,76.0 37.5,74.1 37.7,72.5C37.9,70.9 38.3,69.3 38.9,67.7C39.5,66.1 40.6,64.6 41.3,62.9C42.1,61.2 42.8,58.9 43.4,57.3C43.9,55.7 43.7,54.3 44.6,53.3Z"/>
<path fill="#000080" d="M49.0,54.3C49.9,53.4 52.6,53.3 54.3,53.6C55.9,53.8 58.0,54.8 58.9,55.8C59.9,56.8 60.4,58.5 60.0,59.7C59.6,60.8 57.9,62.3 56.6,62.7C55.3,63.1 53.3,62.6 52.0,62.0C50.8,61.4 49.5,60.2 49.0,58.9C48.5,57.6 48.1,55.2 49.0,54.3Z"/>
<path fill="#000080" d="M46.6,66.6C47.9,66.0 49.5,65.5 50.5,66.3C51.5,67.0 52.0,69.3 52.5,71.2C53.0,73.0 53.6,75.5 53.6,77.3C53.5,79.1 53.2,81.2 52.0,81.9C50.9,82.7 48.3,82.4 46.6,81.9C45.0,81.4 43.0,80.1 42.1,78.8C41.2,77.5 41.1,75.7 41.3,74.2C41.4,72.7 41.9,70.9 42.8,69.6C43.7,68.4 45.4,67.1 46.6,66.6Z"/>
<path fill="#ff0000" d="M24.4,13.7C23.1,13.8 22.5,17.1 21.4,18.3C20.2,19.4 18.2,19.7 17.5,20.6C16.8,21.5 16.8,22.9 17.2,23.7C17.6,24.4 18.9,25.2 19.8,25.2C20.8,25.2 21.9,24.5 22.9,23.7C23.9,22.8 24.9,21.3 26.0,20.3C27.0,19.3 29.3,18.6 29.0,17.5C28.8,16.4 25.7,13.6 24.4,13.7Z"/>
<path fill="#ff8000" d="M27.5,24.4C27.8,23.9 28.9,23.4 29.5,23.7C30.1,23.9 31.0,25.2 31.0,26.0C31.1,26.7 30.4,27.8 29.8,27.9C29.2,28.1 28.0,27.6 27.6,27.0C27.3,26.4 27.2,25.0 27.5,24.4Z"/>
<ellipse fill="#ff0000" cx="2.5" cy="43.5" rx="3.8" ry="2.3"/>
<path fill="#ff0000" d="M-6.5,57.0C-5.2,56.6 -0.6,57.9 1.1,57.8C2.9,57.8 2.8,56.8 3.9,56.6C5.1,56.5 7.1,56.7 8.0,57.0C8.8,57.4 9.2,58.1 9.2,58.6C9.2,59.2 8.7,59.9 8.0,60.3C7.2,60.6 5.7,60.7 4.7,60.7C3.7,60.6 3.8,59.9 1.9,59.9C0.1,59.8 -5.1,60.7 -6.5,60.3C-7.9,59.8 -7.8,57.4 -6.5,57.0Z"/>
<ellipse fill="#800000" cx="5.9" cy="58.5" rx="0.7" ry="0.6"/>
<ellipse fill="#ffffff" cx="89.0" cy="50.5" rx="3.4" ry="3.6"/>
<ellipse fill="#0080ff" cx="77.9" cy="48.5" rx="0.8" ry="0.6" transform="rotate(-30 77.9 48.5)"/>
<ellipse fill="#ffffff" cx="68.6" cy="64.3" rx="1.0" ry="0.5"/></g>
<ellipse fill="#ffff00" cx="0.3" cy="13.7" rx="2.0" ry="1.8"/>
<ellipse fill="#ffffff" cx="0.5" cy="33.2" rx="1.7" ry="2.0"/>
</g>
<path d="M0,0.3V93.0H93.3" fill="none" stroke="#000" stroke-width="1.25" stroke-dasharray="1.25 1.42"/><path d="M-58.00,0V151.30H93.3" fill="none" stroke="#222" stroke-width="1.65" stroke-linejoin="round"/>
</g>
<g transform="translate(61.5,421.2)">
<g clip-path="url(#cp0)">
<path fill="#80ffff" d="M-9.6,-2.1L18.8,-2.1C18.8,-2.1 18.7,-1.2 18.8,0.2C18.9,1.6 19.9,4.4 19.6,6.3C19.2,8.2 18.3,10.5 16.5,11.7C14.7,12.9 12.1,13.2 8.8,13.5C5.5,13.8 -0.4,13.2 -3.4,13.2C-6.5,13.1 -9.6,13.2 -9.6,13.2L-9.6,-2.1Z"/>
<path fill="#0080ff" d="M-9.6,-2.1L11.6,-2.1C11.6,-2.1 11.5,-1.1 11.6,0.2C11.6,1.4 12.4,3.9 11.9,5.5C11.4,7.2 10.4,9.1 8.8,10.1C7.3,11.2 4.7,11.7 2.7,12.0C0.7,12.3 -1.4,12.0 -3.4,12.0C-5.5,12.0 -9.6,12.0 -9.6,12.0L-9.6,-2.1Z"/>
<path fill="#0000ff" d="M-9.6,-2.1L4.5,-2.1C4.5,-2.1 4.5,-1.0 4.5,0.2C4.6,1.3 5.3,3.3 5.0,4.8C4.7,6.2 4.1,8.0 2.7,8.9C1.3,9.8 -1.4,10.2 -3.4,10.4C-5.5,10.7 -9.6,10.4 -9.6,10.4L-9.6,-2.1Z"/>
<path fill="#000080" d="M-9.6,-2.1L-0.4,-2.1C-0.4,-2.1 0.2,2.2 -0.1,4.0C-0.3,5.8 -0.3,7.8 -1.9,8.6C-3.5,9.4 -9.6,8.9 -9.6,8.9L-9.6,-2.1Z"/>
<path fill="#ffff00" d="M-9.6,12.9C-9.6,12.9 -6.5,12.7 -3.4,12.9C-0.4,13.1 5.0,12.9 8.8,14.0C12.7,15.0 16.6,17.0 19.6,19.3C22.5,21.6 25.3,25.2 26.5,27.8C27.6,30.3 27.4,32.5 26.5,34.7C25.6,36.8 23.5,39.3 21.1,40.8C18.7,42.3 16.0,43.2 11.9,43.9C7.8,44.5 0.1,44.5 -3.4,44.6C-7.0,44.7 -9.6,44.6 -9.6,44.6L-9.6,12.9Z"/>
<path fill="#ff8000" d="M-9.6,14.0C-9.6,14.0 -6.0,13.6 -3.4,14.0C-0.9,14.3 3.0,14.7 5.8,16.3C8.6,17.8 11.6,20.6 13.4,23.2C15.2,25.7 16.5,28.9 16.5,31.6C16.5,34.3 15.2,37.3 13.4,39.3C11.6,41.2 8.6,42.3 5.8,43.1C3.0,43.9 -0.9,43.7 -3.4,43.9C-6.0,44.0 -9.6,43.9 -9.6,43.9L-9.6,14.0Z"/>
<path fill="#ff0000" d="M-9.6,24.7C-9.6,24.7 -5.5,24.6 -3.4,24.7C-1.4,24.8 0.9,24.3 2.7,25.5C4.5,26.6 6.8,29.3 7.3,31.6C7.8,33.9 6.8,37.3 5.8,39.3C4.7,41.2 2.7,42.4 1.2,43.1C-0.4,43.8 -1.6,43.5 -3.4,43.5C-5.2,43.6 -9.6,43.5 -9.6,43.5L-9.6,24.7Z"/>
<ellipse fill="#ff0000" cx="-2.7" cy="15.5" rx="3.4" ry="2.1"/>
<ellipse fill="#0000ff" cx="-1.9" cy="22.1" rx="3.4" ry="2.5"/>
<path fill="#80ffff" d="M-9.6,44.6C-9.6,44.6 -7.3,44.6 -3.4,44.6C0.4,44.6 8.8,44.1 13.4,44.6C18.0,45.1 21.5,46.2 24.2,47.7C26.8,49.2 29.1,51.8 29.5,53.8C29.9,55.9 28.6,58.4 26.5,59.9C24.3,61.5 21.5,62.5 16.5,63.0C11.5,63.5 0.9,63.0 -3.4,63.0C-7.8,63.0 -9.6,63.0 -9.6,63.0L-9.6,44.6Z"/>
<path fill="#0080ff" d="M-9.6,45.4C-9.6,45.4 -6.5,45.3 -3.4,45.4C-0.4,45.5 5.5,45.3 8.8,46.2C12.1,47.0 15.1,49.1 16.5,50.7C17.9,52.4 18.0,54.3 17.3,56.1C16.5,57.9 15.3,60.4 11.9,61.5C8.4,62.6 0.1,62.4 -3.4,62.6C-7.0,62.7 -9.6,62.6 -9.6,62.6L-9.6,45.4Z"/>
<path fill="#0000ff" d="M-9.6,46.9C-9.6,46.9 -5.7,46.8 -3.4,46.9C-1.1,47.0 2.1,46.5 4.2,47.7C6.4,48.8 9.2,51.8 9.6,53.8C10.0,55.9 8.7,58.6 6.5,59.9C4.4,61.3 -0.8,61.6 -3.4,61.9C-6.1,62.3 -9.6,61.9 -9.6,61.9L-9.6,46.9Z"/>
<ellipse fill="#000080" cx="-3.1" cy="54.6" rx="3.7" ry="5.4"/>
<path fill="#ffff00" d="M-9.6,63.3C-9.6,63.3 -6.2,63.1 -3.4,63.3C-0.6,63.5 4.0,63.6 7.3,64.5C10.6,65.5 14.7,67.5 16.5,69.1C18.3,70.8 18.5,72.6 18.0,74.5C17.5,76.4 15.2,78.9 13.4,80.6C11.6,82.4 9.5,83.7 7.3,85.2C5.1,86.8 2.2,88.6 0.4,89.8C-1.4,91.1 -1.8,92.4 -3.4,92.9C-5.1,93.4 -9.6,92.9 -9.6,92.9L-9.6,63.3Z"/>
<path fill="#ff8000" d="M-9.6,64.5C-9.6,64.5 -5.7,64.3 -3.4,64.5C-1.1,64.8 2.1,64.9 4.2,66.1C6.4,67.2 9.0,69.3 9.6,71.4C10.2,73.6 9.2,76.7 8.1,79.1C6.9,81.5 4.2,84.1 2.7,86.0C1.2,87.9 0.9,89.7 -1.1,90.6C-3.2,91.5 -9.6,91.4 -9.6,91.4L-9.6,64.5Z"/>
<path fill="#ff0000" d="M-9.6,74.5C-9.6,74.5 -5.0,74.0 -3.4,74.5C-1.9,75.0 -0.9,74.5 -0.4,77.6C0.2,80.6 1.5,90.3 -0.1,92.9C-1.6,95.5 -9.6,92.9 -9.6,92.9L-9.6,74.5Z"/>
<ellipse fill="#0000ff" cx="-2.2" cy="70.7" rx="3.1" ry="2.1"/>
<ellipse fill="#80ffff" cx="8.8" cy="87.7" rx="5.8" ry="2.8" transform="rotate(-10 8.8 87.7)"/>
<ellipse fill="#80ffff" cx="3.5" cy="91.1" rx="3.8" ry="2.8"/>
<ellipse fill="#0000ff" cx="2.4" cy="91.7" rx="2.8" ry="2.1"/>
<path fill="#0000ff" d="M-9.6,92.9L6.5,92.9L6.5,102.1L-9.6,102.1L-9.6,92.9Z"/>
<path fill="#ffff00" d="M15.0,102.1C15.0,102.1 14.4,95.7 15.0,92.9C15.5,90.1 16.4,87.1 18.0,85.2C19.7,83.4 22.8,81.9 24.9,81.9C27.1,81.9 29.5,83.4 31.1,85.2C32.6,87.1 33.6,90.1 34.1,92.9C34.6,95.7 34.1,102.1 34.1,102.1L15.0,102.1Z"/>
<path fill="#ff8000" d="M16.5,102.1C16.5,102.1 16.6,96.0 17.3,93.7C17.9,91.4 18.9,89.5 20.3,88.3C21.7,87.1 23.9,86.3 25.7,86.5C27.5,86.6 29.8,87.9 31.1,89.1C32.3,90.3 32.9,91.5 33.4,93.7C33.8,95.8 33.7,102.1 33.7,102.1L16.5,102.1Z"/>
<path fill="#ff0000" d="M6.5,102.1C6.5,102.1 5.4,95.2 6.5,93.7C7.7,92.1 11.1,93.2 13.4,92.9C15.7,92.6 18.3,92.5 20.3,92.1C22.4,91.8 23.9,90.8 25.7,90.8C27.5,90.8 29.5,91.7 31.1,92.1C32.6,92.5 34.2,91.5 34.9,93.2C35.5,94.9 34.9,102.1 34.9,102.1L6.5,102.1Z"/>
<ellipse fill="#800000" cx="25.7" cy="96.3" rx="3.8" ry="2.1"/>
<path fill="#80ffff" d="M34.1,102.1C34.1,102.1 34.0,96.0 34.1,92.9C34.2,89.8 33.6,86.1 34.9,83.7C36.2,81.3 39.4,78.8 41.8,78.6C44.2,78.5 47.8,80.6 49.4,82.9C51.1,85.3 51.1,89.7 51.4,92.9C51.8,96.1 51.4,102.1 51.4,102.1L34.1,102.1Z"/>
<path fill="#0080ff" d="M34.9,102.1C34.9,102.1 34.9,95.5 35.2,92.9C35.4,90.3 35.2,88.4 36.4,86.8C37.6,85.2 40.3,83.4 42.2,83.4C44.2,83.4 46.6,85.2 47.9,86.8C49.2,88.4 49.8,90.3 50.2,92.9C50.6,95.5 50.5,102.1 50.5,102.1L34.9,102.1Z"/>
<path fill="#0000ff" d="M35.7,102.1C35.7,102.1 36.0,94.9 36.4,92.9C36.8,90.9 36.9,91.0 38.0,90.1C39.0,89.3 41.0,88.0 42.6,88.0C44.1,88.0 46.1,89.3 47.1,90.1C48.2,91.0 48.6,90.9 49.0,92.9C49.4,94.9 49.6,102.1 49.6,102.1L35.7,102.1Z"/>
<ellipse fill="#000080" cx="43.3" cy="96.3" rx="4.6" ry="3.4"/>
<path fill="#ff8000" d="M50.5,102.1C50.5,102.1 50.6,98.5 51.0,96.3C51.4,94.0 52.3,88.6 53.0,88.6C53.7,88.6 54.7,94.0 55.1,96.3C55.5,98.5 55.4,102.1 55.4,102.1L50.5,102.1Z"/>
<path fill="#ff0000" d="M51.1,102.1C51.1,102.1 51.4,97.0 51.7,95.2C52.1,93.4 52.7,91.4 53.1,91.4C53.6,91.4 54.2,93.4 54.5,95.2C54.8,97.0 54.8,102.1 54.8,102.1L51.1,102.1Z"/>
<path fill="#80ffff" d="M54.5,102.1C54.5,102.1 54.3,96.0 54.5,92.9C54.7,89.8 54.3,86.1 55.6,83.7C56.9,81.3 60.1,78.8 62.5,78.6C64.9,78.5 68.6,80.6 70.1,82.9C71.7,85.3 71.7,89.7 72.0,92.9C72.3,96.1 72.0,102.1 72.0,102.1L54.5,102.1Z"/>
<path fill="#0080ff" d="M55.1,102.1C55.1,102.1 55.1,95.5 55.4,92.9C55.8,90.3 55.9,88.1 57.1,86.5C58.3,84.8 60.8,82.9 62.8,82.9C64.8,83.0 67.6,85.1 68.9,86.8C70.3,88.4 70.6,90.3 70.9,92.9C71.3,95.5 71.1,102.1 71.1,102.1L55.1,102.1Z"/>
<path fill="#0000ff" d="M56.0,102.1C56.0,102.1 56.2,94.9 56.7,92.9C57.1,90.9 57.5,90.7 58.6,89.8C59.7,88.9 61.7,87.5 63.2,87.5C64.8,87.5 66.7,88.9 67.8,89.8C68.9,90.7 69.5,90.9 69.8,92.9C70.2,94.9 70.1,102.1 70.1,102.1L56.0,102.1Z"/>
<ellipse fill="#000080" cx="63.2" cy="96.3" rx="4.9" ry="3.4"/>
<path fill="#80ffff" d="M70.9,102.1C70.9,102.1 71.0,95.4 71.4,92.9C71.8,90.4 72.0,88.6 73.2,87.1C74.4,85.6 76.3,84.5 78.6,84.0C80.9,83.6 84.5,83.9 87.0,84.3C89.5,84.7 91.1,85.9 93.4,86.5C95.7,87.0 100.8,87.7 100.8,87.7L100.8,102.1L70.9,102.1Z"/>
<ellipse fill="#0080ff" cx="75.5" cy="92.1" rx="2.3" ry="3.1"/>
<ellipse fill="#0000ff" cx="76.3" cy="96.0" rx="3.8" ry="1.8"/>
<path fill="#ff8000" d="M78.1,102.1C78.1,102.1 78.3,98.4 78.7,96.3C79.2,94.1 80.1,89.1 80.9,89.1C81.6,89.1 82.7,94.1 83.2,96.3C83.6,98.4 83.6,102.1 83.6,102.1L78.1,102.1Z"/>
<path fill="#ff0000" d="M79.0,102.1C79.0,102.1 79.3,96.9 79.6,95.2C80.0,93.5 80.4,92.1 80.9,92.1C81.3,92.1 81.9,93.5 82.3,95.2C82.6,96.9 82.7,102.1 82.7,102.1L79.0,102.1Z"/>
<path fill="#80ffff" d="M83.2,102.1C83.2,102.1 83.1,95.3 83.3,92.9C83.6,90.5 83.7,88.8 84.7,87.5C85.7,86.3 87.8,85.4 89.3,85.2C90.8,85.1 91.5,86.3 93.4,86.8C95.4,87.3 100.8,88.3 100.8,88.3L100.8,102.1L83.2,102.1Z"/>
<path fill="#0080ff" d="M83.9,102.1C83.9,102.1 83.9,95.8 84.2,93.7C84.6,91.6 84.9,90.5 85.8,89.5C86.6,88.5 88.0,87.8 89.3,87.7C90.6,87.6 91.5,88.7 93.4,89.1C95.4,89.4 100.8,89.8 100.8,89.8L100.8,102.1L83.9,102.1Z"/>
<path fill="#0000ff" d="M84.9,102.1C84.9,102.1 84.8,96.2 85.2,94.4C85.5,92.7 86.2,92.3 87.0,91.7C87.8,91.0 89.0,90.6 90.1,90.6C91.1,90.6 91.7,91.4 93.4,91.7C95.2,92.0 100.8,92.3 100.8,92.3L100.8,102.1L84.9,102.1Z"/>
<path fill="#ffff00" d="M100.8,70.7C100.8,70.7 95.4,70.5 93.4,71.4C91.5,72.3 90.2,74.3 89.3,76.0C88.4,77.8 87.6,80.4 87.8,82.2C87.9,84.0 89.1,85.7 90.1,86.8C91.0,87.8 91.7,88.2 93.4,88.6C95.2,89.0 100.8,89.1 100.8,89.1L100.8,70.7Z"/>
<path fill="#ff8000" d="M100.8,84.5C100.8,84.5 95.0,84.1 93.4,84.5C91.9,84.9 91.8,85.9 91.6,86.8C91.4,87.7 90.8,89.3 92.4,89.8C93.9,90.4 100.8,90.1 100.8,90.1L100.8,84.5Z"/>
</g>
<path d="M0,0.3V93.0H93.3" fill="none" stroke="#000" stroke-width="1.25" stroke-dasharray="1.25 1.42"/><path d="M-3.50,0V96.80H93.3" fill="none" stroke="#222" stroke-width="1.65" stroke-linejoin="round"/>
</g>
<g transform="translate(219.0,421.2)">
<g clip-path="url(#cp0)">
<path fill="#80ffff" d="M-10.1,-2.1L15.7,-2.1C15.7,-2.1 15.6,-1.2 15.7,0.2C15.8,1.6 16.6,4.6 16.3,6.3C16.0,8.0 15.3,9.2 13.7,10.1C12.1,11.1 9.7,11.7 6.8,12.0C3.9,12.2 -0.8,11.7 -3.6,11.7C-6.4,11.6 -10.1,11.7 -10.1,11.7L-10.1,-2.1Z"/>
<path fill="#0080ff" d="M-10.1,-2.1L9.6,-2.1C9.6,-2.1 9.5,-1.1 9.6,0.2C9.6,1.4 10.3,4.0 9.9,5.5C9.5,7.1 8.5,8.5 7.1,9.4C5.7,10.3 3.2,10.7 1.4,10.9C-0.4,11.1 -1.7,10.8 -3.6,10.7C-5.5,10.7 -10.1,10.7 -10.1,10.7L-10.1,-2.1Z"/>
<path fill="#0000ff" d="M-10.1,-2.1L3.4,-2.1C3.4,-2.1 3.4,-1.0 3.4,0.2C3.5,1.3 4.1,3.4 3.7,4.8C3.4,6.2 2.7,7.8 1.4,8.6C0.2,9.4 -1.7,9.6 -3.6,9.8C-5.5,10.0 -10.1,9.8 -10.1,9.8L-10.1,-2.1Z"/>
<path fill="#000080" d="M-10.1,-2.1L-0.6,-2.1C-0.6,-2.1 -0.0,2.3 -0.3,4.0C-0.5,5.7 -0.5,7.5 -2.1,8.3C-3.7,9.1 -10.1,8.6 -10.1,8.6L-10.1,-2.1Z"/>
<path fill="#ffff00" d="M-10.1,11.7C-10.1,11.7 -6.7,11.5 -3.6,11.7C-0.6,11.8 5.2,11.5 8.3,12.4C11.5,13.3 13.9,15.1 15.2,17.0C16.5,18.9 16.4,21.5 16.0,23.9C15.6,26.4 14.5,29.3 12.9,31.6C11.4,33.9 9.6,36.4 6.8,37.7C4.0,39.0 -0.8,39.0 -3.6,39.3C-6.4,39.5 -10.1,39.3 -10.1,39.3L-10.1,11.7Z"/>
<path fill="#ff8000" d="M-10.1,12.3C-10.1,12.3 -6.2,12.1 -3.6,12.3C-1.1,12.4 3.0,12.3 5.3,13.2C7.6,14.1 9.3,15.9 10.2,17.8C11.1,19.7 10.9,22.4 10.6,24.7C10.3,27.0 9.5,29.5 8.3,31.6C7.2,33.6 5.7,35.8 3.7,37.0C1.7,38.1 -1.3,38.2 -3.6,38.5C-5.9,38.7 -10.1,38.5 -10.1,38.5L-10.1,12.3Z"/>
<path fill="#ff0000" d="M-10.1,12.9C-10.1,12.9 -5.5,12.7 -3.6,12.9C-1.7,13.1 0.1,12.9 1.4,14.0C2.8,15.0 4.0,16.9 4.5,19.3C5.0,21.8 4.9,25.8 4.5,28.5C4.1,31.2 3.6,33.8 2.2,35.4C0.8,37.0 -1.6,37.6 -3.6,38.0C-5.7,38.5 -10.1,38.0 -10.1,38.0L-10.1,12.9Z"/>
<ellipse fill="#ffff00" cx="-1.2" cy="23.2" rx="1.2" ry="1.5"/>
<path fill="#80ffff" d="M-10.1,39.6C-10.1,39.6 -5.7,39.6 -3.6,39.6C-1.6,39.5 -0.3,39.9 2.2,39.3C4.7,38.6 7.8,36.4 11.4,35.4C15.0,34.4 20.1,32.9 23.7,33.1C27.2,33.4 30.6,34.9 32.9,37.0C35.1,39.0 36.8,42.2 37.1,45.4C37.5,48.6 36.6,53.0 35.2,56.1C33.7,59.2 30.9,62.0 28.3,63.8C25.6,65.6 22.4,66.5 19.1,66.8C15.7,67.2 12.1,66.6 8.3,66.1C4.5,65.6 -0.6,64.2 -3.6,63.8C-6.7,63.4 -10.1,63.8 -10.1,63.8L-10.1,39.6Z"/>
<path fill="#0080ff" d="M-10.1,40.0C-10.1,40.0 -6.7,39.9 -3.6,40.0C-0.6,40.1 4.8,39.9 8.3,40.8C11.9,41.7 15.5,43.3 17.5,45.4C19.5,47.4 20.3,50.5 20.3,53.0C20.3,55.6 19.3,58.9 17.5,60.7C15.8,62.5 13.4,63.3 9.9,63.8C6.3,64.3 -0.3,63.8 -3.6,63.8C-6.9,63.8 -10.1,63.8 -10.1,63.8L-10.1,40.0Z"/>
<path fill="#0000ff" d="M-10.1,48.4C-10.1,48.4 -5.9,48.2 -3.6,48.4C-1.3,48.7 1.6,48.8 3.7,50.0C5.9,51.1 8.5,53.6 9.1,55.3C9.7,57.1 9.0,59.4 7.6,60.7C6.2,62.0 2.5,62.6 0.7,63.0C-1.2,63.4 -1.8,63.0 -3.6,63.0C-5.4,63.0 -10.1,63.0 -10.1,63.0L-10.1,48.4Z"/>
<ellipse fill="#0000ff" cx="-1.6" cy="44.2" rx="4.3" ry="3.7"/>
<ellipse fill="#ff0000" cx="-2.4" cy="53.0" rx="2.5" ry="2.1"/>
<path fill="#ffff00" d="M-10.1,63.8C-10.1,63.8 -6.2,63.3 -3.6,63.8C-1.1,64.3 2.2,65.6 5.3,66.8C8.3,68.1 11.4,70.2 14.5,71.4C17.5,72.7 21.0,73.4 23.7,74.5C26.3,75.7 28.9,76.6 30.6,78.3C32.2,80.1 32.7,82.8 33.6,85.2C34.5,87.7 35.4,90.1 35.9,92.9C36.4,95.7 36.7,102.1 36.7,102.1L-10.1,102.1L-10.1,63.8Z"/>
<path fill="#ff8000" d="M-10.1,64.7C-10.1,64.7 -6.1,64.6 -3.6,65.0C-1.2,65.4 2.4,65.8 4.5,66.8C6.6,67.9 8.7,70.0 9.1,71.4C9.5,72.8 7.9,74.8 6.8,75.3C5.6,75.8 3.5,75.1 2.2,74.5C0.9,73.9 1.2,72.0 -0.9,71.4C-2.9,70.9 -10.1,71.4 -10.1,71.4L-10.1,64.7Z"/>
<path fill="#ff0000" d="M-10.1,65.0C-10.1,65.0 -5.4,65.0 -3.6,65.3C-1.8,65.6 -0.3,66.2 0.7,66.8C1.6,67.5 2.5,68.6 2.2,69.1C1.9,69.7 1.2,70.0 -0.9,70.2C-2.9,70.4 -10.1,70.2 -10.1,70.2L-10.1,65.0Z"/>
<path fill="#ffffff" d="M2.2,76.0C3.1,75.3 5.1,76.4 6.0,77.6C7.0,78.7 7.9,81.3 7.9,82.9C7.9,84.6 7.0,86.6 6.0,87.5C5.1,88.4 3.1,89.2 2.2,88.3C1.3,87.4 0.7,84.2 0.7,82.2C0.7,80.1 1.3,76.8 2.2,76.0Z"/>
<path fill="#0080ff" d="M-10.1,70.7C-10.1,70.7 -5.8,70.0 -3.6,70.7C-1.5,71.3 1.4,72.6 3.0,74.5C4.6,76.4 6.2,80.1 6.0,82.2C5.9,84.3 3.8,86.3 2.2,87.1C0.6,87.9 -1.6,87.1 -3.6,87.1C-5.7,87.1 -10.1,87.1 -10.1,87.1L-10.1,70.7Z"/>
<path fill="#0000ff" d="M-10.1,78.3C-10.1,78.3 -5.4,78.1 -3.6,78.3C-1.8,78.6 -0.4,79.0 0.7,79.9C1.7,80.8 2.6,82.6 2.5,83.7C2.4,84.8 0.9,86.0 -0.1,86.5C-1.1,86.9 -2.0,86.5 -3.6,86.5C-5.3,86.5 -10.1,86.5 -10.1,86.5L-10.1,78.3Z"/>
<path fill="#ff8000" d="M-10.1,102.1L-10.1,92.9C-10.1,92.9 -5.7,93.0 -3.6,92.6C-1.6,92.2 0.3,91.5 2.2,90.6C4.1,89.7 5.3,88.1 7.6,87.1C9.9,86.1 13.1,84.9 16.0,84.5C18.9,84.0 22.6,84.0 25.2,84.5C27.7,85.0 29.5,86.1 31.3,87.5C33.1,88.9 34.9,90.5 35.9,92.9C36.9,95.3 37.5,102.1 37.5,102.1L-10.1,102.1Z"/>
<path fill="#ff0000" d="M-10.1,102.1L-10.1,94.1C-10.1,94.1 -2.1,94.3 2.2,94.1C6.5,93.9 11.9,93.1 16.0,92.9C20.1,92.7 23.7,92.8 26.7,92.9C29.8,93.0 32.5,93.1 34.4,93.7C36.2,94.2 37.2,94.9 37.8,96.3C38.3,97.7 37.8,102.1 37.8,102.1L-10.1,102.1Z"/>
<path fill="#80ffff" d="M34.1,102.1C34.1,102.1 34.2,95.7 34.4,92.9C34.6,90.1 34.1,87.3 35.2,85.2C36.2,83.2 38.5,80.9 40.5,80.6C42.6,80.4 45.5,81.7 47.4,83.7C49.3,85.7 51.2,89.8 52.0,92.9C52.8,96.0 52.0,102.1 52.0,102.1L34.1,102.1Z"/>
<path fill="#0080ff" d="M35.6,102.1C35.6,102.1 35.6,95.3 35.9,92.9C36.2,90.5 36.4,88.9 37.5,87.5C38.5,86.1 40.5,84.5 42.1,84.5C43.6,84.5 45.3,86.1 46.6,87.5C48.0,88.9 49.4,90.5 50.0,92.9C50.7,95.3 50.5,102.1 50.5,102.1L35.6,102.1Z"/>
<path fill="#0000ff" d="M37.5,102.1C37.5,102.1 37.8,95.6 38.2,93.7C38.6,91.8 38.9,91.4 39.8,90.6C40.6,89.8 42.4,88.9 43.6,89.1C44.8,89.2 46.1,90.5 47.0,91.4C47.9,92.3 48.5,92.6 48.9,94.4C49.4,96.2 49.4,102.1 49.4,102.1L37.5,102.1Z"/>
<ellipse fill="#000080" cx="44.4" cy="96.0" rx="4.6" ry="2.8"/>
<path fill="#80ffff" d="M55.1,102.1C55.1,102.1 55.5,95.7 55.8,92.9C56.2,90.1 56.4,87.4 57.4,85.2C58.4,83.1 60.4,81.0 62.0,79.9C63.5,78.7 64.3,78.2 66.6,78.3C68.9,78.5 72.7,79.4 75.8,80.6C78.8,81.9 82.2,84.3 85.0,86.0C87.8,87.7 90.1,89.5 92.6,90.6C95.2,91.8 100.3,92.9 100.3,92.9L100.3,102.1L55.1,102.1Z"/>
<path fill="#ffff00" d="M51.6,69.9C53.0,69.9 54.9,70.4 55.8,71.4C56.8,72.5 57.4,74.3 57.4,76.0C57.4,77.8 56.4,80.1 55.8,82.2C55.3,84.2 54.6,86.3 54.3,88.3C54.0,90.3 54.4,93.4 54.0,94.4C53.6,95.5 52.5,95.7 52.0,94.4C51.5,93.2 51.6,88.9 50.9,86.8C50.3,84.6 49.0,83.2 48.2,81.4C47.3,79.6 46.0,77.7 45.9,76.0C45.8,74.4 46.5,72.5 47.4,71.4C48.4,70.4 50.1,69.9 51.6,69.9Z"/>
<path fill="#ff8000" d="M51.6,102.1C51.6,102.1 51.7,95.2 52.0,92.9C52.3,90.7 53.0,88.6 53.5,88.6C54.1,88.6 54.7,90.7 55.1,92.9C55.5,95.2 55.8,102.1 55.8,102.1L51.6,102.1Z"/>
<path fill="#ff0000" d="M52.5,102.1C52.5,102.1 52.6,96.7 52.8,95.2C53.0,93.7 53.4,92.9 53.7,92.9C54.0,92.9 54.4,93.7 54.6,95.2C54.8,96.7 54.9,102.1 54.9,102.1L52.5,102.1Z"/>
<path fill="#0080ff" d="M56.2,102.1C56.2,102.1 56.2,95.5 56.6,92.9C57.1,90.3 57.5,88.1 58.9,86.5C60.3,84.8 62.7,83.1 65.0,82.9C67.3,82.7 70.2,84.3 72.7,85.2C75.3,86.1 77.8,87.0 80.4,88.3C82.9,89.6 86.2,90.6 88.0,92.9C89.8,95.2 91.1,102.1 91.1,102.1L56.2,102.1Z"/>
<path fill="#0000ff" d="M57.1,102.1C57.1,102.1 57.5,95.2 58.1,92.9C58.8,90.6 59.9,89.3 61.2,88.3C62.5,87.3 64.4,86.5 65.8,86.8C67.2,87.0 68.5,88.8 69.6,89.8C70.8,90.9 71.7,92.9 72.7,92.9C73.7,93.0 74.8,90.4 75.8,90.1C76.8,89.8 77.8,90.3 78.8,91.1C79.9,91.8 81.3,92.6 81.9,94.4C82.5,96.3 82.7,102.1 82.7,102.1L57.1,102.1Z"/>
<ellipse fill="#000080" cx="63.5" cy="95.2" rx="4.6" ry="2.8"/>
<ellipse fill="#000080" cx="76.5" cy="95.2" rx="3.4" ry="2.1"/>
<ellipse fill="#0000ff" cx="87.3" cy="96.0" rx="3.4" ry="1.5"/>
<path fill="#ffff00" d="M100.3,74.5C100.3,74.5 94.7,74.6 92.9,75.3C91.2,75.9 90.2,76.7 89.6,78.3C89.0,80.0 89.0,83.1 89.3,85.2C89.5,87.4 90.5,90.1 91.1,91.4C91.7,92.6 91.4,92.6 92.9,92.9C94.5,93.2 100.3,93.2 100.3,93.2L100.3,74.5Z"/>
<ellipse fill="#ff8000" cx="70.4" cy="95.7" rx="1.2" ry="0.9"/>
<ellipse fill="#ff8000" cx="81.9" cy="95.7" rx="1.5" ry="1.1"/>
</g>
<path d="M0,0.3V93.0H93.3" fill="none" stroke="#000" stroke-width="1.25" stroke-dasharray="1.25 1.42"/><path d="M-3.50,0V96.80H93.3" fill="none" stroke="#222" stroke-width="1.65" stroke-linejoin="round"/>
</g>
<g transform="translate(376.5,421.2)">
<g clip-path="url(#cp0)">
<ellipse fill="#80ffff" cx="-3.1" cy="7.1" rx="5.5" ry="3.4"/>
<ellipse fill="#ffff00" cx="-3.1" cy="15.5" rx="6.1" ry="3.4"/>
<ellipse fill="#ff8000" cx="-3.1" cy="15.5" rx="3.4" ry="2.4"/>
<ellipse fill="#80ffff" cx="-3.1" cy="28.2" rx="7.7" ry="5.2"/>
<ellipse fill="#0080ff" cx="-3.1" cy="28.2" rx="4.0" ry="4.2"/>
<ellipse fill="#ffff00" cx="-3.1" cy="38.2" rx="5.5" ry="3.1"/>
<ellipse fill="#ff8000" cx="-3.1" cy="38.2" rx="3.7" ry="2.3"/>
<path fill="#80ffff" d="M-9.6,40.8C-9.6,40.8 -5.2,40.7 -2.7,40.8C-0.1,40.9 3.1,40.7 5.8,41.6C8.4,42.4 11.4,44.0 13.4,46.2C15.4,48.3 17.2,51.9 17.7,54.6C18.2,57.3 17.7,60.1 16.5,62.2C15.3,64.4 12.4,66.5 10.4,67.6C8.3,68.8 5.5,68.2 4.2,69.1C3.0,70.0 3.8,72.2 2.7,73.0C1.5,73.7 -0.6,73.6 -2.7,73.7C-4.7,73.9 -9.6,73.7 -9.6,73.7L-9.6,40.8Z"/>
<path fill="#0080ff" d="M-9.6,48.4C-9.6,48.4 -4.6,48.2 -2.7,48.4C-0.8,48.7 0.8,48.7 1.9,50.0C3.1,51.3 4.2,54.2 4.2,56.1C4.2,58.0 3.1,60.3 1.9,61.5C0.8,62.6 -0.8,62.8 -2.7,63.0C-4.6,63.3 -9.6,63.0 -9.6,63.0L-9.6,48.4Z"/>
<ellipse fill="#0000ff" cx="-3.1" cy="56.1" rx="3.4" ry="4.9"/>
<ellipse fill="#ffff00" cx="-1.1" cy="66.1" rx="1.8" ry="1.5"/>
<ellipse fill="#ffffff" cx="1.5" cy="66.5" rx="1.2" ry="1.4"/>
<ellipse fill="#ffff00" cx="-3.1" cy="80.6" rx="5.8" ry="4.9"/>
<ellipse fill="#80ffff" cx="14.7" cy="96.6" rx="3.7" ry="6.7"/>
<ellipse fill="#0080ff" cx="14.7" cy="96.6" rx="2.2" ry="2.5"/>
<ellipse fill="#ffff00" cx="22.3" cy="96.6" rx="3.1" ry="3.1"/>
<ellipse fill="#ffff00" cx="57.9" cy="96.6" rx="12.6" ry="7.7"/>
<ellipse fill="#ffff00" cx="85.8" cy="96.6" rx="3.7" ry="4.6"/>
<ellipse fill="#ffff00" cx="34.9" cy="96.6" rx="2.1" ry="2.1"/>
<ellipse fill="#80ffff" cx="40.7" cy="96.6" rx="1.8" ry="2.5"/>
<ellipse fill="#80ffff" cx="91.6" cy="96.6" rx="1.5" ry="2.5"/>
<ellipse fill="#ffff00" cx="7.3" cy="96.6" rx="1.8" ry="1.8"/>
<ellipse fill="#ff8000" cx="77.0" cy="96.6" rx="4.6" ry="1.2"/>
</g>
<path d="M0,0.3V93.0H93.3" fill="none" stroke="#000" stroke-width="1.25" stroke-dasharray="1.25 1.42"/><path d="M-3.50,0V96.80H93.3" fill="none" stroke="#222" stroke-width="1.65" stroke-linejoin="round"/>
</g>
<g transform="translate(534.0,421.2)">
<g clip-path="url(#cp0)">
<ellipse fill="#ffff00" cx="-3.0" cy="2.5" rx="3.7" ry="3.4"/>
<ellipse fill="#80ffff" cx="-3.0" cy="9.4" rx="7.7" ry="2.5"/>
<ellipse fill="#ffff00" cx="-3.0" cy="15.2" rx="5.1" ry="2.8"/>
<ellipse fill="#ff8000" cx="-3.0" cy="15.2" rx="3.4" ry="2.2"/>
<path fill="#80ffff" d="M-10.1,17.8C-10.1,17.8 -6.0,17.8 -3.2,17.8C-0.4,17.7 4.4,16.6 6.8,17.5C9.2,18.4 10.7,21.1 11.1,23.2C11.5,25.3 9.7,27.9 9.1,30.1C8.5,32.2 8.5,34.3 7.6,36.2C6.7,38.1 5.5,40.4 3.7,41.6C1.9,42.7 -0.9,42.8 -3.2,43.1C-5.5,43.3 -10.1,43.1 -10.1,43.1L-10.1,17.8Z"/>
<ellipse fill="#ffffff" cx="3.1" cy="29.7" rx="2.0" ry="2.8"/>
<ellipse fill="#0080ff" cx="-3.0" cy="22.4" rx="3.7" ry="2.5"/>
<ellipse fill="#ffff00" cx="-3.0" cy="29.4" rx="4.0" ry="2.5"/>
<ellipse fill="#ff8000" cx="-3.0" cy="29.4" rx="2.5" ry="1.7"/>
<ellipse fill="#0080ff" cx="-3.0" cy="35.0" rx="1.8" ry="1.5"/>
<ellipse fill="#ffff00" cx="-3.0" cy="49.7" rx="7.7" ry="5.8"/>
<ellipse fill="#ff8000" cx="-3.0" cy="49.7" rx="4.6" ry="5.0"/>
<ellipse fill="#80ffff" cx="-3.0" cy="60.3" rx="13.0" ry="4.6"/>
<ellipse fill="#0080ff" cx="-3.0" cy="60.3" rx="4.6" ry="3.9"/>
<ellipse fill="#0000ff" cx="-3.0" cy="60.3" rx="2.5" ry="2.8"/>
<ellipse fill="#ffff00" cx="-3.0" cy="66.8" rx="4.0" ry="2.5"/>
<ellipse fill="#ff8000" cx="-3.0" cy="66.8" rx="2.5" ry="1.7"/>
<ellipse fill="#80ffff" cx="-3.0" cy="81.4" rx="5.8" ry="4.0"/>
<ellipse fill="#ffff00" cx="-3.0" cy="73.7" rx="1.8" ry="1.5"/>
<ellipse fill="#80ffff" cx="15.7" cy="96.6" rx="2.8" ry="4.6"/>
<ellipse fill="#ffff00" cx="31.3" cy="96.6" rx="9.2" ry="5.8"/>
<ellipse fill="#ffff00" cx="62.7" cy="96.6" rx="2.5" ry="3.1"/>
<ellipse fill="#80ffff" cx="74.5" cy="96.6" rx="5.8" ry="9.2"/>
<ellipse fill="#0080ff" cx="74.5" cy="96.6" rx="3.2" ry="3.1"/>
<ellipse fill="#ffff00" cx="89.3" cy="96.6" rx="5.2" ry="8.4"/>
<ellipse fill="#ff8000" cx="89.3" cy="96.6" rx="2.6" ry="3.1"/>
<ellipse fill="#ffff00" cx="46.6" cy="96.6" rx="3.1" ry="1.5"/>
<ellipse fill="#0080ff" cx="58.1" cy="96.6" rx="2.1" ry="1.2"/>
</g>
<path d="M0,0.3V93.0H93.3" fill="none" stroke="#000" stroke-width="1.25" stroke-dasharray="1.25 1.42"/><path d="M-3.50,0V96.80H93.3" fill="none" stroke="#222" stroke-width="1.65" stroke-linejoin="round"/>
</g>
<g transform="translate(61.5,523.8)">
<g clip-path="url(#cp1)">
<path fill="#ffff00" d="M-10.3,-8.4L24.4,-8.4C24.4,-8.4 24.6,-3.5 24.4,0.1C24.3,3.8 24.4,9.4 23.5,13.4C22.6,17.5 21.2,21.2 18.9,24.4C16.7,27.6 13.2,30.5 9.8,32.6C6.5,34.7 2.8,36.1 -1.1,37.2C-5.1,38.2 -10.2,38.7 -13.9,39.0C-17.6,39.3 -20.5,39.0 -23.6,39.0C-26.6,39.0 -32.1,39.0 -32.1,39.0L-32.1,13.4C-32.1,13.4 -26.0,13.6 -23.6,13.4C-21.1,13.3 -19.6,13.4 -17.6,12.5C-15.5,11.6 -12.7,10.0 -11.2,8.0C-9.6,5.9 -8.2,2.9 -8.1,0.1C-7.9,-2.6 -10.3,-8.4 -10.3,-8.4Z"/>
<path fill="#80ffff" d="M-32.1,-8.4L-11.2,-8.4C-11.2,-8.4 -10.9,-2.3 -11.2,0.1C-11.5,2.6 -11.9,4.5 -13.0,6.1C-14.1,7.8 -15.8,9.3 -17.6,10.2C-19.3,11.1 -21.1,11.4 -23.6,11.6C-26.0,11.9 -32.1,11.6 -32.1,11.6L-32.1,-8.4Z"/>
<path fill="#0080ff" d="M-32.1,-8.4L-14.8,-8.4C-14.8,-8.4 -14.6,-2.2 -14.8,0.1C-15.0,2.4 -15.3,3.8 -16.1,5.2C-16.9,6.7 -18.1,8.0 -19.4,8.9C-20.6,9.8 -21.4,10.3 -23.6,10.5C-25.7,10.8 -32.1,10.5 -32.1,10.5L-32.1,-8.4Z"/>
<path fill="#0000ff" d="M-32.1,-8.4L-18.5,-8.4C-18.5,-8.4 -18.3,-2.2 -18.5,0.1C-18.6,2.4 -18.9,3.9 -19.4,5.2C-19.8,6.6 -20.5,7.6 -21.2,8.3C-21.9,9.0 -21.7,9.3 -23.6,9.4C-25.4,9.6 -32.1,9.4 -32.1,9.4L-32.1,-8.4Z"/>
<path fill="#000080" d="M-32.1,-8.4L-21.2,-8.4C-21.2,-8.4 -21.1,-2.3 -21.2,0.1C-21.3,2.6 -21.5,4.8 -21.9,6.1C-22.3,7.5 -21.9,8.0 -23.6,8.3C-25.3,8.7 -32.1,8.3 -32.1,8.3L-32.1,-8.4Z"/>
<path fill="#ff8000" d="M-32.1,11.6C-32.1,11.6 -26.6,11.7 -23.6,11.6C-20.5,11.6 -16.9,10.8 -13.9,11.3C-10.9,11.7 -7.8,12.8 -5.7,14.4C-3.6,15.9 -1.9,18.6 -1.1,20.7C-0.4,22.9 -0.2,25.0 -1.1,27.1C-2.0,29.3 -4.2,31.9 -6.6,33.5C-9.0,35.1 -12.9,36.1 -15.7,36.8C-18.6,37.5 -20.8,37.4 -23.6,37.5C-26.3,37.7 -32.1,37.5 -32.1,37.5L-32.1,11.6Z"/>
<path fill="#ff0000" d="M-32.1,15.3C-32.1,15.3 -26.0,15.1 -23.6,15.3C-21.1,15.4 -19.3,15.0 -17.6,16.2C-15.8,17.4 -13.6,20.1 -13.0,22.6C-12.4,25.0 -12.8,28.7 -13.9,30.8C-15.0,32.9 -17.8,34.4 -19.4,35.3C-21.0,36.3 -21.4,36.1 -23.6,36.3C-25.7,36.4 -32.1,36.3 -32.1,36.3L-32.1,15.3Z"/>
<path fill="#80ffff" d="M-32.1,39.0C-32.1,39.0 -27.8,38.9 -23.6,39.0C-19.3,39.1 -11.3,38.8 -6.6,39.4C-1.9,40.0 1.6,41.0 4.3,42.6C7.1,44.3 9.7,46.8 9.8,49.0C10.0,51.3 7.7,54.5 5.3,56.3C2.8,58.2 0.0,59.2 -4.8,60.0C-9.6,60.7 -19.0,60.7 -23.6,60.9C-28.1,61.0 -32.1,60.9 -32.1,60.9L-32.1,39.0Z"/>
<path fill="#0080ff" d="M-32.1,39.9C-32.1,39.9 -27.2,39.8 -23.6,39.9C-19.9,40.1 -13.8,39.9 -10.3,40.8C-6.7,41.7 -3.6,43.7 -2.0,45.4C-0.5,47.1 -0.5,48.9 -1.1,50.9C-1.7,52.8 -1.9,55.7 -5.7,57.2C-9.4,58.8 -19.2,59.5 -23.6,60.0C-28.0,60.4 -32.1,60.0 -32.1,60.0L-32.1,39.9Z"/>
<path fill="#0000ff" d="M-32.1,41.7C-32.1,41.7 -26.2,41.4 -23.6,41.7C-21.0,42.0 -18.4,42.2 -16.6,43.6C-14.9,44.9 -13.1,47.8 -13.0,49.9C-12.8,52.1 -14.0,55.0 -15.7,56.3C-17.5,57.7 -20.8,57.9 -23.6,58.2C-26.3,58.5 -32.1,58.2 -32.1,58.2L-32.1,41.7Z"/>
<ellipse fill="#000080" cx="-24.1" cy="50.3" rx="2.9" ry="4.4"/>
<path fill="#ffff00" d="M-32.1,60.9C-32.1,60.9 -28.4,60.8 -23.6,60.9C-18.7,61.0 -8.2,60.5 -3.0,61.3C2.3,62.0 5.3,63.4 8.0,65.5C10.7,67.5 13.0,70.8 13.5,73.7C13.9,76.6 12.3,80.1 10.7,82.8C9.2,85.5 6.9,88.0 4.3,90.1C1.8,92.2 -0.1,94.4 -4.8,95.6C-9.4,96.7 -19.0,96.8 -23.6,97.0C-28.1,97.3 -32.1,97.0 -32.1,97.0L-32.1,60.9Z"/>
<path fill="#ff8000" d="M-32.1,61.8C-32.1,61.8 -27.5,61.6 -23.6,61.8C-19.6,62.0 -12.5,62.0 -8.4,63.1C-4.4,64.1 -1.4,65.8 0.7,68.2C2.8,70.6 4.3,74.3 4.3,77.3C4.3,80.4 2.8,83.9 0.7,86.4C-1.4,89.0 -4.4,91.5 -8.4,92.8C-12.5,94.2 -19.6,94.3 -23.6,94.7C-27.5,95.0 -32.1,94.7 -32.1,94.7L-32.1,61.8Z"/>
<path fill="#ff0000" d="M-32.1,63.6C-32.1,63.6 -26.3,63.3 -23.6,63.6C-20.8,63.9 -18.1,64.1 -15.7,65.5C-13.4,66.8 -10.5,69.3 -9.3,71.8C-8.2,74.4 -8.2,78.2 -8.8,81.0C-9.4,83.7 -10.5,86.6 -13.0,88.3C-15.5,89.9 -20.4,90.5 -23.6,91.0C-26.8,91.5 -32.1,91.0 -32.1,91.0L-32.1,63.6Z"/>
<ellipse fill="#800000" cx="-24.1" cy="75.5" rx="1.8" ry="3.6"/>
<path fill="#80ffff" d="M-32.1,95.9C-32.1,95.9 -26.6,96.4 -23.6,96.7C-20.5,97.0 -17.0,97.7 -13.9,97.8C-10.8,97.8 -7.7,97.8 -4.8,97.0C-1.9,96.2 0.8,94.6 3.4,92.8C6.0,91.1 8.1,88.9 10.7,86.4C13.3,84.0 15.9,80.2 18.9,78.2C22.0,76.3 25.9,74.7 29.0,74.6C32.0,74.4 35.2,75.6 37.2,77.3C39.2,79.0 40.1,81.9 40.8,84.6C41.6,87.4 41.1,90.7 41.8,93.7C42.4,96.8 43.1,100.3 44.5,102.9C45.9,105.4 47.5,107.7 50.0,109.3C52.4,110.8 56.4,112.1 59.1,112.0C61.8,111.8 64.1,108.8 66.4,108.3C68.7,107.9 71.1,108.3 72.8,109.3C74.5,110.2 75.7,111.5 76.4,113.8C77.2,116.1 77.3,122.9 77.3,122.9L-32.1,122.9L-32.1,95.9Z"/>
<path fill="#0080ff" d="M-32.1,96.5C-32.1,96.5 -26.6,96.4 -23.6,97.0C-20.5,97.6 -17.3,99.2 -13.9,100.1C-10.5,101.1 -6.3,103.3 -3.0,102.9C0.4,102.4 2.8,99.2 6.2,97.4C9.5,95.6 13.5,92.8 17.1,91.9C20.8,91.0 25.2,91.0 28.1,91.9C31.0,92.8 32.8,95.3 34.5,97.4C36.1,99.5 36.4,102.3 38.1,104.7C39.8,107.1 42.2,110.3 44.5,112.0C46.8,113.7 48.8,114.4 51.8,114.7C54.8,115.0 59.7,114.3 62.7,113.8C65.8,113.4 68.1,111.6 70.0,112.0C72.0,112.4 73.7,114.4 74.6,116.2C75.5,118.0 75.5,122.9 75.5,122.9L-32.1,122.9L-32.1,96.5Z"/>
<ellipse fill="#0000ff" cx="-24.5" cy="107.4" rx="3.3" ry="5.1"/>
<path fill="#0000ff" d="M9.8,122.9C9.8,122.9 10.0,118.2 10.7,116.2C11.5,114.2 12.4,112.2 14.4,111.1C16.4,109.9 20.0,109.1 22.6,109.3C25.2,109.4 28.1,110.8 29.9,112.0C31.7,113.1 32.8,114.4 33.5,116.2C34.3,118.0 34.5,122.9 34.5,122.9L9.8,122.9Z"/>
<path fill="#80ffff" d="M-15.7,122.9C-15.7,122.9 -15.7,117.9 -14.8,116.2C-13.9,114.5 -11.9,113.6 -10.3,112.9C-8.6,112.2 -6.6,111.4 -4.8,112.0C-3.0,112.5 -0.4,114.4 0.7,116.2C1.8,118.0 1.6,122.9 1.6,122.9L-15.7,122.9Z"/>
<path fill="#ffff00" d="M58.2,89.2C61.4,88.9 65.2,90.9 67.3,92.8C69.4,94.8 71.1,98.3 71.0,101.0C70.8,103.8 68.7,107.1 66.4,109.3C64.1,111.4 60.2,113.5 57.3,113.8C54.4,114.1 51.0,112.9 49.1,111.1C47.1,109.3 45.6,105.6 45.4,102.9C45.3,100.1 46.0,96.9 48.1,94.7C50.3,92.4 55.0,89.5 58.2,89.2Z"/>
<ellipse fill="#ff8000" cx="54.5" cy="108.7" rx="2.2" ry="2.2"/>
<path fill="#ffff00" d="M76.4,122.9C76.4,122.9 76.9,118.6 77.3,116.2C77.8,113.8 77.9,110.3 79.2,108.3C80.4,106.4 82.8,104.6 84.6,104.3C86.5,104.0 88.7,105.2 90.1,106.5C91.6,107.8 91.9,110.8 93.4,112.0C94.9,113.2 99.2,113.8 99.2,113.8L99.2,122.9L76.4,122.9Z"/>
<path fill="#ff8000" d="M78.8,122.9C78.8,122.9 78.6,118.0 79.2,116.2C79.7,114.4 80.7,112.9 81.9,112.0C83.1,111.0 84.9,110.4 86.5,110.5C88.0,110.7 89.9,112.0 91.0,112.9C92.2,113.8 92.0,115.4 93.4,116.2C94.8,116.9 99.2,117.5 99.2,117.5L99.2,122.9L78.8,122.9Z"/>
</g>
<path d="M0,0.3V93.0H93.3" fill="none" stroke="#000" stroke-width="1.25" stroke-dasharray="1.25 1.42"/><path d="M-23.60,0V116.90H93.3" fill="none" stroke="#222" stroke-width="1.65" stroke-linejoin="round"/>
</g>
<g transform="translate(219.0,523.8)">
<g clip-path="url(#cp1)">
<path fill="#ffff00" d="M-32.6,-8.4L13.9,-8.4C13.9,-8.4 14.9,-2.2 13.9,0.1C12.8,2.4 10.1,3.6 7.5,5.2C4.9,6.8 1.3,8.3 -1.6,9.8C-4.5,11.3 -7.7,12.5 -9.8,14.4C-12.0,16.2 -13.0,18.8 -14.4,20.7C-15.8,22.7 -16.5,24.7 -18.1,26.2C-19.6,27.7 -21.1,29.1 -23.5,29.9C-26.0,30.6 -32.6,30.8 -32.6,30.8L-32.6,-8.4Z"/>
<path fill="#ffffff" d="M-32.6,-8.4L-17.7,-8.4C-17.7,-8.4 -17.9,-2.2 -17.7,0.1C-17.4,2.4 -16.0,3.5 -16.2,5.2C-16.4,7.0 -17.7,9.8 -19.0,10.7C-20.2,11.6 -21.2,10.7 -23.5,10.7C-25.8,10.7 -32.6,10.7 -32.6,10.7L-32.6,-8.4Z"/>
<ellipse fill="#80ffff" cx="-23.5" cy="5.8" rx="2.6" ry="3.6"/>
<path fill="#ff8000" d="M-32.6,13.4C-32.6,13.4 -25.7,13.1 -23.5,13.4C-21.4,13.8 -20.6,13.8 -19.9,15.3C-19.1,16.8 -18.4,20.3 -19.0,22.6C-19.6,24.9 -21.2,27.8 -23.5,29.0C-25.8,30.1 -32.6,29.5 -32.6,29.5L-32.6,13.4Z"/>
<path fill="#80ffff" d="M-32.6,29.9C-32.6,29.9 -26.3,30.8 -23.5,29.9C-20.8,29.0 -18.7,26.2 -16.2,24.4C-13.8,22.6 -12.3,20.0 -8.9,18.9C-5.6,17.9 -0.7,17.6 3.8,18.0C8.4,18.5 14.3,19.5 18.4,21.7C22.6,23.8 26.0,27.3 28.5,30.8C30.9,34.3 32.9,38.2 33.0,42.6C33.2,47.1 31.5,53.1 29.4,57.2C27.3,61.3 23.9,64.8 20.3,67.3C16.6,69.7 11.8,71.4 7.5,71.8C3.2,72.3 -1.6,70.8 -5.3,70.0C-8.9,69.3 -11.4,67.7 -14.4,67.3C-17.4,66.8 -20.5,67.3 -23.5,67.3C-26.6,67.3 -32.6,67.3 -32.6,67.3L-32.6,29.9Z"/>
<path fill="#0080ff" d="M-32.6,30.8C-32.6,30.8 -26.6,31.3 -23.5,30.8C-20.5,30.3 -17.7,28.0 -14.4,27.7C-11.1,27.4 -6.8,27.5 -3.5,29.0C-0.1,30.4 3.7,33.4 5.7,36.3C7.6,39.1 8.4,42.8 8.4,46.3C8.4,49.8 7.6,54.2 5.7,57.2C3.7,60.3 -0.1,63.0 -3.5,64.5C-6.8,66.1 -11.1,66.2 -14.4,66.4C-17.7,66.5 -20.5,65.6 -23.5,65.5C-26.6,65.3 -32.6,65.5 -32.6,65.5L-32.6,30.8Z"/>
<path fill="#0000ff" d="M-32.6,48.1C-32.6,48.1 -26.0,48.3 -23.5,48.1C-21.1,48.0 -19.5,46.6 -18.1,47.2C-16.6,47.8 -15.1,49.9 -14.8,51.8C-14.5,53.6 -15.2,56.3 -16.2,58.2C-17.2,60.0 -19.6,61.7 -20.8,62.7C-22.0,63.7 -21.5,63.9 -23.5,64.2C-25.5,64.4 -32.6,64.2 -32.6,64.2L-32.6,48.1Z"/>
<path fill="#ffff00" d="M-32.6,68.2C-32.6,68.2 -27.2,67.9 -23.5,68.2C-19.9,68.5 -14.4,68.8 -10.8,70.0C-7.1,71.2 -4.1,73.4 -1.6,75.5C0.8,77.6 0.8,81.1 3.8,82.8C6.9,84.5 11.5,85.4 16.6,85.5C21.8,85.7 29.1,83.9 34.9,83.7C40.6,83.6 47.2,83.6 51.3,84.6C55.4,85.7 58.3,87.7 59.5,90.1C60.7,92.5 59.7,96.2 58.6,99.2C57.5,102.3 54.6,105.9 53.1,108.3C51.6,110.8 50.4,112.5 49.5,113.8C48.6,115.1 48.1,114.7 47.6,116.2C47.2,117.7 46.7,122.9 46.7,122.9L-32.6,122.9L-32.6,68.2Z"/>
<path fill="#ffffff" d="M-32.6,101.8C-32.6,101.8 -24.9,101.9 -22.4,101.8C-19.9,101.6 -19.6,100.2 -17.7,100.9C-15.8,101.5 -12.4,103.7 -10.9,105.6C-9.5,107.5 -9.1,110.3 -9.1,112.2C-9.1,114.1 -10.6,114.7 -10.9,117.1C-11.2,119.5 -10.9,126.6 -10.9,126.6L-32.6,126.6L-32.6,101.8Z"/>
<ellipse fill="#80ffff" cx="-23.0" cy="109.3" rx="1.5" ry="4.4"/>
<path fill="#ffffff" d="M24.8,126.6C24.8,126.6 24.5,118.7 25.7,116.6C27.0,114.4 29.2,114.0 32.1,113.4C35.0,112.9 39.9,113.7 43.1,113.1C46.3,112.5 49.9,107.5 51.3,109.8C52.7,112.0 51.3,126.6 51.3,126.6L24.8,126.6Z"/>
<path fill="#ff8000" d="M-32.6,69.1C-32.6,69.1 -26.4,68.8 -23.5,69.1C-20.6,69.4 -17.7,69.6 -15.3,70.9C-12.9,72.3 -10.2,74.9 -8.9,77.3C-7.6,79.7 -7.0,83.1 -7.5,85.5C-7.9,88.0 -9.7,90.3 -11.7,91.9C-13.6,93.5 -17.0,94.7 -19.0,95.2C-20.9,95.7 -21.2,95.2 -23.5,95.2C-25.8,95.2 -32.6,95.2 -32.6,95.2L-32.6,69.1Z"/>
<path fill="#ff0000" d="M-32.6,72.8C-32.6,72.8 -25.5,72.3 -23.5,72.8C-21.5,73.2 -21.4,74.1 -20.8,75.5C-20.2,76.9 -19.7,79.3 -19.9,81.0C-20.0,82.6 -21.1,84.6 -21.7,85.5C-22.3,86.4 -21.7,86.3 -23.5,86.4C-25.4,86.6 -32.6,86.4 -32.6,86.4L-32.6,72.8Z"/>
<path fill="#ff8000" d="M4.8,122.9C4.8,122.9 4.9,118.2 5.7,116.2C6.4,114.2 7.6,112.2 9.3,111.1C11.0,109.9 13.9,109.1 15.7,109.3C17.5,109.4 19.2,110.8 20.3,112.0C21.3,113.1 21.7,114.4 22.1,116.2C22.5,118.0 22.5,122.9 22.5,122.9L4.8,122.9Z"/>
<path fill="#80ffff" d="M49.5,122.9C49.5,122.9 49.5,118.5 50.4,116.2C51.3,113.9 52.7,111.5 54.9,109.3C57.2,107.0 61.0,103.9 64.1,102.9C67.1,101.8 70.8,102.0 73.2,102.9C75.6,103.8 77.4,106.1 78.7,108.3C79.9,110.6 80.1,113.8 80.5,116.2C80.9,118.6 80.9,122.9 80.9,122.9L49.5,122.9Z"/>
<path fill="#0080ff" d="M54.0,122.9C54.0,122.9 53.9,118.2 54.9,116.2C56.0,114.2 58.3,112.5 60.4,111.1C62.5,109.6 65.3,107.7 67.7,107.4C70.1,107.1 73.2,107.8 75.0,109.3C76.8,110.7 78.0,113.9 78.7,116.2C79.3,118.5 79.0,122.9 79.0,122.9L54.0,122.9Z"/>
<ellipse fill="#0000ff" cx="67.7" cy="116.4" rx="5.8" ry="1.5"/>
<path fill="#ffff00" d="M102.4,77.3C102.4,77.3 95.6,77.6 92.9,78.2C90.2,78.8 88.0,79.3 86.0,81.0C83.9,82.6 81.5,85.2 80.5,88.3C79.5,91.3 80.0,95.9 80.1,99.2C80.3,102.6 81.3,105.5 81.4,108.3C81.5,111.2 80.7,113.8 80.5,116.2C80.3,118.6 80.1,122.9 80.1,122.9L102.4,122.9L102.4,77.3Z"/>
<path fill="#ff8000" d="M81.4,122.9C81.4,122.9 81.7,118.0 82.3,116.2C82.9,114.4 83.8,113.1 85.1,112.0C86.3,110.9 88.3,110.0 89.6,109.8C90.9,109.6 90.8,110.3 92.9,110.5C95.0,110.7 102.4,111.1 102.4,111.1L102.4,122.9L81.4,122.9Z"/>
</g>
<path d="M0,0.3V93.0H93.3" fill="none" stroke="#000" stroke-width="1.25" stroke-dasharray="1.25 1.42"/><path d="M-23.60,0V116.90H93.3" fill="none" stroke="#222" stroke-width="1.65" stroke-linejoin="round"/>
</g>
<g transform="translate(376.5,523.8)">
<g clip-path="url(#cp1)">
<path fill="#80ffff" d="M-32.1,43.0C-32.1,43.0 -26.2,42.6 -23.6,43.0C-21.0,43.4 -18.6,43.6 -16.6,45.4C-14.7,47.1 -12.8,50.7 -12.1,53.6C-11.4,56.5 -11.7,59.7 -12.4,62.7C-13.2,65.8 -15.2,69.6 -16.6,71.8C-18.1,74.1 -20.0,74.3 -21.2,76.4C-22.4,78.5 -21.7,83.2 -23.6,84.6C-25.4,86.0 -32.1,84.6 -32.1,84.6L-32.1,43.0Z"/>
<path fill="#ffff00" d="M-32.1,-8.4L-19.4,-8.4C-19.4,-8.4 -19.4,-2.5 -19.7,0.1C-20.0,2.7 -20.6,5.8 -21.2,7.1C-21.8,8.4 -21.7,7.8 -23.6,8.0C-25.4,8.1 -32.1,8.0 -32.1,8.0L-32.1,-8.4Z"/>
<ellipse fill="#ffff00" cx="4.3" cy="116.7" rx="5.5" ry="1.3"/>
<ellipse fill="#80ffff" cx="34.5" cy="116.7" rx="5.5" ry="1.3"/>
</g>
<path d="M0,0.3V93.0H93.3" fill="none" stroke="#000" stroke-width="1.25" stroke-dasharray="1.25 1.42"/><path d="M-23.60,0V116.90H93.3" fill="none" stroke="#222" stroke-width="1.65" stroke-linejoin="round"/>
</g>
<g transform="translate(534.0,523.8)">
<g clip-path="url(#cp1)">
<path fill="#80ffff" d="M-32.6,39.0C-32.6,39.0 -26.4,38.4 -23.5,39.0C-20.6,39.6 -17.6,40.5 -15.3,42.6C-13.0,44.8 -10.8,49.0 -9.8,51.8C-8.8,54.5 -9.0,56.3 -9.3,59.1C-9.6,61.8 -10.2,65.8 -11.7,68.2C-13.1,70.6 -16.1,72.7 -18.1,73.7C-20.0,74.6 -21.1,74.0 -23.5,74.0C-26.0,74.1 -32.6,74.0 -32.6,74.0L-32.6,39.0Z"/>
<ellipse fill="#ffff00" cx="-22.8" cy="13.4" rx="1.5" ry="3.3"/>
<ellipse fill="#80ffff" cx="38.5" cy="116.7" rx="7.3" ry="0.9"/>
</g>
<path d="M0,0.3V93.0H93.3" fill="none" stroke="#000" stroke-width="1.25" stroke-dasharray="1.25 1.42"/><path d="M-23.60,0V116.90H93.3" fill="none" stroke="#222" stroke-width="1.65" stroke-linejoin="round"/>
</g>
<g transform="translate(61.5,650.0)">
<g clip-path="url(#cp2)">
<path fill="#ffff00" d="M-73.5,-22.0L36.1,-22.0C36.1,-22.0 36.9,-6.3 36.1,0.1C35.3,6.5 33.6,10.2 31.2,16.5C28.8,22.8 25.4,30.9 21.6,38.2C17.8,45.4 13.2,53.0 8.4,59.9C3.5,66.7 -1.7,73.5 -7.3,79.1C-12.9,84.7 -19.5,89.8 -25.4,93.6C-31.2,97.4 -36.8,99.8 -42.2,102.0C-47.6,104.2 -52.7,105.8 -57.9,106.8C-63.1,107.8 -73.5,108.0 -73.5,108.0L-73.5,-22.0Z"/>
<path fill="#ff8000" d="M-73.5,-22.0L-17.4,-22.0C-17.4,-22.0 -17.8,-6.7 -17.4,0.1C-17.1,6.9 -15.5,12.6 -15.3,18.9C-15.0,25.2 -14.9,31.4 -15.7,38.2C-16.6,45.0 -18.1,53.0 -20.6,59.9C-23.0,66.7 -26.6,73.5 -30.2,79.1C-33.8,84.7 -37.6,89.8 -42.2,93.6C-46.8,97.4 -52.7,100.4 -57.9,102.0C-63.1,103.6 -73.5,103.2 -73.5,103.2L-73.5,-22.0Z"/>
<path fill="#80ffff" d="M-73.5,109.2C-73.5,109.2 -62.3,109.4 -57.9,109.2C-53.5,109.0 -51.7,109.0 -47.0,108.0C-42.4,107.0 -35.8,105.6 -30.2,103.2C-24.6,100.8 -18.9,97.0 -13.3,93.6C-7.7,90.2 -2.5,86.6 3.5,82.7C9.6,78.9 16.4,74.1 22.8,70.7C29.2,67.3 35.3,64.5 42.1,62.3C48.9,60.1 56.9,58.4 63.8,57.4C70.6,56.4 78.2,56.2 83.0,56.2C87.9,56.2 88.1,57.0 92.9,57.4C97.7,57.8 111.9,58.6 111.9,58.6L111.9,114.8C111.9,114.8 97.7,114.7 92.9,114.8C88.1,114.9 86.7,114.6 83.0,115.3C79.4,115.9 75.0,116.9 71.0,118.9C67.0,120.9 62.1,123.9 58.9,127.3C55.7,130.7 53.5,135.4 51.7,139.3C49.9,143.3 48.9,146.9 48.1,150.9C47.3,154.9 46.9,163.4 46.9,163.4L-73.5,163.4L-73.5,109.2Z"/>
<path fill="#0080ff" d="M-73.5,110.4C-73.5,110.4 -62.3,109.8 -57.9,110.4C-53.5,111.0 -51.3,112.2 -47.0,114.1C-42.8,115.9 -37.0,120.0 -32.6,121.3C-28.2,122.6 -25.0,122.8 -20.6,122.0C-16.1,121.2 -11.3,118.1 -6.1,116.5C-0.9,114.9 5.1,112.9 10.8,112.4C16.4,111.8 23.2,112.2 27.6,113.3C32.0,114.4 34.9,116.1 37.3,118.9C39.7,121.6 41.1,125.9 42.1,129.7C43.1,133.5 43.3,138.2 43.3,141.8C43.3,145.3 42.4,147.3 42.1,150.9C41.8,154.5 41.6,163.4 41.6,163.4L-73.5,163.4L-73.5,110.4Z"/>
<path fill="#80ffff" d="M-44.6,163.4C-44.6,163.4 -44.6,153.7 -43.4,150.9C-42.2,148.1 -39.6,147.5 -37.4,146.6C-35.2,145.6 -32.6,145.2 -30.2,145.4C-27.8,145.6 -24.8,146.9 -23.0,147.8C-21.2,148.7 -20.1,148.3 -19.3,150.9C-18.6,153.5 -18.6,163.4 -18.6,163.4L-44.6,163.4Z"/>
<path fill="#ffff00" d="M50.5,163.4C50.5,163.4 50.7,154.9 51.7,150.9C52.7,146.9 54.3,142.7 56.5,139.3C58.7,136.0 61.3,133.1 65.0,130.9C68.6,128.7 73.6,127.1 78.2,126.1C82.9,125.1 87.3,125.2 92.9,124.9C98.5,124.6 111.9,124.4 111.9,124.4L111.9,163.4L50.5,163.4Z"/>
<path fill="#ff8000" d="M55.3,163.4C55.3,163.4 55.1,154.5 56.5,150.9C57.9,147.3 60.9,144.0 63.8,141.8C66.6,139.5 69.8,138.3 73.4,137.4C77.0,136.5 82.2,136.5 85.4,136.5C88.7,136.5 88.5,137.1 92.9,137.4C97.3,137.7 111.9,138.1 111.9,138.1L111.9,163.4L55.3,163.4Z"/>
</g>
<path d="M0,0.3V93.0H93.3" fill="none" stroke="#000" stroke-width="1.25" stroke-dasharray="1.25 1.42"/><path d="M-58.00,0V151.30H93.3" fill="none" stroke="#222" stroke-width="1.65" stroke-linejoin="round"/>
</g>
<g transform="translate(219.0,650.0)">
<g clip-path="url(#cp2)">
<path fill="#ffff00" d="M-76.0,-22.0L-38.7,-22.0C-38.7,-22.0 -37.3,-4.3 -38.7,0.1C-40.1,4.5 -44.0,3.2 -47.1,4.5C-50.3,5.7 -52.7,6.7 -57.5,7.3C-62.3,7.9 -76.0,8.1 -76.0,8.1L-76.0,-22.0Z"/>
<path fill="#80ffff" d="M-76.0,15.3C-76.0,15.3 -63.1,15.4 -57.5,15.3C-51.9,15.2 -47.7,14.3 -42.3,14.8C-37.0,15.3 -30.7,16.5 -25.5,18.4C-20.2,20.3 -14.8,22.8 -11.0,26.1C-7.2,29.4 -4.3,33.4 -2.6,38.2C-0.9,43.0 -0.5,49.0 -0.9,55.0C-1.3,61.1 -2.9,68.7 -5.0,74.3C-7.1,79.9 -10.0,85.1 -13.4,88.8C-16.8,92.4 -21.4,94.8 -25.5,96.0C-29.5,97.2 -33.5,96.8 -37.5,96.0C-41.5,95.2 -46.2,92.8 -49.5,91.2C-52.9,89.6 -53.1,87.4 -57.5,86.4C-61.9,85.3 -76.0,85.1 -76.0,85.1L-76.0,15.3Z"/>
<path fill="#0080ff" d="M-76.0,30.9C-76.0,30.9 -61.9,30.3 -57.5,30.9C-53.1,31.6 -51.9,32.4 -49.5,34.6C-47.2,36.8 -44.7,40.8 -43.5,44.2C-42.3,47.6 -41.9,51.2 -42.3,55.0C-42.7,58.9 -44.1,63.9 -45.9,67.1C-47.7,70.3 -51.2,72.7 -53.2,74.3C-55.1,75.9 -53.7,76.2 -57.5,76.7C-61.3,77.2 -76.0,77.2 -76.0,77.2L-76.0,30.9Z"/>
<path fill="#80ffff" d="M-29.1,163.4C-29.1,163.4 -28.7,154.7 -27.9,150.9C-27.1,147.1 -26.3,143.5 -24.3,140.5C-22.2,137.6 -18.8,134.6 -15.8,133.3C-12.8,132.0 -9.4,131.8 -6.2,132.6C-3.0,133.4 0.4,136.0 3.4,138.1C6.5,140.3 9.8,143.2 11.9,145.4C14.0,147.5 15.2,147.9 16.0,150.9C16.8,153.9 16.7,163.4 16.7,163.4L-29.1,163.4Z"/>
<path fill="#ffff00" d="M32.4,163.4C32.4,163.4 33.0,155.7 33.6,150.9C34.2,146.1 34.6,140.1 36.0,134.5C37.4,129.0 39.0,122.5 42.0,117.7C45.0,112.8 49.2,108.8 54.0,105.6C58.8,102.4 65.7,100.1 70.9,98.4C76.1,96.7 81.6,96.1 85.3,95.5C89.1,94.9 89.3,95.0 93.3,94.8C97.3,94.5 109.4,94.1 109.4,94.1L109.4,163.4L32.4,163.4Z"/>
<path fill="#ff8000" d="M66.1,163.4C66.1,163.4 65.7,154.1 67.3,150.9C68.9,147.7 72.7,145.8 75.7,144.2C78.7,142.6 82.4,141.9 85.3,141.3C88.3,140.7 89.3,140.7 93.3,140.5C97.3,140.4 109.4,140.3 109.4,140.3L109.4,163.4L66.1,163.4Z"/>
</g>
<path d="M0,0.3V93.0H93.3" fill="none" stroke="#000" stroke-width="1.25" stroke-dasharray="1.25 1.42"/><path d="M-58.00,0V151.30H93.3" fill="none" stroke="#222" stroke-width="1.65" stroke-linejoin="round"/>
</g>
<g transform="translate(376.5,650.0)">
<g clip-path="url(#cp2)">

</g>
<path d="M0,0.3V93.0H93.3" fill="none" stroke="#000" stroke-width="1.25" stroke-dasharray="1.25 1.42"/><path d="M-58.00,0V151.30H93.3" fill="none" stroke="#222" stroke-width="1.65" stroke-linejoin="round"/>
</g>
<g transform="translate(534.0,650.0)">
<g clip-path="url(#cp2)">

</g>
<path d="M0,0.3V93.0H93.3" fill="none" stroke="#000" stroke-width="1.25" stroke-dasharray="1.25 1.42"/><path d="M-58.00,0V151.30H93.3" fill="none" stroke="#222" stroke-width="1.65" stroke-linejoin="round"/>
</g>
<text y="16.8" font-size="14.6px"><tspan x="37.6" font-style="italic">f</tspan><tspan x="43.3" y="21.2" font-size="9px" letter-spacing="0.3">AC</tspan><tspan x="56.6" y="16.8">=</tspan><tspan x="69.0">0,</tspan><tspan x="84.8" font-style="italic">K</tspan><tspan x="98.5">=</tspan><tspan x="111.8">0</tspan></text>
<text y="16.8" font-size="14.6px"><tspan x="195.1" font-style="italic">f</tspan><tspan x="200.8" y="21.2" font-size="9px" letter-spacing="0.3">AC</tspan><tspan x="214.1" y="16.8">=</tspan><tspan x="226.5">0,</tspan><tspan x="242.3" font-style="italic">K</tspan><tspan x="256.0">=</tspan><tspan x="269.3">3</tspan></text>
<text y="16.8" font-size="14.6px"><tspan x="346.7" font-style="italic">f</tspan><tspan x="352.4" y="21.2" font-size="9px" letter-spacing="0.3">AC</tspan><tspan x="365.7" y="16.8">=</tspan><tspan x="377.7">1/8,</tspan><tspan x="406.0" font-style="italic">K</tspan><tspan x="420.1">=</tspan><tspan x="433.3">0</tspan></text>
<text y="16.8" font-size="14.6px"><tspan x="504.2" font-style="italic">f</tspan><tspan x="509.9" y="21.2" font-size="9px" letter-spacing="0.3">AC</tspan><tspan x="523.2" y="16.8">=</tspan><tspan x="535.2">1/8,</tspan><tspan x="563.5" font-style="italic">K</tspan><tspan x="577.6">=</tspan><tspan x="590.8">3</tspan></text>
<text x="1.0" y="37.3" font-size="16.8px">(a)</text>
<text x="1.5" y="433.2" font-size="16.8px">(b)</text>
<text y="115.3" font-size="15px"><tspan x="7.9" font-style="italic">N</tspan><tspan x="17.3" y="118.8" font-size="7.5px">p</tspan><tspan x="24.5" y="115.3">=</tspan><tspan x="35.6" font-size="14px">2</tspan></text>
<text y="225.8" font-size="15px"><tspan x="7.9" font-style="italic">N</tspan><tspan x="17.3" y="229.5" font-size="7.5px">p</tspan><tspan x="7.9" y="242.8">=</tspan><tspan x="20.3" font-size="14px" letter-spacing="-0.6">16</tspan></text>
<text y="395.9" font-size="15px"><tspan x="7.9" font-style="italic">N</tspan><tspan x="17.3" y="399.4" font-size="7.5px">p</tspan><tspan x="24.5" y="395.9">=</tspan><tspan x="35.6" font-size="14px">40</tspan></text>
<text y="433.8" font-size="15px"><tspan x="113.5" font-style="italic">N</tspan><tspan x="122.6" y="439.7" font-size="7.2px">P</tspan><tspan x="126.4" y="433.8">=</tspan><tspan x="137.7" font-size="14px">2</tspan></text>
<text y="536.6" font-size="15px"><tspan x="113.5" font-style="italic">N</tspan><tspan x="122.6" y="542.5" font-size="7.2px">P</tspan><tspan x="126.4" y="536.6">=</tspan><tspan x="137.7" font-size="14px">16</tspan></text>
<text y="662.8" font-size="15px"><tspan x="113.5" font-style="italic">N</tspan><tspan x="122.6" y="668.7" font-size="7.2px">P</tspan><tspan x="126.4" y="662.8">=</tspan><tspan x="137.7" font-size="14px">40</tspan></text>
<rect x="631.0" y="107.2" width="17.7" height="21.4" fill="#800000"/><rect x="631.0" y="128.3" width="17.7" height="14.5" fill="#ff0000"/><rect x="631.0" y="142.5" width="17.7" height="14.5" fill="#ff8000"/><rect x="631.0" y="156.6" width="17.7" height="14.5" fill="#ffff00"/><rect x="631.0" y="170.8" width="17.7" height="14.5" fill="#ffffff"/><rect x="631.0" y="185.0" width="17.7" height="14.5" fill="#80ffff"/><rect x="631.0" y="199.2" width="17.7" height="14.5" fill="#0080ff"/><rect x="631.0" y="213.3" width="17.7" height="14.5" fill="#0000ff"/><rect x="631.0" y="227.5" width="17.7" height="21.6" fill="#000080"/><rect x="631.0" y="107.2" width="17.7" height="141.6" fill="none" stroke="#888" stroke-width="0.4"/>
<text x="657.2" y="120.4" font-size="12px">1.35</text>
<text x="657.2" y="134.6" font-size="12px">1.05</text>
<text x="657.2" y="148.8" font-size="12px">0.75</text>
<text x="657.2" y="163.0" font-size="12px">0.45</text>
<text x="657.2" y="177.2" font-size="12px">0.15</text>
<text y="191.4" font-size="12px"><tspan x="653.6">-</tspan><tspan x="657.2">0.15</tspan></text>
<text y="205.5" font-size="12px"><tspan x="653.6">-</tspan><tspan x="657.2">0.45</tspan></text>
<text y="219.7" font-size="12px"><tspan x="653.6">-</tspan><tspan x="657.2">0.75</tspan></text>
<text y="233.9" font-size="12px"><tspan x="653.6">-</tspan><tspan x="657.2">1.05</tspan></text>
<text y="248.1" font-size="12px"><tspan x="653.6">-</tspan><tspan x="657.2">1.35</tspan></text>
<text transform="translate(652.6,86.8) scale(0.81,1)" font-size="16px" font-weight="bold">u</text>
<text x="659.2" y="90.9" font-size="8.5px" font-style="italic">x</text>
<rect x="632.8" y="542.7" width="17.8" height="21.2" fill="#800000"/><rect x="632.8" y="563.6" width="17.8" height="14.5" fill="#ff0000"/><rect x="632.8" y="577.8" width="17.8" height="14.5" fill="#ff8000"/><rect x="632.8" y="592.0" width="17.8" height="14.5" fill="#ffff00"/><rect x="632.8" y="606.2" width="17.8" height="14.5" fill="#ffffff"/><rect x="632.8" y="620.4" width="17.8" height="14.5" fill="#80ffff"/><rect x="632.8" y="634.6" width="17.8" height="14.5" fill="#0080ff"/><rect x="632.8" y="648.8" width="17.8" height="14.5" fill="#0000ff"/><rect x="632.8" y="663.0" width="17.8" height="22.0" fill="#000080"/><rect x="632.8" y="542.7" width="17.8" height="142.0" fill="none" stroke="#888" stroke-width="0.4"/>
<path d="M632.8,549.2H650.6M632.8,676.7H650.6" stroke="#400000" stroke-width="0.4" opacity="0.6"/>
<text x="659.0" y="555.6" font-size="12px">25</text>
<text x="659.0" y="569.8" font-size="12px">5</text>
<text x="659.0" y="583.9" font-size="12px">1</text>
<text x="659.0" y="598.1" font-size="12px">0.2</text>
<text x="659.0" y="612.2" font-size="12px">0.04</text>
<text y="626.4" font-size="12px"><tspan x="655.4">-</tspan><tspan x="659.0">0.04</tspan></text>
<text y="640.5" font-size="12px"><tspan x="655.4">-</tspan><tspan x="659.0">0.2</tspan></text>
<text y="654.6" font-size="12px"><tspan x="655.4">-</tspan><tspan x="659.0">1</tspan></text>
<text y="668.8" font-size="12px"><tspan x="655.4">-</tspan><tspan x="659.0">5</tspan></text>
<text y="683.0" font-size="12px"><tspan x="655.4">-</tspan><tspan x="659.0">25</tspan></text>
<text y="474.4" font-size="13px"><tspan x="639" font-style="italic">h</tspan><tspan x="650">∇</tspan><tspan x="662.2">·</tspan><tspan x="669.3" font-weight="bold">u</tspan></text>
<path d="M635.8,478.4H679" stroke="#444" stroke-width="0.7"/>
<text y="488.1" font-size="13px"><tspan x="642.5">σ</tspan><tspan font-size="8px" y="492" x="651.1" font-weight="bold">u</tspan><tspan font-size="8px">,PTV</tspan></text>
<text x="646" y="514.6" font-size="15px">[%]</text>
</svg></body></html>
